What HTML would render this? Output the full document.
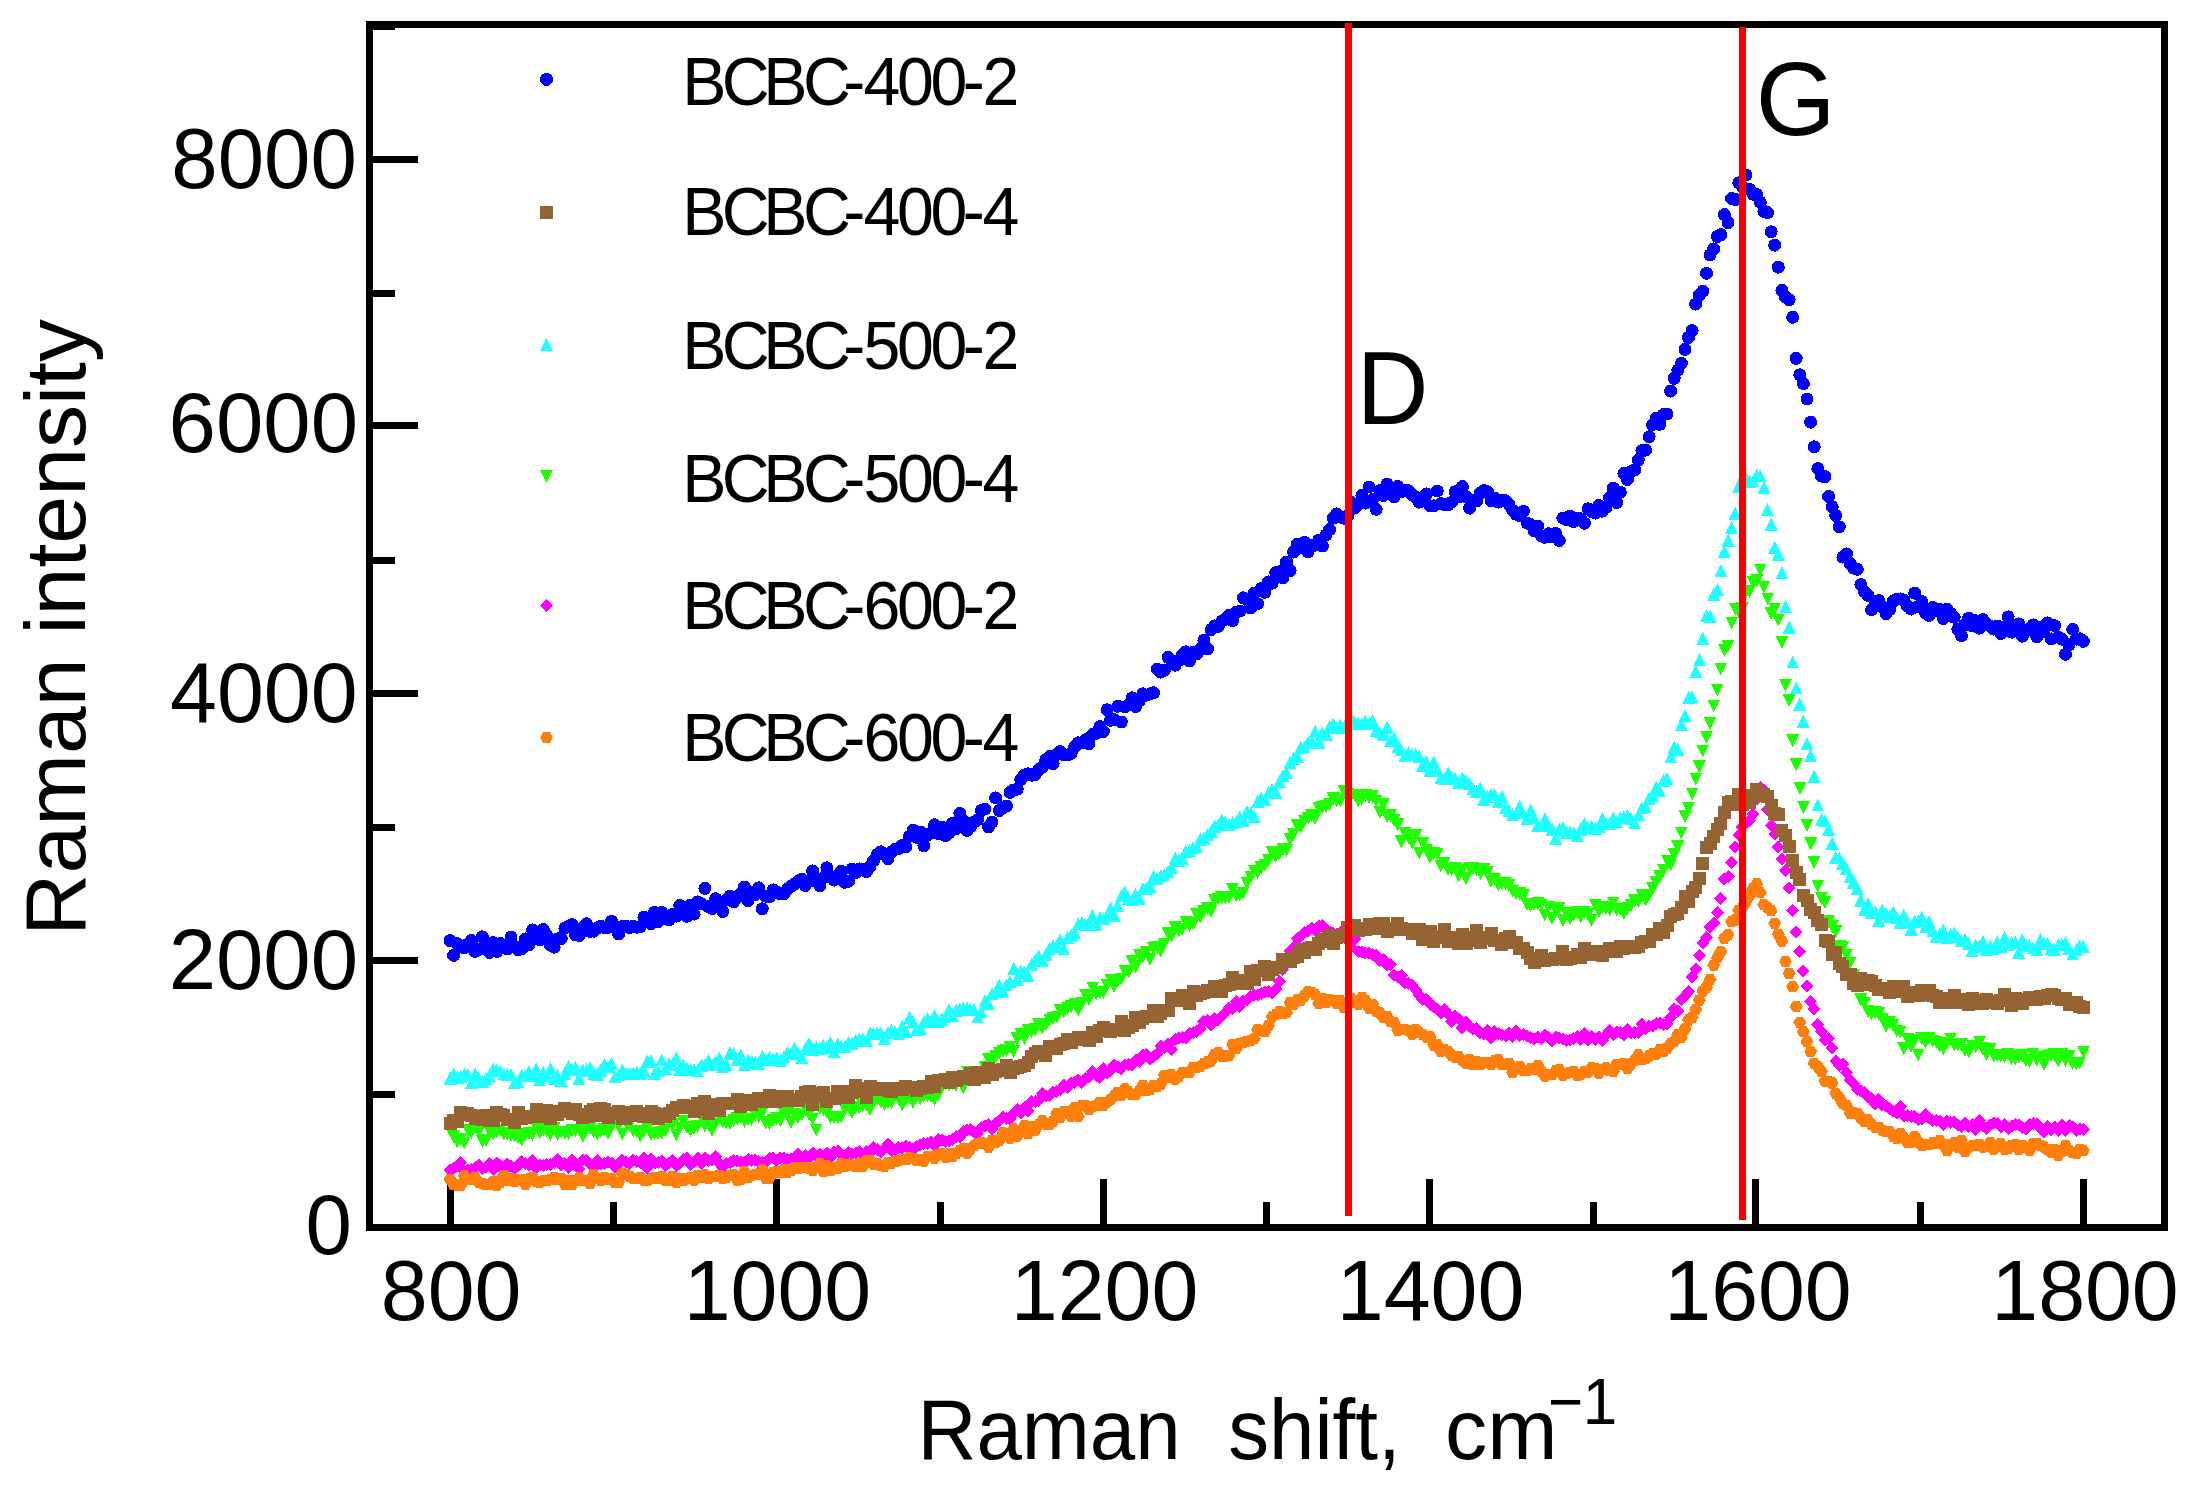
<!DOCTYPE html>
<html><head><meta charset="utf-8"><title>Raman spectra</title>
<style>html,body{margin:0;padding:0;background:#fff;overflow:hidden}svg{display:block}</style>
</head><body>
<svg xmlns="http://www.w3.org/2000/svg" width="2190" height="1490" viewBox="0 0 2190 1490">
<rect width="2190" height="1490" fill="#fff"/>
<g fill="none" stroke="#000" stroke-width="7" shape-rendering="crispEdges">
<rect x="369.5" y="24.5" width="1795" height="1203"/>
<path d="M373 960.5H418M373 693.4H418M373 425.5H418M373 159.5H418M373 1094H395M373 827H395M373 560H395M373 293H395M373 26H395M450 1224V1179M776.9 1224V1179M1103.5 1224V1179M1429.6 1224V1179M1755.5 1224V1179M2083.4 1224V1179M613.3 1224V1202M940 1224V1202M1266.7 1224V1202M1593.4 1224V1202M1920.1 1224V1202"/>
</g>
<g shape-rendering="crispEdges">
<path fill="#0000ff" d="M443.5 940.7a6.5 6.5 0 1 0 13 0a6.5 6.5 0 1 0-13 0M447.1 955.4a6.5 6.5 0 1 0 13 0a6.5 6.5 0 1 0-13 0M450.7 943.7a6.5 6.5 0 1 0 13 0a6.5 6.5 0 1 0-13 0M454.3 946.9a6.5 6.5 0 1 0 13 0a6.5 6.5 0 1 0-13 0M457.9 947.9a6.5 6.5 0 1 0 13 0a6.5 6.5 0 1 0-13 0M461.4 944.1a6.5 6.5 0 1 0 13 0a6.5 6.5 0 1 0-13 0M465 940.5a6.5 6.5 0 1 0 13 0a6.5 6.5 0 1 0-13 0M468.6 951.4a6.5 6.5 0 1 0 13 0a6.5 6.5 0 1 0-13 0M472.2 949.7a6.5 6.5 0 1 0 13 0a6.5 6.5 0 1 0-13 0M475.8 936.8a6.5 6.5 0 1 0 13 0a6.5 6.5 0 1 0-13 0M479.4 946.8a6.5 6.5 0 1 0 13 0a6.5 6.5 0 1 0-13 0M483 952.4a6.5 6.5 0 1 0 13 0a6.5 6.5 0 1 0-13 0M486.6 942.7a6.5 6.5 0 1 0 13 0a6.5 6.5 0 1 0-13 0M490.2 951.4a6.5 6.5 0 1 0 13 0a6.5 6.5 0 1 0-13 0M493.8 943.4a6.5 6.5 0 1 0 13 0a6.5 6.5 0 1 0-13 0M497.3 945.1a6.5 6.5 0 1 0 13 0a6.5 6.5 0 1 0-13 0M500.9 949a6.5 6.5 0 1 0 13 0a6.5 6.5 0 1 0-13 0M504.5 937a6.5 6.5 0 1 0 13 0a6.5 6.5 0 1 0-13 0M508.1 946.3a6.5 6.5 0 1 0 13 0a6.5 6.5 0 1 0-13 0M511.7 950a6.5 6.5 0 1 0 13 0a6.5 6.5 0 1 0-13 0M515.3 948.7a6.5 6.5 0 1 0 13 0a6.5 6.5 0 1 0-13 0M518.9 938.9a6.5 6.5 0 1 0 13 0a6.5 6.5 0 1 0-13 0M522.5 944.6a6.5 6.5 0 1 0 13 0a6.5 6.5 0 1 0-13 0M526.1 929.9a6.5 6.5 0 1 0 13 0a6.5 6.5 0 1 0-13 0M529.7 937.2a6.5 6.5 0 1 0 13 0a6.5 6.5 0 1 0-13 0M533.2 939.9a6.5 6.5 0 1 0 13 0a6.5 6.5 0 1 0-13 0M536.8 929.4a6.5 6.5 0 1 0 13 0a6.5 6.5 0 1 0-13 0M540.4 935.7a6.5 6.5 0 1 0 13 0a6.5 6.5 0 1 0-13 0M544 945.1a6.5 6.5 0 1 0 13 0a6.5 6.5 0 1 0-13 0M547.6 947.2a6.5 6.5 0 1 0 13 0a6.5 6.5 0 1 0-13 0M551.2 938.8a6.5 6.5 0 1 0 13 0a6.5 6.5 0 1 0-13 0M554.8 938.6a6.5 6.5 0 1 0 13 0a6.5 6.5 0 1 0-13 0M558.4 928.2a6.5 6.5 0 1 0 13 0a6.5 6.5 0 1 0-13 0M562 926.3a6.5 6.5 0 1 0 13 0a6.5 6.5 0 1 0-13 0M565.6 924.7a6.5 6.5 0 1 0 13 0a6.5 6.5 0 1 0-13 0M569.1 934.9a6.5 6.5 0 1 0 13 0a6.5 6.5 0 1 0-13 0M572.7 935.6a6.5 6.5 0 1 0 13 0a6.5 6.5 0 1 0-13 0M576.3 927.4a6.5 6.5 0 1 0 13 0a6.5 6.5 0 1 0-13 0M579.9 923.7a6.5 6.5 0 1 0 13 0a6.5 6.5 0 1 0-13 0M583.5 931.4a6.5 6.5 0 1 0 13 0a6.5 6.5 0 1 0-13 0M587.1 931.2a6.5 6.5 0 1 0 13 0a6.5 6.5 0 1 0-13 0M590.7 928.3a6.5 6.5 0 1 0 13 0a6.5 6.5 0 1 0-13 0M594.3 926a6.5 6.5 0 1 0 13 0a6.5 6.5 0 1 0-13 0M597.9 927.7a6.5 6.5 0 1 0 13 0a6.5 6.5 0 1 0-13 0M601.5 927.4a6.5 6.5 0 1 0 13 0a6.5 6.5 0 1 0-13 0M605 921.3a6.5 6.5 0 1 0 13 0a6.5 6.5 0 1 0-13 0M608.6 927.7a6.5 6.5 0 1 0 13 0a6.5 6.5 0 1 0-13 0M612.2 934a6.5 6.5 0 1 0 13 0a6.5 6.5 0 1 0-13 0M615.8 926.5a6.5 6.5 0 1 0 13 0a6.5 6.5 0 1 0-13 0M619.4 926.1a6.5 6.5 0 1 0 13 0a6.5 6.5 0 1 0-13 0M623 927.7a6.5 6.5 0 1 0 13 0a6.5 6.5 0 1 0-13 0M626.6 926.3a6.5 6.5 0 1 0 13 0a6.5 6.5 0 1 0-13 0M630.2 927.2a6.5 6.5 0 1 0 13 0a6.5 6.5 0 1 0-13 0M633.8 926.7a6.5 6.5 0 1 0 13 0a6.5 6.5 0 1 0-13 0M637.4 917.2a6.5 6.5 0 1 0 13 0a6.5 6.5 0 1 0-13 0M640.9 918.2a6.5 6.5 0 1 0 13 0a6.5 6.5 0 1 0-13 0M644.5 923.5a6.5 6.5 0 1 0 13 0a6.5 6.5 0 1 0-13 0M648.1 912.3a6.5 6.5 0 1 0 13 0a6.5 6.5 0 1 0-13 0M651.7 921.7a6.5 6.5 0 1 0 13 0a6.5 6.5 0 1 0-13 0M655.3 912.5a6.5 6.5 0 1 0 13 0a6.5 6.5 0 1 0-13 0M658.9 918.1a6.5 6.5 0 1 0 13 0a6.5 6.5 0 1 0-13 0M662.5 920.1a6.5 6.5 0 1 0 13 0a6.5 6.5 0 1 0-13 0M666.1 914.2a6.5 6.5 0 1 0 13 0a6.5 6.5 0 1 0-13 0M669.7 916.1a6.5 6.5 0 1 0 13 0a6.5 6.5 0 1 0-13 0M673.3 905.5a6.5 6.5 0 1 0 13 0a6.5 6.5 0 1 0-13 0M676.8 908.8a6.5 6.5 0 1 0 13 0a6.5 6.5 0 1 0-13 0M680.4 916.3a6.5 6.5 0 1 0 13 0a6.5 6.5 0 1 0-13 0M684 905.1a6.5 6.5 0 1 0 13 0a6.5 6.5 0 1 0-13 0M687.6 914.1a6.5 6.5 0 1 0 13 0a6.5 6.5 0 1 0-13 0M691.2 901.9a6.5 6.5 0 1 0 13 0a6.5 6.5 0 1 0-13 0M694.8 903.6a6.5 6.5 0 1 0 13 0a6.5 6.5 0 1 0-13 0M698.4 888.4a6.5 6.5 0 1 0 13 0a6.5 6.5 0 1 0-13 0M702 906.6a6.5 6.5 0 1 0 13 0a6.5 6.5 0 1 0-13 0M705.6 908.5a6.5 6.5 0 1 0 13 0a6.5 6.5 0 1 0-13 0M709.2 898.7a6.5 6.5 0 1 0 13 0a6.5 6.5 0 1 0-13 0M712.7 902.6a6.5 6.5 0 1 0 13 0a6.5 6.5 0 1 0-13 0M716.3 911.5a6.5 6.5 0 1 0 13 0a6.5 6.5 0 1 0-13 0M719.9 899.8a6.5 6.5 0 1 0 13 0a6.5 6.5 0 1 0-13 0M723.5 896.1a6.5 6.5 0 1 0 13 0a6.5 6.5 0 1 0-13 0M727.1 901.8a6.5 6.5 0 1 0 13 0a6.5 6.5 0 1 0-13 0M730.7 897.5a6.5 6.5 0 1 0 13 0a6.5 6.5 0 1 0-13 0M734.3 893.9a6.5 6.5 0 1 0 13 0a6.5 6.5 0 1 0-13 0M737.9 887.1a6.5 6.5 0 1 0 13 0a6.5 6.5 0 1 0-13 0M741.5 900.6a6.5 6.5 0 1 0 13 0a6.5 6.5 0 1 0-13 0M745.1 892.1a6.5 6.5 0 1 0 13 0a6.5 6.5 0 1 0-13 0M748.6 894.5a6.5 6.5 0 1 0 13 0a6.5 6.5 0 1 0-13 0M752.2 887.8a6.5 6.5 0 1 0 13 0a6.5 6.5 0 1 0-13 0M755.8 908.8a6.5 6.5 0 1 0 13 0a6.5 6.5 0 1 0-13 0M759.4 896.2a6.5 6.5 0 1 0 13 0a6.5 6.5 0 1 0-13 0M763 896.7a6.5 6.5 0 1 0 13 0a6.5 6.5 0 1 0-13 0M766.6 889.9a6.5 6.5 0 1 0 13 0a6.5 6.5 0 1 0-13 0M770.2 892.3a6.5 6.5 0 1 0 13 0a6.5 6.5 0 1 0-13 0M773.8 893.8a6.5 6.5 0 1 0 13 0a6.5 6.5 0 1 0-13 0M777.4 893.8a6.5 6.5 0 1 0 13 0a6.5 6.5 0 1 0-13 0M781 889.1a6.5 6.5 0 1 0 13 0a6.5 6.5 0 1 0-13 0M784.5 886.3a6.5 6.5 0 1 0 13 0a6.5 6.5 0 1 0-13 0M788.1 883.9a6.5 6.5 0 1 0 13 0a6.5 6.5 0 1 0-13 0M791.7 881a6.5 6.5 0 1 0 13 0a6.5 6.5 0 1 0-13 0M795.3 879a6.5 6.5 0 1 0 13 0a6.5 6.5 0 1 0-13 0M798.9 885.5a6.5 6.5 0 1 0 13 0a6.5 6.5 0 1 0-13 0M802.5 881.4a6.5 6.5 0 1 0 13 0a6.5 6.5 0 1 0-13 0M806.1 870.9a6.5 6.5 0 1 0 13 0a6.5 6.5 0 1 0-13 0M809.7 880.1a6.5 6.5 0 1 0 13 0a6.5 6.5 0 1 0-13 0M813.3 885.9a6.5 6.5 0 1 0 13 0a6.5 6.5 0 1 0-13 0M816.9 877.6a6.5 6.5 0 1 0 13 0a6.5 6.5 0 1 0-13 0M820.4 867.8a6.5 6.5 0 1 0 13 0a6.5 6.5 0 1 0-13 0M824 876.3a6.5 6.5 0 1 0 13 0a6.5 6.5 0 1 0-13 0M827.6 880.1a6.5 6.5 0 1 0 13 0a6.5 6.5 0 1 0-13 0M831.2 875.7a6.5 6.5 0 1 0 13 0a6.5 6.5 0 1 0-13 0M834.8 871.1a6.5 6.5 0 1 0 13 0a6.5 6.5 0 1 0-13 0M838.4 882.3a6.5 6.5 0 1 0 13 0a6.5 6.5 0 1 0-13 0M842 881.3a6.5 6.5 0 1 0 13 0a6.5 6.5 0 1 0-13 0M845.6 869a6.5 6.5 0 1 0 13 0a6.5 6.5 0 1 0-13 0M849.2 872.6a6.5 6.5 0 1 0 13 0a6.5 6.5 0 1 0-13 0M852.8 868.9a6.5 6.5 0 1 0 13 0a6.5 6.5 0 1 0-13 0M856.3 869.5a6.5 6.5 0 1 0 13 0a6.5 6.5 0 1 0-13 0M859.9 871.6a6.5 6.5 0 1 0 13 0a6.5 6.5 0 1 0-13 0M863.5 866.4a6.5 6.5 0 1 0 13 0a6.5 6.5 0 1 0-13 0M867.1 860.5a6.5 6.5 0 1 0 13 0a6.5 6.5 0 1 0-13 0M870.7 854.6a6.5 6.5 0 1 0 13 0a6.5 6.5 0 1 0-13 0M874.3 851.8a6.5 6.5 0 1 0 13 0a6.5 6.5 0 1 0-13 0M877.9 854.1a6.5 6.5 0 1 0 13 0a6.5 6.5 0 1 0-13 0M881.5 858.7a6.5 6.5 0 1 0 13 0a6.5 6.5 0 1 0-13 0M885.1 852.1a6.5 6.5 0 1 0 13 0a6.5 6.5 0 1 0-13 0M888.7 849a6.5 6.5 0 1 0 13 0a6.5 6.5 0 1 0-13 0M892.2 848.4a6.5 6.5 0 1 0 13 0a6.5 6.5 0 1 0-13 0M895.8 845.6a6.5 6.5 0 1 0 13 0a6.5 6.5 0 1 0-13 0M899.4 846.9a6.5 6.5 0 1 0 13 0a6.5 6.5 0 1 0-13 0M903 836.3a6.5 6.5 0 1 0 13 0a6.5 6.5 0 1 0-13 0M906.6 830.2a6.5 6.5 0 1 0 13 0a6.5 6.5 0 1 0-13 0M910.2 837.3a6.5 6.5 0 1 0 13 0a6.5 6.5 0 1 0-13 0M913.8 832a6.5 6.5 0 1 0 13 0a6.5 6.5 0 1 0-13 0M917.4 845.9a6.5 6.5 0 1 0 13 0a6.5 6.5 0 1 0-13 0M921 834.9a6.5 6.5 0 1 0 13 0a6.5 6.5 0 1 0-13 0M924.6 833.1a6.5 6.5 0 1 0 13 0a6.5 6.5 0 1 0-13 0M928.1 824.7a6.5 6.5 0 1 0 13 0a6.5 6.5 0 1 0-13 0M931.7 833.5a6.5 6.5 0 1 0 13 0a6.5 6.5 0 1 0-13 0M935.3 827.3a6.5 6.5 0 1 0 13 0a6.5 6.5 0 1 0-13 0M938.9 835.7a6.5 6.5 0 1 0 13 0a6.5 6.5 0 1 0-13 0M942.5 833.1a6.5 6.5 0 1 0 13 0a6.5 6.5 0 1 0-13 0M946.1 823.2a6.5 6.5 0 1 0 13 0a6.5 6.5 0 1 0-13 0M949.7 828.7a6.5 6.5 0 1 0 13 0a6.5 6.5 0 1 0-13 0M953.3 813.4a6.5 6.5 0 1 0 13 0a6.5 6.5 0 1 0-13 0M956.9 820.8a6.5 6.5 0 1 0 13 0a6.5 6.5 0 1 0-13 0M960.5 830.3a6.5 6.5 0 1 0 13 0a6.5 6.5 0 1 0-13 0M964 826.7a6.5 6.5 0 1 0 13 0a6.5 6.5 0 1 0-13 0M967.6 822.1a6.5 6.5 0 1 0 13 0a6.5 6.5 0 1 0-13 0M971.2 819.6a6.5 6.5 0 1 0 13 0a6.5 6.5 0 1 0-13 0M974.8 810.5a6.5 6.5 0 1 0 13 0a6.5 6.5 0 1 0-13 0M978.4 809.1a6.5 6.5 0 1 0 13 0a6.5 6.5 0 1 0-13 0M982 826.9a6.5 6.5 0 1 0 13 0a6.5 6.5 0 1 0-13 0M985.6 822a6.5 6.5 0 1 0 13 0a6.5 6.5 0 1 0-13 0M989.2 797.9a6.5 6.5 0 1 0 13 0a6.5 6.5 0 1 0-13 0M992.8 810.6a6.5 6.5 0 1 0 13 0a6.5 6.5 0 1 0-13 0M996.4 807.6a6.5 6.5 0 1 0 13 0a6.5 6.5 0 1 0-13 0M999.9 806.1a6.5 6.5 0 1 0 13 0a6.5 6.5 0 1 0-13 0M1003.5 792.3a6.5 6.5 0 1 0 13 0a6.5 6.5 0 1 0-13 0M1007.1 790.1a6.5 6.5 0 1 0 13 0a6.5 6.5 0 1 0-13 0M1010.7 789.2a6.5 6.5 0 1 0 13 0a6.5 6.5 0 1 0-13 0M1014.3 779.5a6.5 6.5 0 1 0 13 0a6.5 6.5 0 1 0-13 0M1017.9 775a6.5 6.5 0 1 0 13 0a6.5 6.5 0 1 0-13 0M1021.5 773.8a6.5 6.5 0 1 0 13 0a6.5 6.5 0 1 0-13 0M1025.1 775.2a6.5 6.5 0 1 0 13 0a6.5 6.5 0 1 0-13 0M1028.7 774.6a6.5 6.5 0 1 0 13 0a6.5 6.5 0 1 0-13 0M1032.3 769.5a6.5 6.5 0 1 0 13 0a6.5 6.5 0 1 0-13 0M1035.8 767.1a6.5 6.5 0 1 0 13 0a6.5 6.5 0 1 0-13 0M1039.4 759.9a6.5 6.5 0 1 0 13 0a6.5 6.5 0 1 0-13 0M1043 756.6a6.5 6.5 0 1 0 13 0a6.5 6.5 0 1 0-13 0M1046.6 763.7a6.5 6.5 0 1 0 13 0a6.5 6.5 0 1 0-13 0M1050.2 754.4a6.5 6.5 0 1 0 13 0a6.5 6.5 0 1 0-13 0M1053.8 751.6a6.5 6.5 0 1 0 13 0a6.5 6.5 0 1 0-13 0M1057.4 755a6.5 6.5 0 1 0 13 0a6.5 6.5 0 1 0-13 0M1061 754.9a6.5 6.5 0 1 0 13 0a6.5 6.5 0 1 0-13 0M1064.6 753.4a6.5 6.5 0 1 0 13 0a6.5 6.5 0 1 0-13 0M1068.2 747a6.5 6.5 0 1 0 13 0a6.5 6.5 0 1 0-13 0M1071.7 742.8a6.5 6.5 0 1 0 13 0a6.5 6.5 0 1 0-13 0M1075.3 742.7a6.5 6.5 0 1 0 13 0a6.5 6.5 0 1 0-13 0M1078.9 739.7a6.5 6.5 0 1 0 13 0a6.5 6.5 0 1 0-13 0M1082.5 743.6a6.5 6.5 0 1 0 13 0a6.5 6.5 0 1 0-13 0M1086.1 734.5a6.5 6.5 0 1 0 13 0a6.5 6.5 0 1 0-13 0M1089.7 733.3a6.5 6.5 0 1 0 13 0a6.5 6.5 0 1 0-13 0M1093.3 726.6a6.5 6.5 0 1 0 13 0a6.5 6.5 0 1 0-13 0M1096.9 731.5a6.5 6.5 0 1 0 13 0a6.5 6.5 0 1 0-13 0M1100.5 709.8a6.5 6.5 0 1 0 13 0a6.5 6.5 0 1 0-13 0M1104.1 720.3a6.5 6.5 0 1 0 13 0a6.5 6.5 0 1 0-13 0M1107.6 719.6a6.5 6.5 0 1 0 13 0a6.5 6.5 0 1 0-13 0M1111.2 706.3a6.5 6.5 0 1 0 13 0a6.5 6.5 0 1 0-13 0M1114.8 722a6.5 6.5 0 1 0 13 0a6.5 6.5 0 1 0-13 0M1118.4 706.9a6.5 6.5 0 1 0 13 0a6.5 6.5 0 1 0-13 0M1122 704.8a6.5 6.5 0 1 0 13 0a6.5 6.5 0 1 0-13 0M1125.6 697.8a6.5 6.5 0 1 0 13 0a6.5 6.5 0 1 0-13 0M1129.2 706.6a6.5 6.5 0 1 0 13 0a6.5 6.5 0 1 0-13 0M1132.8 700.9a6.5 6.5 0 1 0 13 0a6.5 6.5 0 1 0-13 0M1136.4 693.8a6.5 6.5 0 1 0 13 0a6.5 6.5 0 1 0-13 0M1140 695.2a6.5 6.5 0 1 0 13 0a6.5 6.5 0 1 0-13 0M1143.5 693.9a6.5 6.5 0 1 0 13 0a6.5 6.5 0 1 0-13 0M1147.1 692.7a6.5 6.5 0 1 0 13 0a6.5 6.5 0 1 0-13 0M1150.7 669a6.5 6.5 0 1 0 13 0a6.5 6.5 0 1 0-13 0M1154.3 672.1a6.5 6.5 0 1 0 13 0a6.5 6.5 0 1 0-13 0M1157.9 670.4a6.5 6.5 0 1 0 13 0a6.5 6.5 0 1 0-13 0M1161.5 657.2a6.5 6.5 0 1 0 13 0a6.5 6.5 0 1 0-13 0M1165.1 661a6.5 6.5 0 1 0 13 0a6.5 6.5 0 1 0-13 0M1168.7 665.2a6.5 6.5 0 1 0 13 0a6.5 6.5 0 1 0-13 0M1172.3 660.5a6.5 6.5 0 1 0 13 0a6.5 6.5 0 1 0-13 0M1175.9 654.9a6.5 6.5 0 1 0 13 0a6.5 6.5 0 1 0-13 0M1179.4 651.8a6.5 6.5 0 1 0 13 0a6.5 6.5 0 1 0-13 0M1183 660.9a6.5 6.5 0 1 0 13 0a6.5 6.5 0 1 0-13 0M1186.6 652.2a6.5 6.5 0 1 0 13 0a6.5 6.5 0 1 0-13 0M1190.2 653.9a6.5 6.5 0 1 0 13 0a6.5 6.5 0 1 0-13 0M1193.8 649a6.5 6.5 0 1 0 13 0a6.5 6.5 0 1 0-13 0M1197.4 640.2a6.5 6.5 0 1 0 13 0a6.5 6.5 0 1 0-13 0M1201 648.9a6.5 6.5 0 1 0 13 0a6.5 6.5 0 1 0-13 0M1204.6 629.7a6.5 6.5 0 1 0 13 0a6.5 6.5 0 1 0-13 0M1208.2 625.9a6.5 6.5 0 1 0 13 0a6.5 6.5 0 1 0-13 0M1211.8 626.3a6.5 6.5 0 1 0 13 0a6.5 6.5 0 1 0-13 0M1215.3 621.2a6.5 6.5 0 1 0 13 0a6.5 6.5 0 1 0-13 0M1218.9 618.8a6.5 6.5 0 1 0 13 0a6.5 6.5 0 1 0-13 0M1222.5 615.2a6.5 6.5 0 1 0 13 0a6.5 6.5 0 1 0-13 0M1226.1 620.6a6.5 6.5 0 1 0 13 0a6.5 6.5 0 1 0-13 0M1229.7 612.4a6.5 6.5 0 1 0 13 0a6.5 6.5 0 1 0-13 0M1233.3 611.1a6.5 6.5 0 1 0 13 0a6.5 6.5 0 1 0-13 0M1236.9 597.8a6.5 6.5 0 1 0 13 0a6.5 6.5 0 1 0-13 0M1240.5 599.6a6.5 6.5 0 1 0 13 0a6.5 6.5 0 1 0-13 0M1244.1 608a6.5 6.5 0 1 0 13 0a6.5 6.5 0 1 0-13 0M1247.7 593.1a6.5 6.5 0 1 0 13 0a6.5 6.5 0 1 0-13 0M1251.2 603.7a6.5 6.5 0 1 0 13 0a6.5 6.5 0 1 0-13 0M1254.8 588.6a6.5 6.5 0 1 0 13 0a6.5 6.5 0 1 0-13 0M1258.4 592.3a6.5 6.5 0 1 0 13 0a6.5 6.5 0 1 0-13 0M1262 581.9a6.5 6.5 0 1 0 13 0a6.5 6.5 0 1 0-13 0M1265.6 583.2a6.5 6.5 0 1 0 13 0a6.5 6.5 0 1 0-13 0M1269.2 572.6a6.5 6.5 0 1 0 13 0a6.5 6.5 0 1 0-13 0M1272.8 571.7a6.5 6.5 0 1 0 13 0a6.5 6.5 0 1 0-13 0M1276.4 577.9a6.5 6.5 0 1 0 13 0a6.5 6.5 0 1 0-13 0M1280 562a6.5 6.5 0 1 0 13 0a6.5 6.5 0 1 0-13 0M1283.6 570.5a6.5 6.5 0 1 0 13 0a6.5 6.5 0 1 0-13 0M1287.1 552.1a6.5 6.5 0 1 0 13 0a6.5 6.5 0 1 0-13 0M1290.7 544.1a6.5 6.5 0 1 0 13 0a6.5 6.5 0 1 0-13 0M1294.3 547.5a6.5 6.5 0 1 0 13 0a6.5 6.5 0 1 0-13 0M1297.9 542.3a6.5 6.5 0 1 0 13 0a6.5 6.5 0 1 0-13 0M1301.5 552.1a6.5 6.5 0 1 0 13 0a6.5 6.5 0 1 0-13 0M1305.1 545.3a6.5 6.5 0 1 0 13 0a6.5 6.5 0 1 0-13 0M1308.7 545.2a6.5 6.5 0 1 0 13 0a6.5 6.5 0 1 0-13 0M1312.3 540a6.5 6.5 0 1 0 13 0a6.5 6.5 0 1 0-13 0M1315.9 546a6.5 6.5 0 1 0 13 0a6.5 6.5 0 1 0-13 0M1319.5 534.9a6.5 6.5 0 1 0 13 0a6.5 6.5 0 1 0-13 0M1323 529.6a6.5 6.5 0 1 0 13 0a6.5 6.5 0 1 0-13 0M1326.6 518.2a6.5 6.5 0 1 0 13 0a6.5 6.5 0 1 0-13 0M1330.2 513.9a6.5 6.5 0 1 0 13 0a6.5 6.5 0 1 0-13 0M1333.8 516.6a6.5 6.5 0 1 0 13 0a6.5 6.5 0 1 0-13 0M1337.4 518.2a6.5 6.5 0 1 0 13 0a6.5 6.5 0 1 0-13 0M1341 516.2a6.5 6.5 0 1 0 13 0a6.5 6.5 0 1 0-13 0M1344.6 502.3a6.5 6.5 0 1 0 13 0a6.5 6.5 0 1 0-13 0M1348.2 508.1a6.5 6.5 0 1 0 13 0a6.5 6.5 0 1 0-13 0M1351.8 504.3a6.5 6.5 0 1 0 13 0a6.5 6.5 0 1 0-13 0M1355.4 495.5a6.5 6.5 0 1 0 13 0a6.5 6.5 0 1 0-13 0M1358.9 503.1a6.5 6.5 0 1 0 13 0a6.5 6.5 0 1 0-13 0M1362.5 487a6.5 6.5 0 1 0 13 0a6.5 6.5 0 1 0-13 0M1366.1 499.6a6.5 6.5 0 1 0 13 0a6.5 6.5 0 1 0-13 0M1369.7 509.3a6.5 6.5 0 1 0 13 0a6.5 6.5 0 1 0-13 0M1373.3 490.7a6.5 6.5 0 1 0 13 0a6.5 6.5 0 1 0-13 0M1376.9 495.5a6.5 6.5 0 1 0 13 0a6.5 6.5 0 1 0-13 0M1380.5 484a6.5 6.5 0 1 0 13 0a6.5 6.5 0 1 0-13 0M1384.1 489.4a6.5 6.5 0 1 0 13 0a6.5 6.5 0 1 0-13 0M1387.7 496.9a6.5 6.5 0 1 0 13 0a6.5 6.5 0 1 0-13 0M1391.3 486.5a6.5 6.5 0 1 0 13 0a6.5 6.5 0 1 0-13 0M1394.8 491.8a6.5 6.5 0 1 0 13 0a6.5 6.5 0 1 0-13 0M1398.4 490.3a6.5 6.5 0 1 0 13 0a6.5 6.5 0 1 0-13 0M1402 490.7a6.5 6.5 0 1 0 13 0a6.5 6.5 0 1 0-13 0M1405.6 494.6a6.5 6.5 0 1 0 13 0a6.5 6.5 0 1 0-13 0M1409.2 497.2a6.5 6.5 0 1 0 13 0a6.5 6.5 0 1 0-13 0M1412.8 502.2a6.5 6.5 0 1 0 13 0a6.5 6.5 0 1 0-13 0M1416.4 500.8a6.5 6.5 0 1 0 13 0a6.5 6.5 0 1 0-13 0M1420 493.9a6.5 6.5 0 1 0 13 0a6.5 6.5 0 1 0-13 0M1423.6 505.8a6.5 6.5 0 1 0 13 0a6.5 6.5 0 1 0-13 0M1427.2 505.8a6.5 6.5 0 1 0 13 0a6.5 6.5 0 1 0-13 0M1430.7 491a6.5 6.5 0 1 0 13 0a6.5 6.5 0 1 0-13 0M1434.3 503.6a6.5 6.5 0 1 0 13 0a6.5 6.5 0 1 0-13 0M1437.9 504.5a6.5 6.5 0 1 0 13 0a6.5 6.5 0 1 0-13 0M1441.5 505a6.5 6.5 0 1 0 13 0a6.5 6.5 0 1 0-13 0M1445.1 502.3a6.5 6.5 0 1 0 13 0a6.5 6.5 0 1 0-13 0M1448.7 491.7a6.5 6.5 0 1 0 13 0a6.5 6.5 0 1 0-13 0M1452.3 496.9a6.5 6.5 0 1 0 13 0a6.5 6.5 0 1 0-13 0M1455.9 486.6a6.5 6.5 0 1 0 13 0a6.5 6.5 0 1 0-13 0M1459.5 496.7a6.5 6.5 0 1 0 13 0a6.5 6.5 0 1 0-13 0M1463.1 508.2a6.5 6.5 0 1 0 13 0a6.5 6.5 0 1 0-13 0M1466.6 500.4a6.5 6.5 0 1 0 13 0a6.5 6.5 0 1 0-13 0M1470.2 500.8a6.5 6.5 0 1 0 13 0a6.5 6.5 0 1 0-13 0M1473.8 493.2a6.5 6.5 0 1 0 13 0a6.5 6.5 0 1 0-13 0M1477.4 490.6a6.5 6.5 0 1 0 13 0a6.5 6.5 0 1 0-13 0M1481 491.7a6.5 6.5 0 1 0 13 0a6.5 6.5 0 1 0-13 0M1484.6 500.6a6.5 6.5 0 1 0 13 0a6.5 6.5 0 1 0-13 0M1488.2 498.3a6.5 6.5 0 1 0 13 0a6.5 6.5 0 1 0-13 0M1491.8 502.1a6.5 6.5 0 1 0 13 0a6.5 6.5 0 1 0-13 0M1495.4 500.1a6.5 6.5 0 1 0 13 0a6.5 6.5 0 1 0-13 0M1499 500.8a6.5 6.5 0 1 0 13 0a6.5 6.5 0 1 0-13 0M1502.5 504.2a6.5 6.5 0 1 0 13 0a6.5 6.5 0 1 0-13 0M1506.1 510.3a6.5 6.5 0 1 0 13 0a6.5 6.5 0 1 0-13 0M1509.7 514.3a6.5 6.5 0 1 0 13 0a6.5 6.5 0 1 0-13 0M1513.3 516a6.5 6.5 0 1 0 13 0a6.5 6.5 0 1 0-13 0M1516.9 511.3a6.5 6.5 0 1 0 13 0a6.5 6.5 0 1 0-13 0M1520.5 523a6.5 6.5 0 1 0 13 0a6.5 6.5 0 1 0-13 0M1524.1 524.6a6.5 6.5 0 1 0 13 0a6.5 6.5 0 1 0-13 0M1527.7 530.8a6.5 6.5 0 1 0 13 0a6.5 6.5 0 1 0-13 0M1531.3 526.1a6.5 6.5 0 1 0 13 0a6.5 6.5 0 1 0-13 0M1534.9 535.8a6.5 6.5 0 1 0 13 0a6.5 6.5 0 1 0-13 0M1538.4 537.3a6.5 6.5 0 1 0 13 0a6.5 6.5 0 1 0-13 0M1542 533.8a6.5 6.5 0 1 0 13 0a6.5 6.5 0 1 0-13 0M1545.6 536.8a6.5 6.5 0 1 0 13 0a6.5 6.5 0 1 0-13 0M1549.2 533.4a6.5 6.5 0 1 0 13 0a6.5 6.5 0 1 0-13 0M1552.8 540.6a6.5 6.5 0 1 0 13 0a6.5 6.5 0 1 0-13 0M1556.4 518a6.5 6.5 0 1 0 13 0a6.5 6.5 0 1 0-13 0M1560 519.7a6.5 6.5 0 1 0 13 0a6.5 6.5 0 1 0-13 0M1563.6 516.1a6.5 6.5 0 1 0 13 0a6.5 6.5 0 1 0-13 0M1567.2 521.7a6.5 6.5 0 1 0 13 0a6.5 6.5 0 1 0-13 0M1570.8 518.6a6.5 6.5 0 1 0 13 0a6.5 6.5 0 1 0-13 0M1574.3 518.7a6.5 6.5 0 1 0 13 0a6.5 6.5 0 1 0-13 0M1577.9 523.3a6.5 6.5 0 1 0 13 0a6.5 6.5 0 1 0-13 0M1581.5 508.8a6.5 6.5 0 1 0 13 0a6.5 6.5 0 1 0-13 0M1585.1 511.5a6.5 6.5 0 1 0 13 0a6.5 6.5 0 1 0-13 0M1588.7 513.1a6.5 6.5 0 1 0 13 0a6.5 6.5 0 1 0-13 0M1592.3 505.5a6.5 6.5 0 1 0 13 0a6.5 6.5 0 1 0-13 0M1595.9 511.2a6.5 6.5 0 1 0 13 0a6.5 6.5 0 1 0-13 0M1599.5 507.2a6.5 6.5 0 1 0 13 0a6.5 6.5 0 1 0-13 0M1603.1 497.5a6.5 6.5 0 1 0 13 0a6.5 6.5 0 1 0-13 0M1606.7 488a6.5 6.5 0 1 0 13 0a6.5 6.5 0 1 0-13 0M1610.2 502.6a6.5 6.5 0 1 0 13 0a6.5 6.5 0 1 0-13 0M1613.8 492.2a6.5 6.5 0 1 0 13 0a6.5 6.5 0 1 0-13 0M1617.4 473.4a6.5 6.5 0 1 0 13 0a6.5 6.5 0 1 0-13 0M1621 479.5a6.5 6.5 0 1 0 13 0a6.5 6.5 0 1 0-13 0M1624.6 471.7a6.5 6.5 0 1 0 13 0a6.5 6.5 0 1 0-13 0M1628.2 470a6.5 6.5 0 1 0 13 0a6.5 6.5 0 1 0-13 0M1631.8 460a6.5 6.5 0 1 0 13 0a6.5 6.5 0 1 0-13 0M1635.4 450.7a6.5 6.5 0 1 0 13 0a6.5 6.5 0 1 0-13 0M1639 450.1a6.5 6.5 0 1 0 13 0a6.5 6.5 0 1 0-13 0M1642.6 436.8a6.5 6.5 0 1 0 13 0a6.5 6.5 0 1 0-13 0M1646.1 424.7a6.5 6.5 0 1 0 13 0a6.5 6.5 0 1 0-13 0M1649.7 418.3a6.5 6.5 0 1 0 13 0a6.5 6.5 0 1 0-13 0M1653.3 424.3a6.5 6.5 0 1 0 13 0a6.5 6.5 0 1 0-13 0M1656.9 414.6a6.5 6.5 0 1 0 13 0a6.5 6.5 0 1 0-13 0M1660.5 414.1a6.5 6.5 0 1 0 13 0a6.5 6.5 0 1 0-13 0M1664.1 391.1a6.5 6.5 0 1 0 13 0a6.5 6.5 0 1 0-13 0M1667.7 378.4a6.5 6.5 0 1 0 13 0a6.5 6.5 0 1 0-13 0M1671.3 370.3a6.5 6.5 0 1 0 13 0a6.5 6.5 0 1 0-13 0M1674.9 363.4a6.5 6.5 0 1 0 13 0a6.5 6.5 0 1 0-13 0M1678.5 349.3a6.5 6.5 0 1 0 13 0a6.5 6.5 0 1 0-13 0M1682 337.5a6.5 6.5 0 1 0 13 0a6.5 6.5 0 1 0-13 0M1685.6 330.6a6.5 6.5 0 1 0 13 0a6.5 6.5 0 1 0-13 0M1689.2 304.1a6.5 6.5 0 1 0 13 0a6.5 6.5 0 1 0-13 0M1692.8 295.1a6.5 6.5 0 1 0 13 0a6.5 6.5 0 1 0-13 0M1696.4 291.1a6.5 6.5 0 1 0 13 0a6.5 6.5 0 1 0-13 0M1700 273.3a6.5 6.5 0 1 0 13 0a6.5 6.5 0 1 0-13 0M1703.6 255a6.5 6.5 0 1 0 13 0a6.5 6.5 0 1 0-13 0M1707.2 248.9a6.5 6.5 0 1 0 13 0a6.5 6.5 0 1 0-13 0M1710.8 236.6a6.5 6.5 0 1 0 13 0a6.5 6.5 0 1 0-13 0M1714.4 234.7a6.5 6.5 0 1 0 13 0a6.5 6.5 0 1 0-13 0M1717.9 214.6a6.5 6.5 0 1 0 13 0a6.5 6.5 0 1 0-13 0M1721.5 222.5a6.5 6.5 0 1 0 13 0a6.5 6.5 0 1 0-13 0M1725.1 198.5a6.5 6.5 0 1 0 13 0a6.5 6.5 0 1 0-13 0M1728.7 199.5a6.5 6.5 0 1 0 13 0a6.5 6.5 0 1 0-13 0M1732.3 182.8a6.5 6.5 0 1 0 13 0a6.5 6.5 0 1 0-13 0M1735.9 186.7a6.5 6.5 0 1 0 13 0a6.5 6.5 0 1 0-13 0M1739.5 175a6.5 6.5 0 1 0 13 0a6.5 6.5 0 1 0-13 0M1743.1 189.3a6.5 6.5 0 1 0 13 0a6.5 6.5 0 1 0-13 0M1746.7 194.3a6.5 6.5 0 1 0 13 0a6.5 6.5 0 1 0-13 0M1750.3 194.5a6.5 6.5 0 1 0 13 0a6.5 6.5 0 1 0-13 0M1753.8 202.3a6.5 6.5 0 1 0 13 0a6.5 6.5 0 1 0-13 0M1757.4 211.3a6.5 6.5 0 1 0 13 0a6.5 6.5 0 1 0-13 0M1761 212.6a6.5 6.5 0 1 0 13 0a6.5 6.5 0 1 0-13 0M1764.6 231.8a6.5 6.5 0 1 0 13 0a6.5 6.5 0 1 0-13 0M1768.2 245.2a6.5 6.5 0 1 0 13 0a6.5 6.5 0 1 0-13 0M1771.8 267.2a6.5 6.5 0 1 0 13 0a6.5 6.5 0 1 0-13 0M1775.4 290.4a6.5 6.5 0 1 0 13 0a6.5 6.5 0 1 0-13 0M1779 297.1a6.5 6.5 0 1 0 13 0a6.5 6.5 0 1 0-13 0M1782.6 299.8a6.5 6.5 0 1 0 13 0a6.5 6.5 0 1 0-13 0M1786.2 317.3a6.5 6.5 0 1 0 13 0a6.5 6.5 0 1 0-13 0M1789.7 358.4a6.5 6.5 0 1 0 13 0a6.5 6.5 0 1 0-13 0M1793.3 374.8a6.5 6.5 0 1 0 13 0a6.5 6.5 0 1 0-13 0M1796.9 383.6a6.5 6.5 0 1 0 13 0a6.5 6.5 0 1 0-13 0M1800.5 399.1a6.5 6.5 0 1 0 13 0a6.5 6.5 0 1 0-13 0M1804.1 422.2a6.5 6.5 0 1 0 13 0a6.5 6.5 0 1 0-13 0M1807.7 446.8a6.5 6.5 0 1 0 13 0a6.5 6.5 0 1 0-13 0M1811.3 468.6a6.5 6.5 0 1 0 13 0a6.5 6.5 0 1 0-13 0M1814.9 476.1a6.5 6.5 0 1 0 13 0a6.5 6.5 0 1 0-13 0M1818.5 476.7a6.5 6.5 0 1 0 13 0a6.5 6.5 0 1 0-13 0M1822.1 496.5a6.5 6.5 0 1 0 13 0a6.5 6.5 0 1 0-13 0M1825.6 506.9a6.5 6.5 0 1 0 13 0a6.5 6.5 0 1 0-13 0M1829.2 515.6a6.5 6.5 0 1 0 13 0a6.5 6.5 0 1 0-13 0M1832.8 526.8a6.5 6.5 0 1 0 13 0a6.5 6.5 0 1 0-13 0M1836.4 557.1a6.5 6.5 0 1 0 13 0a6.5 6.5 0 1 0-13 0M1840 553.9a6.5 6.5 0 1 0 13 0a6.5 6.5 0 1 0-13 0M1843.6 563.4a6.5 6.5 0 1 0 13 0a6.5 6.5 0 1 0-13 0M1847.2 568.1a6.5 6.5 0 1 0 13 0a6.5 6.5 0 1 0-13 0M1850.8 569.3a6.5 6.5 0 1 0 13 0a6.5 6.5 0 1 0-13 0M1854.4 584.7a6.5 6.5 0 1 0 13 0a6.5 6.5 0 1 0-13 0M1858 591.6a6.5 6.5 0 1 0 13 0a6.5 6.5 0 1 0-13 0M1861.5 595.3a6.5 6.5 0 1 0 13 0a6.5 6.5 0 1 0-13 0M1865.1 609.7a6.5 6.5 0 1 0 13 0a6.5 6.5 0 1 0-13 0M1868.7 601.6a6.5 6.5 0 1 0 13 0a6.5 6.5 0 1 0-13 0M1872.3 600.6a6.5 6.5 0 1 0 13 0a6.5 6.5 0 1 0-13 0M1875.9 606.8a6.5 6.5 0 1 0 13 0a6.5 6.5 0 1 0-13 0M1879.5 613.7a6.5 6.5 0 1 0 13 0a6.5 6.5 0 1 0-13 0M1883.1 609.5a6.5 6.5 0 1 0 13 0a6.5 6.5 0 1 0-13 0M1886.7 601.4a6.5 6.5 0 1 0 13 0a6.5 6.5 0 1 0-13 0M1890.3 599.3a6.5 6.5 0 1 0 13 0a6.5 6.5 0 1 0-13 0M1893.9 598.9a6.5 6.5 0 1 0 13 0a6.5 6.5 0 1 0-13 0M1897.4 600.4a6.5 6.5 0 1 0 13 0a6.5 6.5 0 1 0-13 0M1901 606.1a6.5 6.5 0 1 0 13 0a6.5 6.5 0 1 0-13 0M1904.6 609.1a6.5 6.5 0 1 0 13 0a6.5 6.5 0 1 0-13 0M1908.2 593.2a6.5 6.5 0 1 0 13 0a6.5 6.5 0 1 0-13 0M1911.8 606.4a6.5 6.5 0 1 0 13 0a6.5 6.5 0 1 0-13 0M1915.4 601.7a6.5 6.5 0 1 0 13 0a6.5 6.5 0 1 0-13 0M1919 612.9a6.5 6.5 0 1 0 13 0a6.5 6.5 0 1 0-13 0M1922.6 615.4a6.5 6.5 0 1 0 13 0a6.5 6.5 0 1 0-13 0M1926.2 607.4a6.5 6.5 0 1 0 13 0a6.5 6.5 0 1 0-13 0M1929.8 610.7a6.5 6.5 0 1 0 13 0a6.5 6.5 0 1 0-13 0M1933.3 609.5a6.5 6.5 0 1 0 13 0a6.5 6.5 0 1 0-13 0M1936.9 618.5a6.5 6.5 0 1 0 13 0a6.5 6.5 0 1 0-13 0M1940.5 609.2a6.5 6.5 0 1 0 13 0a6.5 6.5 0 1 0-13 0M1944.1 613.4a6.5 6.5 0 1 0 13 0a6.5 6.5 0 1 0-13 0M1947.7 617.3a6.5 6.5 0 1 0 13 0a6.5 6.5 0 1 0-13 0M1951.3 629.2a6.5 6.5 0 1 0 13 0a6.5 6.5 0 1 0-13 0M1954.9 635.7a6.5 6.5 0 1 0 13 0a6.5 6.5 0 1 0-13 0M1958.5 624.5a6.5 6.5 0 1 0 13 0a6.5 6.5 0 1 0-13 0M1962.1 618.2a6.5 6.5 0 1 0 13 0a6.5 6.5 0 1 0-13 0M1965.7 625.7a6.5 6.5 0 1 0 13 0a6.5 6.5 0 1 0-13 0M1969.2 620.7a6.5 6.5 0 1 0 13 0a6.5 6.5 0 1 0-13 0M1972.8 628.2a6.5 6.5 0 1 0 13 0a6.5 6.5 0 1 0-13 0M1976.4 619.7a6.5 6.5 0 1 0 13 0a6.5 6.5 0 1 0-13 0M1980 624a6.5 6.5 0 1 0 13 0a6.5 6.5 0 1 0-13 0M1983.6 626.1a6.5 6.5 0 1 0 13 0a6.5 6.5 0 1 0-13 0M1987.2 629.1a6.5 6.5 0 1 0 13 0a6.5 6.5 0 1 0-13 0M1990.8 626a6.5 6.5 0 1 0 13 0a6.5 6.5 0 1 0-13 0M1994.4 633.5a6.5 6.5 0 1 0 13 0a6.5 6.5 0 1 0-13 0M1998 627.4a6.5 6.5 0 1 0 13 0a6.5 6.5 0 1 0-13 0M2001.6 616.9a6.5 6.5 0 1 0 13 0a6.5 6.5 0 1 0-13 0M2005.1 632.2a6.5 6.5 0 1 0 13 0a6.5 6.5 0 1 0-13 0M2008.7 625.8a6.5 6.5 0 1 0 13 0a6.5 6.5 0 1 0-13 0M2012.3 623.9a6.5 6.5 0 1 0 13 0a6.5 6.5 0 1 0-13 0M2015.9 636.2a6.5 6.5 0 1 0 13 0a6.5 6.5 0 1 0-13 0M2019.5 631.1a6.5 6.5 0 1 0 13 0a6.5 6.5 0 1 0-13 0M2023.1 628.9a6.5 6.5 0 1 0 13 0a6.5 6.5 0 1 0-13 0M2026.7 624.9a6.5 6.5 0 1 0 13 0a6.5 6.5 0 1 0-13 0M2030.3 636.7a6.5 6.5 0 1 0 13 0a6.5 6.5 0 1 0-13 0M2033.9 627.6a6.5 6.5 0 1 0 13 0a6.5 6.5 0 1 0-13 0M2037.5 631.4a6.5 6.5 0 1 0 13 0a6.5 6.5 0 1 0-13 0M2041 622.9a6.5 6.5 0 1 0 13 0a6.5 6.5 0 1 0-13 0M2044.6 638.9a6.5 6.5 0 1 0 13 0a6.5 6.5 0 1 0-13 0M2048.2 625.7a6.5 6.5 0 1 0 13 0a6.5 6.5 0 1 0-13 0M2051.8 637.3a6.5 6.5 0 1 0 13 0a6.5 6.5 0 1 0-13 0M2055.4 639.2a6.5 6.5 0 1 0 13 0a6.5 6.5 0 1 0-13 0M2059 654.3a6.5 6.5 0 1 0 13 0a6.5 6.5 0 1 0-13 0M2062.6 644.8a6.5 6.5 0 1 0 13 0a6.5 6.5 0 1 0-13 0M2066.2 629.4a6.5 6.5 0 1 0 13 0a6.5 6.5 0 1 0-13 0M2069.8 639.1a6.5 6.5 0 1 0 13 0a6.5 6.5 0 1 0-13 0M2073.4 638.8a6.5 6.5 0 1 0 13 0a6.5 6.5 0 1 0-13 0M2076.9 641.4a6.5 6.5 0 1 0 13 0a6.5 6.5 0 1 0-13 0"/>
<path fill="#20ffff" d="M450 1071.5l6.5 13h-13zM453.6 1067.4l6.5 13h-13zM457.2 1070.5l6.5 13h-13zM460.8 1069.9l6.5 13h-13zM464.4 1068.2l6.5 13h-13zM467.9 1067.9l6.5 13h-13zM471.5 1075.5l6.5 13h-13zM475.1 1067.4l6.5 13h-13zM478.7 1071.1l6.5 13h-13zM482.3 1074.6l6.5 13h-13zM485.9 1072.1l6.5 13h-13zM489.5 1069.3l6.5 13h-13zM493.1 1062.6l6.5 13h-13zM496.7 1063.6l6.5 13h-13zM500.3 1064.3l6.5 13h-13zM503.8 1067.4l6.5 13h-13zM507.4 1068l6.5 13h-13zM511 1068.4l6.5 13h-13zM514.6 1075.8l6.5 13h-13zM518.2 1075l6.5 13h-13zM521.8 1068.3l6.5 13h-13zM525.4 1069.3l6.5 13h-13zM529 1064.7l6.5 13h-13zM532.6 1069.2l6.5 13h-13zM536.2 1062.6l6.5 13h-13zM539.7 1072.9l6.5 13h-13zM543.3 1065.4l6.5 13h-13zM546.9 1069.3l6.5 13h-13zM550.5 1062l6.5 13h-13zM554.1 1072.1l6.5 13h-13zM557.7 1068.9l6.5 13h-13zM561.3 1073.9l6.5 13h-13zM564.9 1066.6l6.5 13h-13zM568.5 1060.1l6.5 13h-13zM572.1 1063.2l6.5 13h-13zM575.6 1061.3l6.5 13h-13zM579.2 1072l6.5 13h-13zM582.8 1063.6l6.5 13h-13zM586.4 1063l6.5 13h-13zM590 1061.4l6.5 13h-13zM593.6 1066.7l6.5 13h-13zM597.2 1067.5l6.5 13h-13zM600.8 1063.6l6.5 13h-13zM604.4 1057.8l6.5 13h-13zM608 1060.1l6.5 13h-13zM611.5 1056.8l6.5 13h-13zM615.1 1069.8l6.5 13h-13zM618.7 1068.2l6.5 13h-13zM622.3 1063.2l6.5 13h-13zM625.9 1066.8l6.5 13h-13zM629.5 1066.8l6.5 13h-13zM633.1 1066.4l6.5 13h-13zM636.7 1065.8l6.5 13h-13zM640.3 1066.9l6.5 13h-13zM643.9 1063.6l6.5 13h-13zM647.4 1054.6l6.5 13h-13zM651 1054.3l6.5 13h-13zM654.6 1067.1l6.5 13h-13zM658.2 1064.2l6.5 13h-13zM661.8 1053.2l6.5 13h-13zM665.4 1061.9l6.5 13h-13zM669 1057.4l6.5 13h-13zM672.6 1058.3l6.5 13h-13zM676.2 1051.6l6.5 13h-13zM679.8 1062.6l6.5 13h-13zM683.3 1058.9l6.5 13h-13zM686.9 1062l6.5 13h-13zM690.5 1062.7l6.5 13h-13zM694.1 1063.1l6.5 13h-13zM697.7 1064.1l6.5 13h-13zM701.3 1058.6l6.5 13h-13zM704.9 1058l6.5 13h-13zM708.5 1054.3l6.5 13h-13zM712.1 1058.4l6.5 13h-13zM715.7 1055.1l6.5 13h-13zM719.2 1051.2l6.5 13h-13zM722.8 1059.9l6.5 13h-13zM726.4 1057.7l6.5 13h-13zM730 1046.2l6.5 13h-13zM733.6 1047.2l6.5 13h-13zM737.2 1053.1l6.5 13h-13zM740.8 1048.4l6.5 13h-13zM744.4 1057.8l6.5 13h-13zM748 1053.5l6.5 13h-13zM751.6 1054.5l6.5 13h-13zM755.1 1055.5l6.5 13h-13zM758.7 1056.6l6.5 13h-13zM762.3 1050l6.5 13h-13zM765.9 1052.9l6.5 13h-13zM769.5 1051l6.5 13h-13zM773.1 1052.6l6.5 13h-13zM776.7 1051.2l6.5 13h-13zM780.3 1054l6.5 13h-13zM783.9 1050l6.5 13h-13zM787.5 1045.6l6.5 13h-13zM791 1047.3l6.5 13h-13zM794.6 1041.8l6.5 13h-13zM798.2 1046.8l6.5 13h-13zM801.8 1050.7l6.5 13h-13zM805.4 1041.9l6.5 13h-13zM809 1037.3l6.5 13h-13zM812.6 1042.6l6.5 13h-13zM816.2 1040.3l6.5 13h-13zM819.8 1041.6l6.5 13h-13zM823.4 1038.7l6.5 13h-13zM826.9 1040.6l6.5 13h-13zM830.5 1035.7l6.5 13h-13zM834.1 1044.9l6.5 13h-13zM837.7 1037.5l6.5 13h-13zM841.3 1039.6l6.5 13h-13zM844.9 1039.9l6.5 13h-13zM848.5 1035.7l6.5 13h-13zM852.1 1037.2l6.5 13h-13zM855.7 1033.8l6.5 13h-13zM859.3 1032.3l6.5 13h-13zM862.8 1032.3l6.5 13h-13zM866.4 1034.2l6.5 13h-13zM870 1026.5l6.5 13h-13zM873.6 1027l6.5 13h-13zM877.2 1026.4l6.5 13h-13zM880.8 1026.4l6.5 13h-13zM884.4 1031.9l6.5 13h-13zM888 1026.4l6.5 13h-13zM891.6 1024.3l6.5 13h-13zM895.2 1024.9l6.5 13h-13zM898.7 1027.3l6.5 13h-13zM902.3 1019.3l6.5 13h-13zM905.9 1024.9l6.5 13h-13zM909.5 1011.3l6.5 13h-13zM913.1 1015.1l6.5 13h-13zM916.7 1022.9l6.5 13h-13zM920.3 1021.9l6.5 13h-13zM923.9 1015.3l6.5 13h-13zM927.5 1011.7l6.5 13h-13zM931.1 1015.2l6.5 13h-13zM934.6 1009.2l6.5 13h-13zM938.2 1015.4l6.5 13h-13zM941.8 1012.9l6.5 13h-13zM945.4 1010.3l6.5 13h-13zM949 1003.1l6.5 13h-13zM952.6 1009.2l6.5 13h-13zM956.2 1003.7l6.5 13h-13zM959.8 1002.9l6.5 13h-13zM963.4 1001.3l6.5 13h-13zM967 1001.5l6.5 13h-13zM970.5 1002.8l6.5 13h-13zM974.1 1003l6.5 13h-13zM977.7 1010.3l6.5 13h-13zM981.3 1005.2l6.5 13h-13zM984.9 993.8l6.5 13h-13zM988.5 996.9l6.5 13h-13zM992.1 986.9l6.5 13h-13zM995.7 985.4l6.5 13h-13zM999.3 978.5l6.5 13h-13zM1002.9 984.7l6.5 13h-13zM1006.4 978.3l6.5 13h-13zM1010 975.1l6.5 13h-13zM1013.6 961.5l6.5 13h-13zM1017.2 972.8l6.5 13h-13zM1020.8 964.8l6.5 13h-13zM1024.4 965.5l6.5 13h-13zM1028 969.3l6.5 13h-13zM1031.6 958l6.5 13h-13zM1035.2 953.4l6.5 13h-13zM1038.8 949.2l6.5 13h-13zM1042.3 953.5l6.5 13h-13zM1045.9 947.9l6.5 13h-13zM1049.5 942.1l6.5 13h-13zM1053.1 939.1l6.5 13h-13zM1056.7 939.8l6.5 13h-13zM1060.3 933.2l6.5 13h-13zM1063.9 942.4l6.5 13h-13zM1067.5 931.1l6.5 13h-13zM1071.1 928.6l6.5 13h-13zM1074.7 926.3l6.5 13h-13zM1078.2 917.2l6.5 13h-13zM1081.8 916l6.5 13h-13zM1085.4 917.7l6.5 13h-13zM1089 916.4l6.5 13h-13zM1092.6 909.3l6.5 13h-13zM1096.2 918.1l6.5 13h-13zM1099.8 911l6.5 13h-13zM1103.4 911.9l6.5 13h-13zM1107 909.2l6.5 13h-13zM1110.6 901.7l6.5 13h-13zM1114.1 908.5l6.5 13h-13zM1117.7 898.9l6.5 13h-13zM1121.3 889.2l6.5 13h-13zM1124.9 885.6l6.5 13h-13zM1128.5 892.2l6.5 13h-13zM1132.1 893.4l6.5 13h-13zM1135.7 888.1l6.5 13h-13zM1139.3 892.1l6.5 13h-13zM1142.9 881.8l6.5 13h-13zM1146.5 882.4l6.5 13h-13zM1150 880.1l6.5 13h-13zM1153.6 870.2l6.5 13h-13zM1157.2 872.1l6.5 13h-13zM1160.8 869l6.5 13h-13zM1164.4 868.4l6.5 13h-13zM1168 865.4l6.5 13h-13zM1171.6 861.2l6.5 13h-13zM1175.2 851.2l6.5 13h-13zM1178.8 853.7l6.5 13h-13zM1182.4 851.8l6.5 13h-13zM1185.9 844.7l6.5 13h-13zM1189.5 844.3l6.5 13h-13zM1193.1 841.3l6.5 13h-13zM1196.7 839.9l6.5 13h-13zM1200.3 832.9l6.5 13h-13zM1203.9 831.6l6.5 13h-13zM1207.5 827.8l6.5 13h-13zM1211.1 824.6l6.5 13h-13zM1214.7 819.6l6.5 13h-13zM1218.3 818.4l6.5 13h-13zM1221.8 813.6l6.5 13h-13zM1225.4 815.7l6.5 13h-13zM1229 817.8l6.5 13h-13zM1232.6 816.3l6.5 13h-13zM1236.2 815.4l6.5 13h-13zM1239.8 810.5l6.5 13h-13zM1243.4 814.1l6.5 13h-13zM1247 804.6l6.5 13h-13zM1250.6 806.5l6.5 13h-13zM1254.2 809.5l6.5 13h-13zM1257.7 794.5l6.5 13h-13zM1261.3 791.3l6.5 13h-13zM1264.9 793.1l6.5 13h-13zM1268.5 786.4l6.5 13h-13zM1272.1 783l6.5 13h-13zM1275.7 785.5l6.5 13h-13zM1279.3 775.1l6.5 13h-13zM1282.9 768.8l6.5 13h-13zM1286.5 766.1l6.5 13h-13zM1290.1 755.8l6.5 13h-13zM1293.6 752.2l6.5 13h-13zM1297.2 749.7l6.5 13h-13zM1300.8 740.9l6.5 13h-13zM1304.4 740.3l6.5 13h-13zM1308 736.4l6.5 13h-13zM1311.6 734.5l6.5 13h-13zM1315.2 724.7l6.5 13h-13zM1318.8 735.8l6.5 13h-13zM1322.4 726.7l6.5 13h-13zM1326 727.5l6.5 13h-13zM1329.5 719.9l6.5 13h-13zM1333.1 717.6l6.5 13h-13zM1336.7 721.4l6.5 13h-13zM1340.3 718.8l6.5 13h-13zM1343.9 721.2l6.5 13h-13zM1347.5 713.8l6.5 13h-13zM1351.1 712.2l6.5 13h-13zM1354.7 716l6.5 13h-13zM1358.3 716.6l6.5 13h-13zM1361.9 717.3l6.5 13h-13zM1365.4 714.3l6.5 13h-13zM1369 716.5l6.5 13h-13zM1372.6 714.1l6.5 13h-13zM1376.2 724.1l6.5 13h-13zM1379.8 725.4l6.5 13h-13zM1383.4 727.6l6.5 13h-13zM1387 720.5l6.5 13h-13zM1390.6 733.8l6.5 13h-13zM1394.2 731.7l6.5 13h-13zM1397.8 740.2l6.5 13h-13zM1401.3 743.3l6.5 13h-13zM1404.9 749.1l6.5 13h-13zM1408.5 746.3l6.5 13h-13zM1412.1 748.1l6.5 13h-13zM1415.7 747.9l6.5 13h-13zM1419.3 749.5l6.5 13h-13zM1422.9 758.6l6.5 13h-13zM1426.5 755.4l6.5 13h-13zM1430.1 763.9l6.5 13h-13zM1433.7 755.5l6.5 13h-13zM1437.2 763.8l6.5 13h-13zM1440.8 771.4l6.5 13h-13zM1444.4 772.4l6.5 13h-13zM1448 766.5l6.5 13h-13zM1451.6 770.6l6.5 13h-13zM1455.2 772.1l6.5 13h-13zM1458.8 775.7l6.5 13h-13zM1462.4 771.6l6.5 13h-13zM1466 774.3l6.5 13h-13zM1469.6 777.2l6.5 13h-13zM1473.1 782.2l6.5 13h-13zM1476.7 785l6.5 13h-13zM1480.3 781.7l6.5 13h-13zM1483.9 792.6l6.5 13h-13zM1487.5 790.1l6.5 13h-13zM1491.1 788.2l6.5 13h-13zM1494.7 788.1l6.5 13h-13zM1498.3 794.6l6.5 13h-13zM1501.9 790.1l6.5 13h-13zM1505.5 801l6.5 13h-13zM1509 803.8l6.5 13h-13zM1512.6 807.8l6.5 13h-13zM1516.2 806.2l6.5 13h-13zM1519.8 799.2l6.5 13h-13zM1523.4 806.3l6.5 13h-13zM1527 812.1l6.5 13h-13zM1530.6 803.6l6.5 13h-13zM1534.2 811.1l6.5 13h-13zM1537.8 818.7l6.5 13h-13zM1541.4 818.4l6.5 13h-13zM1544.9 812l6.5 13h-13zM1548.5 819.2l6.5 13h-13zM1552.1 822.6l6.5 13h-13zM1555.7 831.5l6.5 13h-13zM1559.3 822.7l6.5 13h-13zM1562.9 821.2l6.5 13h-13zM1566.5 825.5l6.5 13h-13zM1570.1 825.6l6.5 13h-13zM1573.7 826.2l6.5 13h-13zM1577.3 829l6.5 13h-13zM1580.8 822.8l6.5 13h-13zM1584.4 817.2l6.5 13h-13zM1588 821.4l6.5 13h-13zM1591.6 819.8l6.5 13h-13zM1595.2 821.6l6.5 13h-13zM1598.8 819.5l6.5 13h-13zM1602.4 812.1l6.5 13h-13zM1606 816.8l6.5 13h-13zM1609.6 816.8l6.5 13h-13zM1613.2 811.5l6.5 13h-13zM1616.7 815l6.5 13h-13zM1620.3 811.3l6.5 13h-13zM1623.9 810.6l6.5 13h-13zM1627.5 808.8l6.5 13h-13zM1631.1 811.9l6.5 13h-13zM1634.7 816.3l6.5 13h-13zM1638.3 808l6.5 13h-13zM1641.9 801.4l6.5 13h-13zM1645.5 799.7l6.5 13h-13zM1649.1 791.9l6.5 13h-13zM1652.6 788.8l6.5 13h-13zM1656.2 780.8l6.5 13h-13zM1659.8 784.3l6.5 13h-13zM1663.4 774l6.5 13h-13zM1667 771.7l6.5 13h-13zM1670.6 750.4l6.5 13h-13zM1674.2 740.5l6.5 13h-13zM1677.8 742.5l6.5 13h-13zM1681.4 718l6.5 13h-13zM1685 708.7l6.5 13h-13zM1688.5 690.5l6.5 13h-13zM1692.1 689.8l6.5 13h-13zM1695.7 664.8l6.5 13h-13zM1699.3 653l6.5 13h-13zM1702.9 631.5l6.5 13h-13zM1706.5 609.2l6.5 13h-13zM1710.1 609.6l6.5 13h-13zM1713.7 587.8l6.5 13h-13zM1717.3 583.1l6.5 13h-13zM1720.9 564.1l6.5 13h-13zM1724.4 544.7l6.5 13h-13zM1728 533.5l6.5 13h-13zM1731.6 521.1l6.5 13h-13zM1735.2 506.8l6.5 13h-13zM1738.8 479.6l6.5 13h-13zM1742.4 471.5l6.5 13h-13zM1746 472.3l6.5 13h-13zM1749.6 474.6l6.5 13h-13zM1753.2 474.4l6.5 13h-13zM1756.8 468.3l6.5 13h-13zM1760.3 469.4l6.5 13h-13zM1763.9 480.9l6.5 13h-13zM1767.5 503.3l6.5 13h-13zM1771.1 517.7l6.5 13h-13zM1774.7 540.5l6.5 13h-13zM1778.3 547.5l6.5 13h-13zM1781.9 565.9l6.5 13h-13zM1785.5 600.3l6.5 13h-13zM1789.1 620.7l6.5 13h-13zM1792.7 655.2l6.5 13h-13zM1796.2 681.2l6.5 13h-13zM1799.8 697.6l6.5 13h-13zM1803.4 714.5l6.5 13h-13zM1807 736.9l6.5 13h-13zM1810.6 749l6.5 13h-13zM1814.2 769.7l6.5 13h-13zM1817.8 798.3l6.5 13h-13zM1821.4 812.8l6.5 13h-13zM1825 814.4l6.5 13h-13zM1828.6 822.9l6.5 13h-13zM1832.1 836.7l6.5 13h-13zM1835.7 851l6.5 13h-13zM1839.3 851.3l6.5 13h-13zM1842.9 856.7l6.5 13h-13zM1846.5 862.2l6.5 13h-13zM1850.1 869.8l6.5 13h-13zM1853.7 875.5l6.5 13h-13zM1857.3 881.8l6.5 13h-13zM1860.9 893.6l6.5 13h-13zM1864.5 902.7l6.5 13h-13zM1868 896.7l6.5 13h-13zM1871.6 905.7l6.5 13h-13zM1875.2 904.9l6.5 13h-13zM1878.8 913.7l6.5 13h-13zM1882.4 903.6l6.5 13h-13zM1886 907l6.5 13h-13zM1889.6 910l6.5 13h-13zM1893.2 905.3l6.5 13h-13zM1896.8 911l6.5 13h-13zM1900.4 915.5l6.5 13h-13zM1903.9 908.3l6.5 13h-13zM1907.5 915.3l6.5 13h-13zM1911.1 922.6l6.5 13h-13zM1914.7 914.6l6.5 13h-13zM1918.3 914.4l6.5 13h-13zM1921.9 910.3l6.5 13h-13zM1925.5 919.5l6.5 13h-13zM1929.1 914.8l6.5 13h-13zM1932.7 924.4l6.5 13h-13zM1936.3 929.9l6.5 13h-13zM1939.8 927.2l6.5 13h-13zM1943.4 923.6l6.5 13h-13zM1947 930.6l6.5 13h-13zM1950.6 927.8l6.5 13h-13zM1954.2 926.7l6.5 13h-13zM1957.8 930.4l6.5 13h-13zM1961.4 934.4l6.5 13h-13zM1965 933.1l6.5 13h-13zM1968.6 937.2l6.5 13h-13zM1972.2 943.9l6.5 13h-13zM1975.7 938.6l6.5 13h-13zM1979.3 939.7l6.5 13h-13zM1982.9 934.8l6.5 13h-13zM1986.5 942.8l6.5 13h-13zM1990.1 939.5l6.5 13h-13zM1993.7 942.4l6.5 13h-13zM1997.3 935.9l6.5 13h-13zM2000.9 939.9l6.5 13h-13zM2004.5 930.7l6.5 13h-13zM2008.1 938l6.5 13h-13zM2011.6 936.1l6.5 13h-13zM2015.2 935.5l6.5 13h-13zM2018.8 945.9l6.5 13h-13zM2022.4 933.5l6.5 13h-13zM2026 938.7l6.5 13h-13zM2029.6 938.8l6.5 13h-13zM2033.2 941.3l6.5 13h-13zM2036.8 943.1l6.5 13h-13zM2040.4 933.2l6.5 13h-13zM2044 937.2l6.5 13h-13zM2047.5 936.6l6.5 13h-13zM2051.1 941.9l6.5 13h-13zM2054.7 942.9l6.5 13h-13zM2058.3 938l6.5 13h-13zM2061.9 937.7l6.5 13h-13zM2065.5 936.3l6.5 13h-13zM2069.1 942l6.5 13h-13zM2072.7 947.4l6.5 13h-13zM2076.3 943l6.5 13h-13zM2079.9 939.4l6.5 13h-13zM2083.4 939.5l6.5 13h-13z"/>
<path fill="#20ff00" d="M450 1136.7l6.5-13h-13zM453.6 1143.3l6.5-13h-13zM457.2 1148.2l6.5-13h-13zM460.8 1145.8l6.5-13h-13zM464.4 1149.5l6.5-13h-13zM467.9 1136.8l6.5-13h-13zM471.5 1139.3l6.5-13h-13zM475.1 1133.8l6.5-13h-13zM478.7 1138.5l6.5-13h-13zM482.3 1148.1l6.5-13h-13zM485.9 1147.1l6.5-13h-13zM489.5 1138l6.5-13h-13zM493.1 1140.4l6.5-13h-13zM496.7 1138.6l6.5-13h-13zM500.3 1136.8l6.5-13h-13zM503.8 1140.6l6.5-13h-13zM507.4 1140.4l6.5-13h-13zM511 1141.8l6.5-13h-13zM514.6 1142.4l6.5-13h-13zM518.2 1143.9l6.5-13h-13zM521.8 1146.2l6.5-13h-13zM525.4 1141.1l6.5-13h-13zM529 1140.4l6.5-13h-13zM532.6 1140.8l6.5-13h-13zM536.2 1134l6.5-13h-13zM539.7 1139.5l6.5-13h-13zM543.3 1136.1l6.5-13h-13zM546.9 1137.3l6.5-13h-13zM550.5 1141.3l6.5-13h-13zM554.1 1134.8l6.5-13h-13zM557.7 1140.9l6.5-13h-13zM561.3 1138.7l6.5-13h-13zM564.9 1139.9l6.5-13h-13zM568.5 1139.7l6.5-13h-13zM572.1 1136.8l6.5-13h-13zM575.6 1137.3l6.5-13h-13zM579.2 1136.5l6.5-13h-13zM582.8 1143.1l6.5-13h-13zM586.4 1135.6l6.5-13h-13zM590 1134.6l6.5-13h-13zM593.6 1138.3l6.5-13h-13zM597.2 1140.8l6.5-13h-13zM600.8 1138.1l6.5-13h-13zM604.4 1136.3l6.5-13h-13zM608 1140.4l6.5-13h-13zM611.5 1134.2l6.5-13h-13zM615.1 1126.1l6.5-13h-13zM618.7 1132.4l6.5-13h-13zM622.3 1140.9l6.5-13h-13zM625.9 1129l6.5-13h-13zM629.5 1132.2l6.5-13h-13zM633.1 1137.5l6.5-13h-13zM636.7 1138l6.5-13h-13zM640.3 1142.5l6.5-13h-13zM643.9 1137.9l6.5-13h-13zM647.4 1134.6l6.5-13h-13zM651 1141l6.5-13h-13zM654.6 1139.8l6.5-13h-13zM658.2 1139.9l6.5-13h-13zM661.8 1139.4l6.5-13h-13zM665.4 1137.3l6.5-13h-13zM669 1130.3l6.5-13h-13zM672.6 1131.4l6.5-13h-13zM676.2 1141.6l6.5-13h-13zM679.8 1134.7l6.5-13h-13zM683.3 1128l6.5-13h-13zM686.9 1134.2l6.5-13h-13zM690.5 1137.1l6.5-13h-13zM694.1 1134.8l6.5-13h-13zM697.7 1133.1l6.5-13h-13zM701.3 1125l6.5-13h-13zM704.9 1132.5l6.5-13h-13zM708.5 1131.4l6.5-13h-13zM712.1 1137.3l6.5-13h-13zM715.7 1131.1l6.5-13h-13zM719.2 1124.8l6.5-13h-13zM722.8 1128.8l6.5-13h-13zM726.4 1129.4l6.5-13h-13zM730 1130.3l6.5-13h-13zM733.6 1127.1l6.5-13h-13zM737.2 1125.3l6.5-13h-13zM740.8 1123.6l6.5-13h-13zM744.4 1127.9l6.5-13h-13zM748 1125.9l6.5-13h-13zM751.6 1125.8l6.5-13h-13zM755.1 1121.4l6.5-13h-13zM758.7 1123.7l6.5-13h-13zM762.3 1119.8l6.5-13h-13zM765.9 1129.4l6.5-13h-13zM769.5 1130.1l6.5-13h-13zM773.1 1127.2l6.5-13h-13zM776.7 1125.3l6.5-13h-13zM780.3 1127.1l6.5-13h-13zM783.9 1120.1l6.5-13h-13zM787.5 1120.4l6.5-13h-13zM791 1128.8l6.5-13h-13zM794.6 1120.9l6.5-13h-13zM798.2 1124l6.5-13h-13zM801.8 1121.6l6.5-13h-13zM805.4 1115.9l6.5-13h-13zM809 1120.9l6.5-13h-13zM812.6 1125.7l6.5-13h-13zM816.2 1136.7l6.5-13h-13zM819.8 1114.4l6.5-13h-13zM823.4 1116.2l6.5-13h-13zM826.9 1119l6.5-13h-13zM830.5 1123.8l6.5-13h-13zM834.1 1123.9l6.5-13h-13zM837.7 1124.4l6.5-13h-13zM841.3 1123.9l6.5-13h-13zM844.9 1115.8l6.5-13h-13zM848.5 1113l6.5-13h-13zM852.1 1118.9l6.5-13h-13zM855.7 1114.1l6.5-13h-13zM859.3 1114.4l6.5-13h-13zM862.8 1112.4l6.5-13h-13zM866.4 1111.7l6.5-13h-13zM870 1115.7l6.5-13h-13zM873.6 1108.6l6.5-13h-13zM877.2 1105.5l6.5-13h-13zM880.8 1108.7l6.5-13h-13zM884.4 1111l6.5-13h-13zM888 1109.1l6.5-13h-13zM891.6 1109.1l6.5-13h-13zM895.2 1102.1l6.5-13h-13zM898.7 1105.3l6.5-13h-13zM902.3 1111.4l6.5-13h-13zM905.9 1106.3l6.5-13h-13zM909.5 1103.6l6.5-13h-13zM913.1 1108.9l6.5-13h-13zM916.7 1102.1l6.5-13h-13zM920.3 1105.5l6.5-13h-13zM923.9 1102.5l6.5-13h-13zM927.5 1102l6.5-13h-13zM931.1 1103l6.5-13h-13zM934.6 1105.9l6.5-13h-13zM938.2 1101.2l6.5-13h-13zM941.8 1092.5l6.5-13h-13zM945.4 1090.2l6.5-13h-13zM949 1091.5l6.5-13h-13zM952.6 1090.6l6.5-13h-13zM956.2 1092l6.5-13h-13zM959.8 1088.1l6.5-13h-13zM963.4 1094.6l6.5-13h-13zM967 1078.5l6.5-13h-13zM970.5 1082.4l6.5-13h-13zM974.1 1082.4l6.5-13h-13zM977.7 1084.3l6.5-13h-13zM981.3 1078.8l6.5-13h-13zM984.9 1073.8l6.5-13h-13zM988.5 1066.1l6.5-13h-13zM992.1 1066.7l6.5-13h-13zM995.7 1063.3l6.5-13h-13zM999.3 1059.6l6.5-13h-13zM1002.9 1058l6.5-13h-13zM1006.4 1056.8l6.5-13h-13zM1010 1054.3l6.5-13h-13zM1013.6 1058.3l6.5-13h-13zM1017.2 1045l6.5-13h-13zM1020.8 1040.6l6.5-13h-13zM1024.4 1045.1l6.5-13h-13zM1028 1037.1l6.5-13h-13zM1031.6 1038.3l6.5-13h-13zM1035.2 1036.3l6.5-13h-13zM1038.8 1031.4l6.5-13h-13zM1042.3 1034.4l6.5-13h-13zM1045.9 1031.1l6.5-13h-13zM1049.5 1026.5l6.5-13h-13zM1053.1 1025.3l6.5-13h-13zM1056.7 1023.6l6.5-13h-13zM1060.3 1017.2l6.5-13h-13zM1063.9 1018.4l6.5-13h-13zM1067.5 1015.3l6.5-13h-13zM1071.1 1013.4l6.5-13h-13zM1074.7 1010.5l6.5-13h-13zM1078.2 1016.7l6.5-13h-13zM1081.8 1010l6.5-13h-13zM1085.4 1001.8l6.5-13h-13zM1089 1006.2l6.5-13h-13zM1092.6 994.5l6.5-13h-13zM1096.2 1000.4l6.5-13h-13zM1099.8 999.5l6.5-13h-13zM1103.4 999.2l6.5-13h-13zM1107 992.4l6.5-13h-13zM1110.6 986.5l6.5-13h-13zM1114.1 993l6.5-13h-13zM1117.7 987.2l6.5-13h-13zM1121.3 985.6l6.5-13h-13zM1124.9 977.7l6.5-13h-13zM1128.5 978.5l6.5-13h-13zM1132.1 967.8l6.5-13h-13zM1135.7 973.3l6.5-13h-13zM1139.3 962l6.5-13h-13zM1142.9 963.3l6.5-13h-13zM1146.5 959.2l6.5-13h-13zM1150 965.7l6.5-13h-13zM1153.6 954.9l6.5-13h-13zM1157.2 954.2l6.5-13h-13zM1160.8 957.7l6.5-13h-13zM1164.4 950.6l6.5-13h-13zM1168 940.2l6.5-13h-13zM1171.6 942.4l6.5-13h-13zM1175.2 934.4l6.5-13h-13zM1178.8 937.5l6.5-13h-13zM1182.4 935.7l6.5-13h-13zM1185.9 929.2l6.5-13h-13zM1189.5 932.1l6.5-13h-13zM1193.1 930.4l6.5-13h-13zM1196.7 921.1l6.5-13h-13zM1200.3 923.5l6.5-13h-13zM1203.9 918.3l6.5-13h-13zM1207.5 914.6l6.5-13h-13zM1211.1 918.3l6.5-13h-13zM1214.7 907l6.5-13h-13zM1218.3 905.6l6.5-13h-13zM1221.8 904.3l6.5-13h-13zM1225.4 904.7l6.5-13h-13zM1229 903.7l6.5-13h-13zM1232.6 896.1l6.5-13h-13zM1236.2 902.4l6.5-13h-13zM1239.8 901.8l6.5-13h-13zM1243.4 899.7l6.5-13h-13zM1247 889.8l6.5-13h-13zM1250.6 883.7l6.5-13h-13zM1254.2 877.8l6.5-13h-13zM1257.7 879.1l6.5-13h-13zM1261.3 874.3l6.5-13h-13zM1264.9 871.6l6.5-13h-13zM1268.5 867l6.5-13h-13zM1272.1 859.2l6.5-13h-13zM1275.7 863l6.5-13h-13zM1279.3 860.3l6.5-13h-13zM1282.9 855.9l6.5-13h-13zM1286.5 856.6l6.5-13h-13zM1290.1 846l6.5-13h-13zM1293.6 840.9l6.5-13h-13zM1297.2 832.1l6.5-13h-13zM1300.8 833.7l6.5-13h-13zM1304.4 827.5l6.5-13h-13zM1308 824.5l6.5-13h-13zM1311.6 822l6.5-13h-13zM1315.2 824.9l6.5-13h-13zM1318.8 814.5l6.5-13h-13zM1322.4 814.3l6.5-13h-13zM1326 812.8l6.5-13h-13zM1329.5 811.1l6.5-13h-13zM1333.1 805.4l6.5-13h-13zM1336.7 807.2l6.5-13h-13zM1340.3 807.4l6.5-13h-13zM1343.9 798l6.5-13h-13zM1347.5 800.9l6.5-13h-13zM1351.1 801.8l6.5-13h-13zM1354.7 801.6l6.5-13h-13zM1358.3 807.7l6.5-13h-13zM1361.9 805.5l6.5-13h-13zM1365.4 802l6.5-13h-13zM1369 804.3l6.5-13h-13zM1372.6 802.9l6.5-13h-13zM1376.2 807.6l6.5-13h-13zM1379.8 819.1l6.5-13h-13zM1383.4 811.4l6.5-13h-13zM1387 822.9l6.5-13h-13zM1390.6 821.8l6.5-13h-13zM1394.2 826.9l6.5-13h-13zM1397.8 831.3l6.5-13h-13zM1401.3 848.3l6.5-13h-13zM1404.9 840l6.5-13h-13zM1408.5 844.3l6.5-13h-13zM1412.1 849.7l6.5-13h-13zM1415.7 842.2l6.5-13h-13zM1419.3 859.6l6.5-13h-13zM1422.9 850.3l6.5-13h-13zM1426.5 856.5l6.5-13h-13zM1430.1 864.2l6.5-13h-13zM1433.7 860l6.5-13h-13zM1437.2 860.6l6.5-13h-13zM1440.8 872.9l6.5-13h-13zM1444.4 869.6l6.5-13h-13zM1448 875.7l6.5-13h-13zM1451.6 875.8l6.5-13h-13zM1455.2 874.9l6.5-13h-13zM1458.8 882.7l6.5-13h-13zM1462.4 876.6l6.5-13h-13zM1466 885l6.5-13h-13zM1469.6 875.1l6.5-13h-13zM1473.1 875l6.5-13h-13zM1476.7 876.4l6.5-13h-13zM1480.3 880l6.5-13h-13zM1483.9 875.9l6.5-13h-13zM1487.5 878.7l6.5-13h-13zM1491.1 888l6.5-13h-13zM1494.7 885.7l6.5-13h-13zM1498.3 891.3l6.5-13h-13zM1501.9 890.7l6.5-13h-13zM1505.5 889.7l6.5-13h-13zM1509 891.6l6.5-13h-13zM1512.6 897.7l6.5-13h-13zM1516.2 899.9l6.5-13h-13zM1519.8 900.3l6.5-13h-13zM1523.4 902.4l6.5-13h-13zM1527 911.4l6.5-13h-13zM1530.6 911.8l6.5-13h-13zM1534.2 911l6.5-13h-13zM1537.8 910.4l6.5-13h-13zM1541.4 911.6l6.5-13h-13zM1544.9 921.5l6.5-13h-13zM1548.5 913.9l6.5-13h-13zM1552.1 925.2l6.5-13h-13zM1555.7 916.5l6.5-13h-13zM1559.3 914.5l6.5-13h-13zM1562.9 927.1l6.5-13h-13zM1566.5 919.6l6.5-13h-13zM1570.1 925.3l6.5-13h-13zM1573.7 921.6l6.5-13h-13zM1577.3 919.2l6.5-13h-13zM1580.8 923.3l6.5-13h-13zM1584.4 918.9l6.5-13h-13zM1588 921l6.5-13h-13zM1591.6 926.8l6.5-13h-13zM1595.2 911.6l6.5-13h-13zM1598.8 918.1l6.5-13h-13zM1602.4 914.1l6.5-13h-13zM1606 915l6.5-13h-13zM1609.6 916.6l6.5-13h-13zM1613.2 909.8l6.5-13h-13zM1616.7 916.3l6.5-13h-13zM1620.3 915.9l6.5-13h-13zM1623.9 919.8l6.5-13h-13zM1627.5 914.9l6.5-13h-13zM1631.1 912.1l6.5-13h-13zM1634.7 907.3l6.5-13h-13zM1638.3 908.1l6.5-13h-13zM1641.9 901.8l6.5-13h-13zM1645.5 906.5l6.5-13h-13zM1649.1 901.8l6.5-13h-13zM1652.6 895.4l6.5-13h-13zM1656.2 889l6.5-13h-13zM1659.8 883.2l6.5-13h-13zM1663.4 877.1l6.5-13h-13zM1667 867.5l6.5-13h-13zM1670.6 871.6l6.5-13h-13zM1674.2 861.2l6.5-13h-13zM1677.8 853.3l6.5-13h-13zM1681.4 839.7l6.5-13h-13zM1685 823.3l6.5-13h-13zM1688.5 815.3l6.5-13h-13zM1692.1 800.6l6.5-13h-13zM1695.7 785.6l6.5-13h-13zM1699.3 773.4l6.5-13h-13zM1702.9 757.7l6.5-13h-13zM1706.5 743.9l6.5-13h-13zM1710.1 730l6.5-13h-13zM1713.7 712.6l6.5-13h-13zM1717.3 696.9l6.5-13h-13zM1720.9 675.7l6.5-13h-13zM1724.4 657.1l6.5-13h-13zM1728 653.2l6.5-13h-13zM1731.6 629.5l6.5-13h-13zM1735.2 615.8l6.5-13h-13zM1738.8 618.9l6.5-13h-13zM1742.4 615l6.5-13h-13zM1746 599l6.5-13h-13zM1749.6 597.9l6.5-13h-13zM1753.2 589.4l6.5-13h-13zM1756.8 587.3l6.5-13h-13zM1760.3 576.8l6.5-13h-13zM1763.9 593.5l6.5-13h-13zM1767.5 605.5l6.5-13h-13zM1771.1 619.9l6.5-13h-13zM1774.7 615.5l6.5-13h-13zM1778.3 626.8l6.5-13h-13zM1781.9 649.1l6.5-13h-13zM1785.5 691.6l6.5-13h-13zM1789.1 707.1l6.5-13h-13zM1792.7 747.3l6.5-13h-13zM1796.2 771.3l6.5-13h-13zM1799.8 795l6.5-13h-13zM1803.4 813.9l6.5-13h-13zM1807 831.8l6.5-13h-13zM1810.6 850.4l6.5-13h-13zM1814.2 868.9l6.5-13h-13zM1817.8 892.7l6.5-13h-13zM1821.4 905l6.5-13h-13zM1825 908.7l6.5-13h-13zM1828.6 928.3l6.5-13h-13zM1832.1 933.4l6.5-13h-13zM1835.7 938.2l6.5-13h-13zM1839.3 953.3l6.5-13h-13zM1842.9 953.9l6.5-13h-13zM1846.5 961.7l6.5-13h-13zM1850.1 969.8l6.5-13h-13zM1853.7 981.8l6.5-13h-13zM1857.3 987.3l6.5-13h-13zM1860.9 1006.3l6.5-13h-13zM1864.5 1010.3l6.5-13h-13zM1868 1017.6l6.5-13h-13zM1871.6 1020.2l6.5-13h-13zM1875.2 1019.3l6.5-13h-13zM1878.8 1020.2l6.5-13h-13zM1882.4 1025.8l6.5-13h-13zM1886 1032.8l6.5-13h-13zM1889.6 1028.8l6.5-13h-13zM1893.2 1032.1l6.5-13h-13zM1896.8 1037.8l6.5-13h-13zM1900.4 1038.5l6.5-13h-13zM1903.9 1055.4l6.5-13h-13zM1907.5 1046.1l6.5-13h-13zM1911.1 1053.3l6.5-13h-13zM1914.7 1047l6.5-13h-13zM1918.3 1061.9l6.5-13h-13zM1921.9 1045.4l6.5-13h-13zM1925.5 1048.8l6.5-13h-13zM1929.1 1044.9l6.5-13h-13zM1932.7 1047.8l6.5-13h-13zM1936.3 1048.5l6.5-13h-13zM1939.8 1052.2l6.5-13h-13zM1943.4 1055.2l6.5-13h-13zM1947 1050l6.5-13h-13zM1950.6 1046.3l6.5-13h-13zM1954.2 1051.8l6.5-13h-13zM1957.8 1051.8l6.5-13h-13zM1961.4 1051.3l6.5-13h-13zM1965 1056.6l6.5-13h-13zM1968.6 1058.4l6.5-13h-13zM1972.2 1052.8l6.5-13h-13zM1975.7 1053.6l6.5-13h-13zM1979.3 1049.1l6.5-13h-13zM1982.9 1055.3l6.5-13h-13zM1986.5 1061.1l6.5-13h-13zM1990.1 1055.5l6.5-13h-13zM1993.7 1062.4l6.5-13h-13zM1997.3 1062l6.5-13h-13zM2000.9 1062.3l6.5-13h-13zM2004.5 1062.8l6.5-13h-13zM2008.1 1060.7l6.5-13h-13zM2011.6 1064.9l6.5-13h-13zM2015.2 1065.5l6.5-13h-13zM2018.8 1063.3l6.5-13h-13zM2022.4 1062.3l6.5-13h-13zM2026 1067.3l6.5-13h-13zM2029.6 1068.2l6.5-13h-13zM2033.2 1061l6.5-13h-13zM2036.8 1066.4l6.5-13h-13zM2040.4 1063.9l6.5-13h-13zM2044 1071.4l6.5-13h-13zM2047.5 1062.9l6.5-13h-13zM2051.1 1062.1l6.5-13h-13zM2054.7 1061.2l6.5-13h-13zM2058.3 1067.8l6.5-13h-13zM2061.9 1061.1l6.5-13h-13zM2065.5 1067.1l6.5-13h-13zM2069.1 1063.3l6.5-13h-13zM2072.7 1069.9l6.5-13h-13zM2076.3 1070.9l6.5-13h-13zM2079.9 1069.5l6.5-13h-13zM2083.4 1058.9l6.5-13h-13z"/>
<path fill="#ff00ff" d="M450 1163.3l6.5 6.5-6.5 6.5-6.5-6.5zM453.6 1161.6l6.5 6.5-6.5 6.5-6.5-6.5zM457.2 1159.6l6.5 6.5-6.5 6.5-6.5-6.5zM460.8 1156l6.5 6.5-6.5 6.5-6.5-6.5zM464.4 1164.7l6.5 6.5-6.5 6.5-6.5-6.5zM467.9 1163.4l6.5 6.5-6.5 6.5-6.5-6.5zM471.5 1162.9l6.5 6.5-6.5 6.5-6.5-6.5zM475.1 1161.1l6.5 6.5-6.5 6.5-6.5-6.5zM478.7 1158.7l6.5 6.5-6.5 6.5-6.5-6.5zM482.3 1162.1l6.5 6.5-6.5 6.5-6.5-6.5zM485.9 1160.5l6.5 6.5-6.5 6.5-6.5-6.5zM489.5 1157l6.5 6.5-6.5 6.5-6.5-6.5zM493.1 1163l6.5 6.5-6.5 6.5-6.5-6.5zM496.7 1156.5l6.5 6.5-6.5 6.5-6.5-6.5zM500.3 1158.9l6.5 6.5-6.5 6.5-6.5-6.5zM503.8 1164.3l6.5 6.5-6.5 6.5-6.5-6.5zM507.4 1157.5l6.5 6.5-6.5 6.5-6.5-6.5zM511 1159.8l6.5 6.5-6.5 6.5-6.5-6.5zM514.6 1161.9l6.5 6.5-6.5 6.5-6.5-6.5zM518.2 1159l6.5 6.5-6.5 6.5-6.5-6.5zM521.8 1155.2l6.5 6.5-6.5 6.5-6.5-6.5zM525.4 1157.3l6.5 6.5-6.5 6.5-6.5-6.5zM529 1158.3l6.5 6.5-6.5 6.5-6.5-6.5zM532.6 1154.3l6.5 6.5-6.5 6.5-6.5-6.5zM536.2 1161.6l6.5 6.5-6.5 6.5-6.5-6.5zM539.7 1158.5l6.5 6.5-6.5 6.5-6.5-6.5zM543.3 1159.3l6.5 6.5-6.5 6.5-6.5-6.5zM546.9 1158l6.5 6.5-6.5 6.5-6.5-6.5zM550.5 1158.1l6.5 6.5-6.5 6.5-6.5-6.5zM554.1 1156l6.5 6.5-6.5 6.5-6.5-6.5zM557.7 1153.1l6.5 6.5-6.5 6.5-6.5-6.5zM561.3 1158.6l6.5 6.5-6.5 6.5-6.5-6.5zM564.9 1157l6.5 6.5-6.5 6.5-6.5-6.5zM568.5 1161l6.5 6.5-6.5 6.5-6.5-6.5zM572.1 1153.9l6.5 6.5-6.5 6.5-6.5-6.5zM575.6 1157.4l6.5 6.5-6.5 6.5-6.5-6.5zM579.2 1162.7l6.5 6.5-6.5 6.5-6.5-6.5zM582.8 1153.6l6.5 6.5-6.5 6.5-6.5-6.5zM586.4 1154.1l6.5 6.5-6.5 6.5-6.5-6.5zM590 1157.8l6.5 6.5-6.5 6.5-6.5-6.5zM593.6 1161.6l6.5 6.5-6.5 6.5-6.5-6.5zM597.2 1154.1l6.5 6.5-6.5 6.5-6.5-6.5zM600.8 1157.4l6.5 6.5-6.5 6.5-6.5-6.5zM604.4 1156.8l6.5 6.5-6.5 6.5-6.5-6.5zM608 1155.8l6.5 6.5-6.5 6.5-6.5-6.5zM611.5 1156.5l6.5 6.5-6.5 6.5-6.5-6.5zM615.1 1160.3l6.5 6.5-6.5 6.5-6.5-6.5zM618.7 1157.5l6.5 6.5-6.5 6.5-6.5-6.5zM622.3 1153.7l6.5 6.5-6.5 6.5-6.5-6.5zM625.9 1155.4l6.5 6.5-6.5 6.5-6.5-6.5zM629.5 1157.2l6.5 6.5-6.5 6.5-6.5-6.5zM633.1 1153.3l6.5 6.5-6.5 6.5-6.5-6.5zM636.7 1155.1l6.5 6.5-6.5 6.5-6.5-6.5zM640.3 1155.8l6.5 6.5-6.5 6.5-6.5-6.5zM643.9 1151.3l6.5 6.5-6.5 6.5-6.5-6.5zM647.4 1161.5l6.5 6.5-6.5 6.5-6.5-6.5zM651 1152.4l6.5 6.5-6.5 6.5-6.5-6.5zM654.6 1156.6l6.5 6.5-6.5 6.5-6.5-6.5zM658.2 1155.9l6.5 6.5-6.5 6.5-6.5-6.5zM661.8 1154.7l6.5 6.5-6.5 6.5-6.5-6.5zM665.4 1159.3l6.5 6.5-6.5 6.5-6.5-6.5zM669 1156.2l6.5 6.5-6.5 6.5-6.5-6.5zM672.6 1153.8l6.5 6.5-6.5 6.5-6.5-6.5zM676.2 1158.9l6.5 6.5-6.5 6.5-6.5-6.5zM679.8 1157.2l6.5 6.5-6.5 6.5-6.5-6.5zM683.3 1153l6.5 6.5-6.5 6.5-6.5-6.5zM686.9 1151.7l6.5 6.5-6.5 6.5-6.5-6.5zM690.5 1157.9l6.5 6.5-6.5 6.5-6.5-6.5zM694.1 1155.2l6.5 6.5-6.5 6.5-6.5-6.5zM697.7 1151.7l6.5 6.5-6.5 6.5-6.5-6.5zM701.3 1156.9l6.5 6.5-6.5 6.5-6.5-6.5zM704.9 1151.7l6.5 6.5-6.5 6.5-6.5-6.5zM708.5 1153.6l6.5 6.5-6.5 6.5-6.5-6.5zM712.1 1153.2l6.5 6.5-6.5 6.5-6.5-6.5zM715.7 1150.1l6.5 6.5-6.5 6.5-6.5-6.5zM719.2 1157l6.5 6.5-6.5 6.5-6.5-6.5zM722.8 1161.2l6.5 6.5-6.5 6.5-6.5-6.5zM726.4 1156.7l6.5 6.5-6.5 6.5-6.5-6.5zM730 1156l6.5 6.5-6.5 6.5-6.5-6.5zM733.6 1154.2l6.5 6.5-6.5 6.5-6.5-6.5zM737.2 1154.5l6.5 6.5-6.5 6.5-6.5-6.5zM740.8 1155.3l6.5 6.5-6.5 6.5-6.5-6.5zM744.4 1156.1l6.5 6.5-6.5 6.5-6.5-6.5zM748 1153l6.5 6.5-6.5 6.5-6.5-6.5zM751.6 1154.2l6.5 6.5-6.5 6.5-6.5-6.5zM755.1 1153.4l6.5 6.5-6.5 6.5-6.5-6.5zM758.7 1155.2l6.5 6.5-6.5 6.5-6.5-6.5zM762.3 1155.9l6.5 6.5-6.5 6.5-6.5-6.5zM765.9 1156.1l6.5 6.5-6.5 6.5-6.5-6.5zM769.5 1151.8l6.5 6.5-6.5 6.5-6.5-6.5zM773.1 1151.4l6.5 6.5-6.5 6.5-6.5-6.5zM776.7 1154.2l6.5 6.5-6.5 6.5-6.5-6.5zM780.3 1151.5l6.5 6.5-6.5 6.5-6.5-6.5zM783.9 1151.4l6.5 6.5-6.5 6.5-6.5-6.5zM787.5 1152.9l6.5 6.5-6.5 6.5-6.5-6.5zM791 1152.4l6.5 6.5-6.5 6.5-6.5-6.5zM794.6 1154.6l6.5 6.5-6.5 6.5-6.5-6.5zM798.2 1147.8l6.5 6.5-6.5 6.5-6.5-6.5zM801.8 1153.6l6.5 6.5-6.5 6.5-6.5-6.5zM805.4 1149.2l6.5 6.5-6.5 6.5-6.5-6.5zM809 1151.9l6.5 6.5-6.5 6.5-6.5-6.5zM812.6 1146.5l6.5 6.5-6.5 6.5-6.5-6.5zM816.2 1149.3l6.5 6.5-6.5 6.5-6.5-6.5zM819.8 1147.7l6.5 6.5-6.5 6.5-6.5-6.5zM823.4 1153.6l6.5 6.5-6.5 6.5-6.5-6.5zM826.9 1146.2l6.5 6.5-6.5 6.5-6.5-6.5zM830.5 1151.3l6.5 6.5-6.5 6.5-6.5-6.5zM834.1 1145.9l6.5 6.5-6.5 6.5-6.5-6.5zM837.7 1144.7l6.5 6.5-6.5 6.5-6.5-6.5zM841.3 1148.1l6.5 6.5-6.5 6.5-6.5-6.5zM844.9 1149.6l6.5 6.5-6.5 6.5-6.5-6.5zM848.5 1146.4l6.5 6.5-6.5 6.5-6.5-6.5zM852.1 1147.7l6.5 6.5-6.5 6.5-6.5-6.5zM855.7 1146.4l6.5 6.5-6.5 6.5-6.5-6.5zM859.3 1145.3l6.5 6.5-6.5 6.5-6.5-6.5zM862.8 1148.7l6.5 6.5-6.5 6.5-6.5-6.5zM866.4 1144.7l6.5 6.5-6.5 6.5-6.5-6.5zM870 1146.6l6.5 6.5-6.5 6.5-6.5-6.5zM873.6 1141l6.5 6.5-6.5 6.5-6.5-6.5zM877.2 1143.2l6.5 6.5-6.5 6.5-6.5-6.5zM880.8 1145.8l6.5 6.5-6.5 6.5-6.5-6.5zM884.4 1141.8l6.5 6.5-6.5 6.5-6.5-6.5zM888 1137.1l6.5 6.5-6.5 6.5-6.5-6.5zM891.6 1144.3l6.5 6.5-6.5 6.5-6.5-6.5zM895.2 1143.4l6.5 6.5-6.5 6.5-6.5-6.5zM898.7 1140.8l6.5 6.5-6.5 6.5-6.5-6.5zM902.3 1141.4l6.5 6.5-6.5 6.5-6.5-6.5zM905.9 1139.8l6.5 6.5-6.5 6.5-6.5-6.5zM909.5 1141.3l6.5 6.5-6.5 6.5-6.5-6.5zM913.1 1142.7l6.5 6.5-6.5 6.5-6.5-6.5zM916.7 1140.1l6.5 6.5-6.5 6.5-6.5-6.5zM920.3 1138.6l6.5 6.5-6.5 6.5-6.5-6.5zM923.9 1137l6.5 6.5-6.5 6.5-6.5-6.5zM927.5 1137.3l6.5 6.5-6.5 6.5-6.5-6.5zM931.1 1135.9l6.5 6.5-6.5 6.5-6.5-6.5zM934.6 1139.1l6.5 6.5-6.5 6.5-6.5-6.5zM938.2 1133.1l6.5 6.5-6.5 6.5-6.5-6.5zM941.8 1133.6l6.5 6.5-6.5 6.5-6.5-6.5zM945.4 1135.2l6.5 6.5-6.5 6.5-6.5-6.5zM949 1134.3l6.5 6.5-6.5 6.5-6.5-6.5zM952.6 1133l6.5 6.5-6.5 6.5-6.5-6.5zM956.2 1130.2l6.5 6.5-6.5 6.5-6.5-6.5zM959.8 1130.6l6.5 6.5-6.5 6.5-6.5-6.5zM963.4 1125.2l6.5 6.5-6.5 6.5-6.5-6.5zM967 1123.6l6.5 6.5-6.5 6.5-6.5-6.5zM970.5 1122.9l6.5 6.5-6.5 6.5-6.5-6.5zM974.1 1125.9l6.5 6.5-6.5 6.5-6.5-6.5zM977.7 1127.1l6.5 6.5-6.5 6.5-6.5-6.5zM981.3 1121l6.5 6.5-6.5 6.5-6.5-6.5zM984.9 1119.2l6.5 6.5-6.5 6.5-6.5-6.5zM988.5 1118.4l6.5 6.5-6.5 6.5-6.5-6.5zM992.1 1122.2l6.5 6.5-6.5 6.5-6.5-6.5zM995.7 1116.4l6.5 6.5-6.5 6.5-6.5-6.5zM999.3 1114.4l6.5 6.5-6.5 6.5-6.5-6.5zM1002.9 1110.9l6.5 6.5-6.5 6.5-6.5-6.5zM1006.4 1111.9l6.5 6.5-6.5 6.5-6.5-6.5zM1010 1112.1l6.5 6.5-6.5 6.5-6.5-6.5zM1013.6 1107.4l6.5 6.5-6.5 6.5-6.5-6.5zM1017.2 1103l6.5 6.5-6.5 6.5-6.5-6.5zM1020.8 1106.7l6.5 6.5-6.5 6.5-6.5-6.5zM1024.4 1101.4l6.5 6.5-6.5 6.5-6.5-6.5zM1028 1104.2l6.5 6.5-6.5 6.5-6.5-6.5zM1031.6 1094.8l6.5 6.5-6.5 6.5-6.5-6.5zM1035.2 1095.2l6.5 6.5-6.5 6.5-6.5-6.5zM1038.8 1094.2l6.5 6.5-6.5 6.5-6.5-6.5zM1042.3 1087l6.5 6.5-6.5 6.5-6.5-6.5zM1045.9 1089.8l6.5 6.5-6.5 6.5-6.5-6.5zM1049.5 1089.2l6.5 6.5-6.5 6.5-6.5-6.5zM1053.1 1085.4l6.5 6.5-6.5 6.5-6.5-6.5zM1056.7 1085.2l6.5 6.5-6.5 6.5-6.5-6.5zM1060.3 1082.9l6.5 6.5-6.5 6.5-6.5-6.5zM1063.9 1078.7l6.5 6.5-6.5 6.5-6.5-6.5zM1067.5 1081.4l6.5 6.5-6.5 6.5-6.5-6.5zM1071.1 1076.2l6.5 6.5-6.5 6.5-6.5-6.5zM1074.7 1076.1l6.5 6.5-6.5 6.5-6.5-6.5zM1078.2 1073.8l6.5 6.5-6.5 6.5-6.5-6.5zM1081.8 1076.2l6.5 6.5-6.5 6.5-6.5-6.5zM1085.4 1072.1l6.5 6.5-6.5 6.5-6.5-6.5zM1089 1070.9l6.5 6.5-6.5 6.5-6.5-6.5zM1092.6 1065.4l6.5 6.5-6.5 6.5-6.5-6.5zM1096.2 1069l6.5 6.5-6.5 6.5-6.5-6.5zM1099.8 1071l6.5 6.5-6.5 6.5-6.5-6.5zM1103.4 1061.7l6.5 6.5-6.5 6.5-6.5-6.5zM1107 1066.7l6.5 6.5-6.5 6.5-6.5-6.5zM1110.6 1064.3l6.5 6.5-6.5 6.5-6.5-6.5zM1114.1 1058.5l6.5 6.5-6.5 6.5-6.5-6.5zM1117.7 1060.6l6.5 6.5-6.5 6.5-6.5-6.5zM1121.3 1062.7l6.5 6.5-6.5 6.5-6.5-6.5zM1124.9 1058.8l6.5 6.5-6.5 6.5-6.5-6.5zM1128.5 1058.3l6.5 6.5-6.5 6.5-6.5-6.5zM1132.1 1058.8l6.5 6.5-6.5 6.5-6.5-6.5zM1135.7 1053.7l6.5 6.5-6.5 6.5-6.5-6.5zM1139.3 1055.2l6.5 6.5-6.5 6.5-6.5-6.5zM1142.9 1048.2l6.5 6.5-6.5 6.5-6.5-6.5zM1146.5 1047.7l6.5 6.5-6.5 6.5-6.5-6.5zM1150 1052.1l6.5 6.5-6.5 6.5-6.5-6.5zM1153.6 1050.3l6.5 6.5-6.5 6.5-6.5-6.5zM1157.2 1047.6l6.5 6.5-6.5 6.5-6.5-6.5zM1160.8 1039.6l6.5 6.5-6.5 6.5-6.5-6.5zM1164.4 1041.2l6.5 6.5-6.5 6.5-6.5-6.5zM1168 1037.8l6.5 6.5-6.5 6.5-6.5-6.5zM1171.6 1043.3l6.5 6.5-6.5 6.5-6.5-6.5zM1175.2 1033l6.5 6.5-6.5 6.5-6.5-6.5zM1178.8 1031.4l6.5 6.5-6.5 6.5-6.5-6.5zM1182.4 1031.2l6.5 6.5-6.5 6.5-6.5-6.5zM1185.9 1031.7l6.5 6.5-6.5 6.5-6.5-6.5zM1189.5 1027.3l6.5 6.5-6.5 6.5-6.5-6.5zM1193.1 1026l6.5 6.5-6.5 6.5-6.5-6.5zM1196.7 1025.3l6.5 6.5-6.5 6.5-6.5-6.5zM1200.3 1022.4l6.5 6.5-6.5 6.5-6.5-6.5zM1203.9 1015l6.5 6.5-6.5 6.5-6.5-6.5zM1207.5 1013.9l6.5 6.5-6.5 6.5-6.5-6.5zM1211.1 1018.6l6.5 6.5-6.5 6.5-6.5-6.5zM1214.7 1011.7l6.5 6.5-6.5 6.5-6.5-6.5zM1218.3 1013.6l6.5 6.5-6.5 6.5-6.5-6.5zM1221.8 1010.1l6.5 6.5-6.5 6.5-6.5-6.5zM1225.4 1006.5l6.5 6.5-6.5 6.5-6.5-6.5zM1229 1001.1l6.5 6.5-6.5 6.5-6.5-6.5zM1232.6 1002.3l6.5 6.5-6.5 6.5-6.5-6.5zM1236.2 995l6.5 6.5-6.5 6.5-6.5-6.5zM1239.8 1000l6.5 6.5-6.5 6.5-6.5-6.5zM1243.4 994.6l6.5 6.5-6.5 6.5-6.5-6.5zM1247 993.5l6.5 6.5-6.5 6.5-6.5-6.5zM1250.6 990l6.5 6.5-6.5 6.5-6.5-6.5zM1254.2 988.7l6.5 6.5-6.5 6.5-6.5-6.5zM1257.7 988.7l6.5 6.5-6.5 6.5-6.5-6.5zM1261.3 987.2l6.5 6.5-6.5 6.5-6.5-6.5zM1264.9 985.8l6.5 6.5-6.5 6.5-6.5-6.5zM1268.5 984.7l6.5 6.5-6.5 6.5-6.5-6.5zM1272.1 986.5l6.5 6.5-6.5 6.5-6.5-6.5zM1275.7 982.5l6.5 6.5-6.5 6.5-6.5-6.5zM1279.3 975.1l6.5 6.5-6.5 6.5-6.5-6.5zM1282.9 963l6.5 6.5-6.5 6.5-6.5-6.5zM1286.5 950.6l6.5 6.5-6.5 6.5-6.5-6.5zM1290.1 944.3l6.5 6.5-6.5 6.5-6.5-6.5zM1293.6 941.2l6.5 6.5-6.5 6.5-6.5-6.5zM1297.2 932l6.5 6.5-6.5 6.5-6.5-6.5zM1300.8 930.1l6.5 6.5-6.5 6.5-6.5-6.5zM1304.4 926l6.5 6.5-6.5 6.5-6.5-6.5zM1308 924.3l6.5 6.5-6.5 6.5-6.5-6.5zM1311.6 921.5l6.5 6.5-6.5 6.5-6.5-6.5zM1315.2 924.1l6.5 6.5-6.5 6.5-6.5-6.5zM1318.8 919.8l6.5 6.5-6.5 6.5-6.5-6.5zM1322.4 919.3l6.5 6.5-6.5 6.5-6.5-6.5zM1326 923.1l6.5 6.5-6.5 6.5-6.5-6.5zM1329.5 925.5l6.5 6.5-6.5 6.5-6.5-6.5zM1333.1 926.4l6.5 6.5-6.5 6.5-6.5-6.5zM1336.7 927.4l6.5 6.5-6.5 6.5-6.5-6.5zM1340.3 925.8l6.5 6.5-6.5 6.5-6.5-6.5zM1343.9 928.1l6.5 6.5-6.5 6.5-6.5-6.5zM1347.5 934.3l6.5 6.5-6.5 6.5-6.5-6.5zM1351.1 940.3l6.5 6.5-6.5 6.5-6.5-6.5zM1354.7 932.6l6.5 6.5-6.5 6.5-6.5-6.5zM1358.3 945.2l6.5 6.5-6.5 6.5-6.5-6.5zM1361.9 945.2l6.5 6.5-6.5 6.5-6.5-6.5zM1365.4 946.5l6.5 6.5-6.5 6.5-6.5-6.5zM1369 946.4l6.5 6.5-6.5 6.5-6.5-6.5zM1372.6 948.3l6.5 6.5-6.5 6.5-6.5-6.5zM1376.2 948.4l6.5 6.5-6.5 6.5-6.5-6.5zM1379.8 954.2l6.5 6.5-6.5 6.5-6.5-6.5zM1383.4 953.4l6.5 6.5-6.5 6.5-6.5-6.5zM1387 958.4l6.5 6.5-6.5 6.5-6.5-6.5zM1390.6 958.3l6.5 6.5-6.5 6.5-6.5-6.5zM1394.2 968.6l6.5 6.5-6.5 6.5-6.5-6.5zM1397.8 970.7l6.5 6.5-6.5 6.5-6.5-6.5zM1401.3 969.2l6.5 6.5-6.5 6.5-6.5-6.5zM1404.9 976.3l6.5 6.5-6.5 6.5-6.5-6.5zM1408.5 976.9l6.5 6.5-6.5 6.5-6.5-6.5zM1412.1 978.5l6.5 6.5-6.5 6.5-6.5-6.5zM1415.7 983.6l6.5 6.5-6.5 6.5-6.5-6.5zM1419.3 988.4l6.5 6.5-6.5 6.5-6.5-6.5zM1422.9 993l6.5 6.5-6.5 6.5-6.5-6.5zM1426.5 992.7l6.5 6.5-6.5 6.5-6.5-6.5zM1430.1 998.1l6.5 6.5-6.5 6.5-6.5-6.5zM1433.7 999.9l6.5 6.5-6.5 6.5-6.5-6.5zM1437.2 1002.8l6.5 6.5-6.5 6.5-6.5-6.5zM1440.8 1006.3l6.5 6.5-6.5 6.5-6.5-6.5zM1444.4 1002.7l6.5 6.5-6.5 6.5-6.5-6.5zM1448 1007.6l6.5 6.5-6.5 6.5-6.5-6.5zM1451.6 1014.7l6.5 6.5-6.5 6.5-6.5-6.5zM1455.2 1009.5l6.5 6.5-6.5 6.5-6.5-6.5zM1458.8 1012.7l6.5 6.5-6.5 6.5-6.5-6.5zM1462.4 1021.6l6.5 6.5-6.5 6.5-6.5-6.5zM1466 1015.8l6.5 6.5-6.5 6.5-6.5-6.5zM1469.6 1020.4l6.5 6.5-6.5 6.5-6.5-6.5zM1473.1 1022.3l6.5 6.5-6.5 6.5-6.5-6.5zM1476.7 1022.2l6.5 6.5-6.5 6.5-6.5-6.5zM1480.3 1026.5l6.5 6.5-6.5 6.5-6.5-6.5zM1483.9 1027.3l6.5 6.5-6.5 6.5-6.5-6.5zM1487.5 1024.2l6.5 6.5-6.5 6.5-6.5-6.5zM1491.1 1031.3l6.5 6.5-6.5 6.5-6.5-6.5zM1494.7 1025.3l6.5 6.5-6.5 6.5-6.5-6.5zM1498.3 1026.9l6.5 6.5-6.5 6.5-6.5-6.5zM1501.9 1028.2l6.5 6.5-6.5 6.5-6.5-6.5zM1505.5 1029.5l6.5 6.5-6.5 6.5-6.5-6.5zM1509 1026.5l6.5 6.5-6.5 6.5-6.5-6.5zM1512.6 1030.3l6.5 6.5-6.5 6.5-6.5-6.5zM1516.2 1024.3l6.5 6.5-6.5 6.5-6.5-6.5zM1519.8 1029l6.5 6.5-6.5 6.5-6.5-6.5zM1523.4 1028.3l6.5 6.5-6.5 6.5-6.5-6.5zM1527 1029.2l6.5 6.5-6.5 6.5-6.5-6.5zM1530.6 1031.3l6.5 6.5-6.5 6.5-6.5-6.5zM1534.2 1032.5l6.5 6.5-6.5 6.5-6.5-6.5zM1537.8 1030.3l6.5 6.5-6.5 6.5-6.5-6.5zM1541.4 1032.4l6.5 6.5-6.5 6.5-6.5-6.5zM1544.9 1028.5l6.5 6.5-6.5 6.5-6.5-6.5zM1548.5 1031.4l6.5 6.5-6.5 6.5-6.5-6.5zM1552.1 1034.8l6.5 6.5-6.5 6.5-6.5-6.5zM1555.7 1030.6l6.5 6.5-6.5 6.5-6.5-6.5zM1559.3 1031.5l6.5 6.5-6.5 6.5-6.5-6.5zM1562.9 1032.3l6.5 6.5-6.5 6.5-6.5-6.5zM1566.5 1034.4l6.5 6.5-6.5 6.5-6.5-6.5zM1570.1 1033.3l6.5 6.5-6.5 6.5-6.5-6.5zM1573.7 1031.9l6.5 6.5-6.5 6.5-6.5-6.5zM1577.3 1029.8l6.5 6.5-6.5 6.5-6.5-6.5zM1580.8 1032.9l6.5 6.5-6.5 6.5-6.5-6.5zM1584.4 1026.7l6.5 6.5-6.5 6.5-6.5-6.5zM1588 1033.2l6.5 6.5-6.5 6.5-6.5-6.5zM1591.6 1029.9l6.5 6.5-6.5 6.5-6.5-6.5zM1595.2 1033l6.5 6.5-6.5 6.5-6.5-6.5zM1598.8 1030.7l6.5 6.5-6.5 6.5-6.5-6.5zM1602.4 1033.8l6.5 6.5-6.5 6.5-6.5-6.5zM1606 1028.1l6.5 6.5-6.5 6.5-6.5-6.5zM1609.6 1023.8l6.5 6.5-6.5 6.5-6.5-6.5zM1613.2 1028l6.5 6.5-6.5 6.5-6.5-6.5zM1616.7 1025.7l6.5 6.5-6.5 6.5-6.5-6.5zM1620.3 1026l6.5 6.5-6.5 6.5-6.5-6.5zM1623.9 1028.6l6.5 6.5-6.5 6.5-6.5-6.5zM1627.5 1022.7l6.5 6.5-6.5 6.5-6.5-6.5zM1631.1 1026.3l6.5 6.5-6.5 6.5-6.5-6.5zM1634.7 1026.3l6.5 6.5-6.5 6.5-6.5-6.5zM1638.3 1026.1l6.5 6.5-6.5 6.5-6.5-6.5zM1641.9 1017.6l6.5 6.5-6.5 6.5-6.5-6.5zM1645.5 1022.3l6.5 6.5-6.5 6.5-6.5-6.5zM1649.1 1019.3l6.5 6.5-6.5 6.5-6.5-6.5zM1652.6 1019.6l6.5 6.5-6.5 6.5-6.5-6.5zM1656.2 1016.9l6.5 6.5-6.5 6.5-6.5-6.5zM1659.8 1016.8l6.5 6.5-6.5 6.5-6.5-6.5zM1663.4 1018.2l6.5 6.5-6.5 6.5-6.5-6.5zM1667 1017.4l6.5 6.5-6.5 6.5-6.5-6.5zM1670.6 1011.4l6.5 6.5-6.5 6.5-6.5-6.5zM1674.2 1002.5l6.5 6.5-6.5 6.5-6.5-6.5zM1677.8 1004.6l6.5 6.5-6.5 6.5-6.5-6.5zM1681.4 993.2l6.5 6.5-6.5 6.5-6.5-6.5zM1685 989.2l6.5 6.5-6.5 6.5-6.5-6.5zM1688.5 985.3l6.5 6.5-6.5 6.5-6.5-6.5zM1692.1 970.3l6.5 6.5-6.5 6.5-6.5-6.5zM1695.7 962.5l6.5 6.5-6.5 6.5-6.5-6.5zM1699.3 949.3l6.5 6.5-6.5 6.5-6.5-6.5zM1702.9 936.9l6.5 6.5-6.5 6.5-6.5-6.5zM1706.5 931.3l6.5 6.5-6.5 6.5-6.5-6.5zM1710.1 920.2l6.5 6.5-6.5 6.5-6.5-6.5zM1713.7 916.6l6.5 6.5-6.5 6.5-6.5-6.5zM1717.3 906l6.5 6.5-6.5 6.5-6.5-6.5zM1720.9 892.1l6.5 6.5-6.5 6.5-6.5-6.5zM1724.4 872.5l6.5 6.5-6.5 6.5-6.5-6.5zM1728 870l6.5 6.5-6.5 6.5-6.5-6.5zM1731.6 856.1l6.5 6.5-6.5 6.5-6.5-6.5zM1735.2 840.3l6.5 6.5-6.5 6.5-6.5-6.5zM1738.8 828.6l6.5 6.5-6.5 6.5-6.5-6.5zM1742.4 820.5l6.5 6.5-6.5 6.5-6.5-6.5zM1746 816.8l6.5 6.5-6.5 6.5-6.5-6.5zM1749.6 814l6.5 6.5-6.5 6.5-6.5-6.5zM1753.2 807.8l6.5 6.5-6.5 6.5-6.5-6.5zM1756.8 792.4l6.5 6.5-6.5 6.5-6.5-6.5zM1760.3 780.9l6.5 6.5-6.5 6.5-6.5-6.5zM1763.9 783.8l6.5 6.5-6.5 6.5-6.5-6.5zM1767.5 802.6l6.5 6.5-6.5 6.5-6.5-6.5zM1771.1 819l6.5 6.5-6.5 6.5-6.5-6.5zM1774.7 827.5l6.5 6.5-6.5 6.5-6.5-6.5zM1778.3 840.6l6.5 6.5-6.5 6.5-6.5-6.5zM1781.9 852.8l6.5 6.5-6.5 6.5-6.5-6.5zM1785.5 864.3l6.5 6.5-6.5 6.5-6.5-6.5zM1789.1 881.4l6.5 6.5-6.5 6.5-6.5-6.5zM1792.7 903.9l6.5 6.5-6.5 6.5-6.5-6.5zM1796.2 925.7l6.5 6.5-6.5 6.5-6.5-6.5zM1799.8 944.9l6.5 6.5-6.5 6.5-6.5-6.5zM1803.4 964.5l6.5 6.5-6.5 6.5-6.5-6.5zM1807 979.9l6.5 6.5-6.5 6.5-6.5-6.5zM1810.6 995.1l6.5 6.5-6.5 6.5-6.5-6.5zM1814.2 1002.6l6.5 6.5-6.5 6.5-6.5-6.5zM1817.8 1018.1l6.5 6.5-6.5 6.5-6.5-6.5zM1821.4 1025.4l6.5 6.5-6.5 6.5-6.5-6.5zM1825 1033.6l6.5 6.5-6.5 6.5-6.5-6.5zM1828.6 1031.9l6.5 6.5-6.5 6.5-6.5-6.5zM1832.1 1041.9l6.5 6.5-6.5 6.5-6.5-6.5zM1835.7 1054.7l6.5 6.5-6.5 6.5-6.5-6.5zM1839.3 1059.3l6.5 6.5-6.5 6.5-6.5-6.5zM1842.9 1057.9l6.5 6.5-6.5 6.5-6.5-6.5zM1846.5 1066l6.5 6.5-6.5 6.5-6.5-6.5zM1850.1 1073.4l6.5 6.5-6.5 6.5-6.5-6.5zM1853.7 1077.1l6.5 6.5-6.5 6.5-6.5-6.5zM1857.3 1082.8l6.5 6.5-6.5 6.5-6.5-6.5zM1860.9 1084.8l6.5 6.5-6.5 6.5-6.5-6.5zM1864.5 1085.8l6.5 6.5-6.5 6.5-6.5-6.5zM1868 1090.6l6.5 6.5-6.5 6.5-6.5-6.5zM1871.6 1091.8l6.5 6.5-6.5 6.5-6.5-6.5zM1875.2 1097.5l6.5 6.5-6.5 6.5-6.5-6.5zM1878.8 1093.2l6.5 6.5-6.5 6.5-6.5-6.5zM1882.4 1098.5l6.5 6.5-6.5 6.5-6.5-6.5zM1886 1099.2l6.5 6.5-6.5 6.5-6.5-6.5zM1889.6 1101.7l6.5 6.5-6.5 6.5-6.5-6.5zM1893.2 1104.6l6.5 6.5-6.5 6.5-6.5-6.5zM1896.8 1106.3l6.5 6.5-6.5 6.5-6.5-6.5zM1900.4 1100l6.5 6.5-6.5 6.5-6.5-6.5zM1903.9 1109.5l6.5 6.5-6.5 6.5-6.5-6.5zM1907.5 1108.9l6.5 6.5-6.5 6.5-6.5-6.5zM1911.1 1110l6.5 6.5-6.5 6.5-6.5-6.5zM1914.7 1109.9l6.5 6.5-6.5 6.5-6.5-6.5zM1918.3 1113.2l6.5 6.5-6.5 6.5-6.5-6.5zM1921.9 1112.9l6.5 6.5-6.5 6.5-6.5-6.5zM1925.5 1108.1l6.5 6.5-6.5 6.5-6.5-6.5zM1929.1 1111.9l6.5 6.5-6.5 6.5-6.5-6.5zM1932.7 1113.8l6.5 6.5-6.5 6.5-6.5-6.5zM1936.3 1114.3l6.5 6.5-6.5 6.5-6.5-6.5zM1939.8 1114.8l6.5 6.5-6.5 6.5-6.5-6.5zM1943.4 1118.2l6.5 6.5-6.5 6.5-6.5-6.5zM1947 1114.3l6.5 6.5-6.5 6.5-6.5-6.5zM1950.6 1115.8l6.5 6.5-6.5 6.5-6.5-6.5zM1954.2 1115.6l6.5 6.5-6.5 6.5-6.5-6.5zM1957.8 1118.5l6.5 6.5-6.5 6.5-6.5-6.5zM1961.4 1120.1l6.5 6.5-6.5 6.5-6.5-6.5zM1965 1116.9l6.5 6.5-6.5 6.5-6.5-6.5zM1968.6 1120.4l6.5 6.5-6.5 6.5-6.5-6.5zM1972.2 1117.9l6.5 6.5-6.5 6.5-6.5-6.5zM1975.7 1123l6.5 6.5-6.5 6.5-6.5-6.5zM1979.3 1113.8l6.5 6.5-6.5 6.5-6.5-6.5zM1982.9 1119.3l6.5 6.5-6.5 6.5-6.5-6.5zM1986.5 1122.3l6.5 6.5-6.5 6.5-6.5-6.5zM1990.1 1118.4l6.5 6.5-6.5 6.5-6.5-6.5zM1993.7 1116.5l6.5 6.5-6.5 6.5-6.5-6.5zM1997.3 1117.1l6.5 6.5-6.5 6.5-6.5-6.5zM2000.9 1120.8l6.5 6.5-6.5 6.5-6.5-6.5zM2004.5 1117.9l6.5 6.5-6.5 6.5-6.5-6.5zM2008.1 1122.1l6.5 6.5-6.5 6.5-6.5-6.5zM2011.6 1119.5l6.5 6.5-6.5 6.5-6.5-6.5zM2015.2 1118l6.5 6.5-6.5 6.5-6.5-6.5zM2018.8 1118.4l6.5 6.5-6.5 6.5-6.5-6.5zM2022.4 1120.9l6.5 6.5-6.5 6.5-6.5-6.5zM2026 1122.5l6.5 6.5-6.5 6.5-6.5-6.5zM2029.6 1118l6.5 6.5-6.5 6.5-6.5-6.5zM2033.2 1117.2l6.5 6.5-6.5 6.5-6.5-6.5zM2036.8 1117.5l6.5 6.5-6.5 6.5-6.5-6.5zM2040.4 1122l6.5 6.5-6.5 6.5-6.5-6.5zM2044 1125.7l6.5 6.5-6.5 6.5-6.5-6.5zM2047.5 1119.9l6.5 6.5-6.5 6.5-6.5-6.5zM2051.1 1123.2l6.5 6.5-6.5 6.5-6.5-6.5zM2054.7 1120.6l6.5 6.5-6.5 6.5-6.5-6.5zM2058.3 1124.2l6.5 6.5-6.5 6.5-6.5-6.5zM2061.9 1118.2l6.5 6.5-6.5 6.5-6.5-6.5zM2065.5 1123.8l6.5 6.5-6.5 6.5-6.5-6.5zM2069.1 1119.1l6.5 6.5-6.5 6.5-6.5-6.5zM2072.7 1120.5l6.5 6.5-6.5 6.5-6.5-6.5zM2076.3 1123.8l6.5 6.5-6.5 6.5-6.5-6.5zM2079.9 1122.6l6.5 6.5-6.5 6.5-6.5-6.5zM2083.4 1123.3l6.5 6.5-6.5 6.5-6.5-6.5z"/>
<path fill="#ff7f0a" d="M443.5 1179.2l3.25-5.6h6.5l3.25 5.6-3.25 5.6h-6.5zM447.1 1184.7l3.25-5.6h6.5l3.25 5.6-3.25 5.6h-6.5zM450.7 1184.9l3.25-5.6h6.5l3.25 5.6-3.25 5.6h-6.5zM454.3 1185.4l3.25-5.6h6.5l3.25 5.6-3.25 5.6h-6.5zM457.9 1176l3.25-5.6h6.5l3.25 5.6-3.25 5.6h-6.5zM461.4 1179.4l3.25-5.6h6.5l3.25 5.6-3.25 5.6h-6.5zM465 1179.7l3.25-5.6h6.5l3.25 5.6-3.25 5.6h-6.5zM468.6 1177.5l3.25-5.6h6.5l3.25 5.6-3.25 5.6h-6.5zM472.2 1182.2l3.25-5.6h6.5l3.25 5.6-3.25 5.6h-6.5zM475.8 1183.6l3.25-5.6h6.5l3.25 5.6-3.25 5.6h-6.5zM479.4 1184.6l3.25-5.6h6.5l3.25 5.6-3.25 5.6h-6.5zM483 1184.1l3.25-5.6h6.5l3.25 5.6-3.25 5.6h-6.5zM486.6 1181.6l3.25-5.6h6.5l3.25 5.6-3.25 5.6h-6.5zM490.2 1185.5l3.25-5.6h6.5l3.25 5.6-3.25 5.6h-6.5zM493.8 1181.9l3.25-5.6h6.5l3.25 5.6-3.25 5.6h-6.5zM497.3 1175.3l3.25-5.6h6.5l3.25 5.6-3.25 5.6h-6.5zM500.9 1180.1l3.25-5.6h6.5l3.25 5.6-3.25 5.6h-6.5zM504.5 1178.8l3.25-5.6h6.5l3.25 5.6-3.25 5.6h-6.5zM508.1 1181.6l3.25-5.6h6.5l3.25 5.6-3.25 5.6h-6.5zM511.7 1179.5l3.25-5.6h6.5l3.25 5.6-3.25 5.6h-6.5zM515.3 1179.8l3.25-5.6h6.5l3.25 5.6-3.25 5.6h-6.5zM518.9 1184.3l3.25-5.6h6.5l3.25 5.6-3.25 5.6h-6.5zM522.5 1178.7l3.25-5.6h6.5l3.25 5.6-3.25 5.6h-6.5zM526.1 1177.1l3.25-5.6h6.5l3.25 5.6-3.25 5.6h-6.5zM529.7 1181.4l3.25-5.6h6.5l3.25 5.6-3.25 5.6h-6.5zM533.2 1182.5l3.25-5.6h6.5l3.25 5.6-3.25 5.6h-6.5zM536.8 1180.5l3.25-5.6h6.5l3.25 5.6-3.25 5.6h-6.5zM540.4 1180.8l3.25-5.6h6.5l3.25 5.6-3.25 5.6h-6.5zM544 1179.3l3.25-5.6h6.5l3.25 5.6-3.25 5.6h-6.5zM547.6 1177.4l3.25-5.6h6.5l3.25 5.6-3.25 5.6h-6.5zM551.2 1178.9l3.25-5.6h6.5l3.25 5.6-3.25 5.6h-6.5zM554.8 1178.1l3.25-5.6h6.5l3.25 5.6-3.25 5.6h-6.5zM558.4 1184.2l3.25-5.6h6.5l3.25 5.6-3.25 5.6h-6.5zM562 1180.2l3.25-5.6h6.5l3.25 5.6-3.25 5.6h-6.5zM565.6 1184.5l3.25-5.6h6.5l3.25 5.6-3.25 5.6h-6.5zM569.1 1180.2l3.25-5.6h6.5l3.25 5.6-3.25 5.6h-6.5zM572.7 1178l3.25-5.6h6.5l3.25 5.6-3.25 5.6h-6.5zM576.3 1180.8l3.25-5.6h6.5l3.25 5.6-3.25 5.6h-6.5zM579.9 1180.6l3.25-5.6h6.5l3.25 5.6-3.25 5.6h-6.5zM583.5 1183.5l3.25-5.6h6.5l3.25 5.6-3.25 5.6h-6.5zM587.1 1174.4l3.25-5.6h6.5l3.25 5.6-3.25 5.6h-6.5zM590.7 1178.5l3.25-5.6h6.5l3.25 5.6-3.25 5.6h-6.5zM594.3 1180.6l3.25-5.6h6.5l3.25 5.6-3.25 5.6h-6.5zM597.9 1177.4l3.25-5.6h6.5l3.25 5.6-3.25 5.6h-6.5zM601.5 1179.6l3.25-5.6h6.5l3.25 5.6-3.25 5.6h-6.5zM605 1178.4l3.25-5.6h6.5l3.25 5.6-3.25 5.6h-6.5zM608.6 1182.8l3.25-5.6h6.5l3.25 5.6-3.25 5.6h-6.5zM612.2 1182.3l3.25-5.6h6.5l3.25 5.6-3.25 5.6h-6.5zM615.8 1173.4l3.25-5.6h6.5l3.25 5.6-3.25 5.6h-6.5zM619.4 1174.7l3.25-5.6h6.5l3.25 5.6-3.25 5.6h-6.5zM623 1176.6l3.25-5.6h6.5l3.25 5.6-3.25 5.6h-6.5zM626.6 1178.4l3.25-5.6h6.5l3.25 5.6-3.25 5.6h-6.5zM630.2 1178.1l3.25-5.6h6.5l3.25 5.6-3.25 5.6h-6.5zM633.8 1177.2l3.25-5.6h6.5l3.25 5.6-3.25 5.6h-6.5zM637.4 1180.1l3.25-5.6h6.5l3.25 5.6-3.25 5.6h-6.5zM640.9 1180.8l3.25-5.6h6.5l3.25 5.6-3.25 5.6h-6.5zM644.5 1178.8l3.25-5.6h6.5l3.25 5.6-3.25 5.6h-6.5zM648.1 1177.8l3.25-5.6h6.5l3.25 5.6-3.25 5.6h-6.5zM651.7 1178.6l3.25-5.6h6.5l3.25 5.6-3.25 5.6h-6.5zM655.3 1176.4l3.25-5.6h6.5l3.25 5.6-3.25 5.6h-6.5zM658.9 1180.7l3.25-5.6h6.5l3.25 5.6-3.25 5.6h-6.5zM662.5 1180.8l3.25-5.6h6.5l3.25 5.6-3.25 5.6h-6.5zM666.1 1176.1l3.25-5.6h6.5l3.25 5.6-3.25 5.6h-6.5zM669.7 1182.4l3.25-5.6h6.5l3.25 5.6-3.25 5.6h-6.5zM673.3 1178.4l3.25-5.6h6.5l3.25 5.6-3.25 5.6h-6.5zM676.8 1180.7l3.25-5.6h6.5l3.25 5.6-3.25 5.6h-6.5zM680.4 1178.5l3.25-5.6h6.5l3.25 5.6-3.25 5.6h-6.5zM684 1177.9l3.25-5.6h6.5l3.25 5.6-3.25 5.6h-6.5zM687.6 1180.1l3.25-5.6h6.5l3.25 5.6-3.25 5.6h-6.5zM691.2 1175.5l3.25-5.6h6.5l3.25 5.6-3.25 5.6h-6.5zM694.8 1177.2l3.25-5.6h6.5l3.25 5.6-3.25 5.6h-6.5zM698.4 1174.5l3.25-5.6h6.5l3.25 5.6-3.25 5.6h-6.5zM702 1178.7l3.25-5.6h6.5l3.25 5.6-3.25 5.6h-6.5zM705.6 1176.5l3.25-5.6h6.5l3.25 5.6-3.25 5.6h-6.5zM709.2 1176.1l3.25-5.6h6.5l3.25 5.6-3.25 5.6h-6.5zM712.7 1175.3l3.25-5.6h6.5l3.25 5.6-3.25 5.6h-6.5zM716.3 1178.1l3.25-5.6h6.5l3.25 5.6-3.25 5.6h-6.5zM719.9 1176.9l3.25-5.6h6.5l3.25 5.6-3.25 5.6h-6.5zM723.5 1175.4l3.25-5.6h6.5l3.25 5.6-3.25 5.6h-6.5zM727.1 1174.4l3.25-5.6h6.5l3.25 5.6-3.25 5.6h-6.5zM730.7 1180.1l3.25-5.6h6.5l3.25 5.6-3.25 5.6h-6.5zM734.3 1179l3.25-5.6h6.5l3.25 5.6-3.25 5.6h-6.5zM737.9 1171.8l3.25-5.6h6.5l3.25 5.6-3.25 5.6h-6.5zM741.5 1177.6l3.25-5.6h6.5l3.25 5.6-3.25 5.6h-6.5zM745.1 1175.5l3.25-5.6h6.5l3.25 5.6-3.25 5.6h-6.5zM748.6 1174.6l3.25-5.6h6.5l3.25 5.6-3.25 5.6h-6.5zM752.2 1174.6l3.25-5.6h6.5l3.25 5.6-3.25 5.6h-6.5zM755.8 1169.5l3.25-5.6h6.5l3.25 5.6-3.25 5.6h-6.5zM759.4 1178.5l3.25-5.6h6.5l3.25 5.6-3.25 5.6h-6.5zM763 1177.9l3.25-5.6h6.5l3.25 5.6-3.25 5.6h-6.5zM766.6 1172.2l3.25-5.6h6.5l3.25 5.6-3.25 5.6h-6.5zM770.2 1171.8l3.25-5.6h6.5l3.25 5.6-3.25 5.6h-6.5zM773.8 1171.9l3.25-5.6h6.5l3.25 5.6-3.25 5.6h-6.5zM777.4 1169.4l3.25-5.6h6.5l3.25 5.6-3.25 5.6h-6.5zM781 1172.2l3.25-5.6h6.5l3.25 5.6-3.25 5.6h-6.5zM784.5 1170.4l3.25-5.6h6.5l3.25 5.6-3.25 5.6h-6.5zM788.1 1167.3l3.25-5.6h6.5l3.25 5.6-3.25 5.6h-6.5zM791.7 1168.6l3.25-5.6h6.5l3.25 5.6-3.25 5.6h-6.5zM795.3 1167.8l3.25-5.6h6.5l3.25 5.6-3.25 5.6h-6.5zM798.9 1167.6l3.25-5.6h6.5l3.25 5.6-3.25 5.6h-6.5zM802.5 1168l3.25-5.6h6.5l3.25 5.6-3.25 5.6h-6.5zM806.1 1170.2l3.25-5.6h6.5l3.25 5.6-3.25 5.6h-6.5zM809.7 1167.2l3.25-5.6h6.5l3.25 5.6-3.25 5.6h-6.5zM813.3 1163.7l3.25-5.6h6.5l3.25 5.6-3.25 5.6h-6.5zM816.9 1171.4l3.25-5.6h6.5l3.25 5.6-3.25 5.6h-6.5zM820.4 1165.8l3.25-5.6h6.5l3.25 5.6-3.25 5.6h-6.5zM824 1170.8l3.25-5.6h6.5l3.25 5.6-3.25 5.6h-6.5zM827.6 1167.4l3.25-5.6h6.5l3.25 5.6-3.25 5.6h-6.5zM831.2 1167.9l3.25-5.6h6.5l3.25 5.6-3.25 5.6h-6.5zM834.8 1163.9l3.25-5.6h6.5l3.25 5.6-3.25 5.6h-6.5zM838.4 1166.1l3.25-5.6h6.5l3.25 5.6-3.25 5.6h-6.5zM842 1164.5l3.25-5.6h6.5l3.25 5.6-3.25 5.6h-6.5zM845.6 1165.1l3.25-5.6h6.5l3.25 5.6-3.25 5.6h-6.5zM849.2 1166.2l3.25-5.6h6.5l3.25 5.6-3.25 5.6h-6.5zM852.8 1163.6l3.25-5.6h6.5l3.25 5.6-3.25 5.6h-6.5zM856.3 1166.4l3.25-5.6h6.5l3.25 5.6-3.25 5.6h-6.5zM859.9 1160.1l3.25-5.6h6.5l3.25 5.6-3.25 5.6h-6.5zM863.5 1160.6l3.25-5.6h6.5l3.25 5.6-3.25 5.6h-6.5zM867.1 1164.2l3.25-5.6h6.5l3.25 5.6-3.25 5.6h-6.5zM870.7 1164l3.25-5.6h6.5l3.25 5.6-3.25 5.6h-6.5zM874.3 1165.1l3.25-5.6h6.5l3.25 5.6-3.25 5.6h-6.5zM877.9 1166.1l3.25-5.6h6.5l3.25 5.6-3.25 5.6h-6.5zM881.5 1162.6l3.25-5.6h6.5l3.25 5.6-3.25 5.6h-6.5zM885.1 1163l3.25-5.6h6.5l3.25 5.6-3.25 5.6h-6.5zM888.7 1161.3l3.25-5.6h6.5l3.25 5.6-3.25 5.6h-6.5zM892.2 1160.6l3.25-5.6h6.5l3.25 5.6-3.25 5.6h-6.5zM895.8 1159.6l3.25-5.6h6.5l3.25 5.6-3.25 5.6h-6.5zM899.4 1159.8l3.25-5.6h6.5l3.25 5.6-3.25 5.6h-6.5zM903 1157.7l3.25-5.6h6.5l3.25 5.6-3.25 5.6h-6.5zM906.6 1158.4l3.25-5.6h6.5l3.25 5.6-3.25 5.6h-6.5zM910.2 1160.6l3.25-5.6h6.5l3.25 5.6-3.25 5.6h-6.5zM913.8 1159.5l3.25-5.6h6.5l3.25 5.6-3.25 5.6h-6.5zM917.4 1160.9l3.25-5.6h6.5l3.25 5.6-3.25 5.6h-6.5zM921 1156.3l3.25-5.6h6.5l3.25 5.6-3.25 5.6h-6.5zM924.6 1156.3l3.25-5.6h6.5l3.25 5.6-3.25 5.6h-6.5zM928.1 1157.9l3.25-5.6h6.5l3.25 5.6-3.25 5.6h-6.5zM931.7 1154.1l3.25-5.6h6.5l3.25 5.6-3.25 5.6h-6.5zM935.3 1153.5l3.25-5.6h6.5l3.25 5.6-3.25 5.6h-6.5zM938.9 1156.9l3.25-5.6h6.5l3.25 5.6-3.25 5.6h-6.5zM942.5 1153.8l3.25-5.6h6.5l3.25 5.6-3.25 5.6h-6.5zM946.1 1156.1l3.25-5.6h6.5l3.25 5.6-3.25 5.6h-6.5zM949.7 1153.2l3.25-5.6h6.5l3.25 5.6-3.25 5.6h-6.5zM953.3 1150.9l3.25-5.6h6.5l3.25 5.6-3.25 5.6h-6.5zM956.9 1148.4l3.25-5.6h6.5l3.25 5.6-3.25 5.6h-6.5zM960.5 1153.3l3.25-5.6h6.5l3.25 5.6-3.25 5.6h-6.5zM964 1148.9l3.25-5.6h6.5l3.25 5.6-3.25 5.6h-6.5zM967.6 1145.8l3.25-5.6h6.5l3.25 5.6-3.25 5.6h-6.5zM971.2 1143.1l3.25-5.6h6.5l3.25 5.6-3.25 5.6h-6.5zM974.8 1142.7l3.25-5.6h6.5l3.25 5.6-3.25 5.6h-6.5zM978.4 1143.8l3.25-5.6h6.5l3.25 5.6-3.25 5.6h-6.5zM982 1147l3.25-5.6h6.5l3.25 5.6-3.25 5.6h-6.5zM985.6 1140.1l3.25-5.6h6.5l3.25 5.6-3.25 5.6h-6.5zM989.2 1142l3.25-5.6h6.5l3.25 5.6-3.25 5.6h-6.5zM992.8 1140.5l3.25-5.6h6.5l3.25 5.6-3.25 5.6h-6.5zM996.4 1133l3.25-5.6h6.5l3.25 5.6-3.25 5.6h-6.5zM999.9 1133.9l3.25-5.6h6.5l3.25 5.6-3.25 5.6h-6.5zM1003.5 1137.9l3.25-5.6h6.5l3.25 5.6-3.25 5.6h-6.5zM1007.1 1129l3.25-5.6h6.5l3.25 5.6-3.25 5.6h-6.5zM1010.7 1136l3.25-5.6h6.5l3.25 5.6-3.25 5.6h-6.5zM1014.3 1131.7l3.25-5.6h6.5l3.25 5.6-3.25 5.6h-6.5zM1017.9 1125.8l3.25-5.6h6.5l3.25 5.6-3.25 5.6h-6.5zM1021.5 1133.7l3.25-5.6h6.5l3.25 5.6-3.25 5.6h-6.5zM1025.1 1126.9l3.25-5.6h6.5l3.25 5.6-3.25 5.6h-6.5zM1028.7 1129.9l3.25-5.6h6.5l3.25 5.6-3.25 5.6h-6.5zM1032.3 1124.7l3.25-5.6h6.5l3.25 5.6-3.25 5.6h-6.5zM1035.8 1120.6l3.25-5.6h6.5l3.25 5.6-3.25 5.6h-6.5zM1039.4 1124l3.25-5.6h6.5l3.25 5.6-3.25 5.6h-6.5zM1043 1124.3l3.25-5.6h6.5l3.25 5.6-3.25 5.6h-6.5zM1046.6 1121.5l3.25-5.6h6.5l3.25 5.6-3.25 5.6h-6.5zM1050.2 1113.7l3.25-5.6h6.5l3.25 5.6-3.25 5.6h-6.5zM1053.8 1117.2l3.25-5.6h6.5l3.25 5.6-3.25 5.6h-6.5zM1057.4 1111.3l3.25-5.6h6.5l3.25 5.6-3.25 5.6h-6.5zM1061 1111.8l3.25-5.6h6.5l3.25 5.6-3.25 5.6h-6.5zM1064.6 1115.9l3.25-5.6h6.5l3.25 5.6-3.25 5.6h-6.5zM1068.2 1107.7l3.25-5.6h6.5l3.25 5.6-3.25 5.6h-6.5zM1071.7 1116.6l3.25-5.6h6.5l3.25 5.6-3.25 5.6h-6.5zM1075.3 1105.6l3.25-5.6h6.5l3.25 5.6-3.25 5.6h-6.5zM1078.9 1105.4l3.25-5.6h6.5l3.25 5.6-3.25 5.6h-6.5zM1082.5 1109.8l3.25-5.6h6.5l3.25 5.6-3.25 5.6h-6.5zM1086.1 1106.3l3.25-5.6h6.5l3.25 5.6-3.25 5.6h-6.5zM1089.7 1105.4l3.25-5.6h6.5l3.25 5.6-3.25 5.6h-6.5zM1093.3 1102.2l3.25-5.6h6.5l3.25 5.6-3.25 5.6h-6.5zM1096.9 1105.2l3.25-5.6h6.5l3.25 5.6-3.25 5.6h-6.5zM1100.5 1102.2l3.25-5.6h6.5l3.25 5.6-3.25 5.6h-6.5zM1104.1 1099.6l3.25-5.6h6.5l3.25 5.6-3.25 5.6h-6.5zM1107.6 1095.9l3.25-5.6h6.5l3.25 5.6-3.25 5.6h-6.5zM1111.2 1092.5l3.25-5.6h6.5l3.25 5.6-3.25 5.6h-6.5zM1114.8 1095.2l3.25-5.6h6.5l3.25 5.6-3.25 5.6h-6.5zM1118.4 1089l3.25-5.6h6.5l3.25 5.6-3.25 5.6h-6.5zM1122 1092l3.25-5.6h6.5l3.25 5.6-3.25 5.6h-6.5zM1125.6 1094.8l3.25-5.6h6.5l3.25 5.6-3.25 5.6h-6.5zM1129.2 1094.4l3.25-5.6h6.5l3.25 5.6-3.25 5.6h-6.5zM1132.8 1090.7l3.25-5.6h6.5l3.25 5.6-3.25 5.6h-6.5zM1136.4 1085.4l3.25-5.6h6.5l3.25 5.6-3.25 5.6h-6.5zM1140 1090.8l3.25-5.6h6.5l3.25 5.6-3.25 5.6h-6.5zM1143.5 1089.8l3.25-5.6h6.5l3.25 5.6-3.25 5.6h-6.5zM1147.1 1085.5l3.25-5.6h6.5l3.25 5.6-3.25 5.6h-6.5zM1150.7 1086.6l3.25-5.6h6.5l3.25 5.6-3.25 5.6h-6.5zM1154.3 1084l3.25-5.6h6.5l3.25 5.6-3.25 5.6h-6.5zM1157.9 1075.2l3.25-5.6h6.5l3.25 5.6-3.25 5.6h-6.5zM1161.5 1077.3l3.25-5.6h6.5l3.25 5.6-3.25 5.6h-6.5zM1165.1 1075l3.25-5.6h6.5l3.25 5.6-3.25 5.6h-6.5zM1168.7 1078.9l3.25-5.6h6.5l3.25 5.6-3.25 5.6h-6.5zM1172.3 1076.2l3.25-5.6h6.5l3.25 5.6-3.25 5.6h-6.5zM1175.9 1072.4l3.25-5.6h6.5l3.25 5.6-3.25 5.6h-6.5zM1179.4 1072.6l3.25-5.6h6.5l3.25 5.6-3.25 5.6h-6.5zM1183 1072.5l3.25-5.6h6.5l3.25 5.6-3.25 5.6h-6.5zM1186.6 1067.3l3.25-5.6h6.5l3.25 5.6-3.25 5.6h-6.5zM1190.2 1067.6l3.25-5.6h6.5l3.25 5.6-3.25 5.6h-6.5zM1193.8 1066.4l3.25-5.6h6.5l3.25 5.6-3.25 5.6h-6.5zM1197.4 1063.8l3.25-5.6h6.5l3.25 5.6-3.25 5.6h-6.5zM1201 1061.9l3.25-5.6h6.5l3.25 5.6-3.25 5.6h-6.5zM1204.6 1060.9l3.25-5.6h6.5l3.25 5.6-3.25 5.6h-6.5zM1208.2 1054.5l3.25-5.6h6.5l3.25 5.6-3.25 5.6h-6.5zM1211.8 1052.6l3.25-5.6h6.5l3.25 5.6-3.25 5.6h-6.5zM1215.3 1055.9l3.25-5.6h6.5l3.25 5.6-3.25 5.6h-6.5zM1218.9 1056.2l3.25-5.6h6.5l3.25 5.6-3.25 5.6h-6.5zM1222.5 1055.6l3.25-5.6h6.5l3.25 5.6-3.25 5.6h-6.5zM1226.1 1044.5l3.25-5.6h6.5l3.25 5.6-3.25 5.6h-6.5zM1229.7 1048.6l3.25-5.6h6.5l3.25 5.6-3.25 5.6h-6.5zM1233.3 1043.6l3.25-5.6h6.5l3.25 5.6-3.25 5.6h-6.5zM1236.9 1042.4l3.25-5.6h6.5l3.25 5.6-3.25 5.6h-6.5zM1240.5 1041.2l3.25-5.6h6.5l3.25 5.6-3.25 5.6h-6.5zM1244.1 1040.6l3.25-5.6h6.5l3.25 5.6-3.25 5.6h-6.5zM1247.7 1038.7l3.25-5.6h6.5l3.25 5.6-3.25 5.6h-6.5zM1251.2 1029.3l3.25-5.6h6.5l3.25 5.6-3.25 5.6h-6.5zM1254.8 1030.3l3.25-5.6h6.5l3.25 5.6-3.25 5.6h-6.5zM1258.4 1031.6l3.25-5.6h6.5l3.25 5.6-3.25 5.6h-6.5zM1262 1025.4l3.25-5.6h6.5l3.25 5.6-3.25 5.6h-6.5zM1265.6 1016.9l3.25-5.6h6.5l3.25 5.6-3.25 5.6h-6.5zM1269.2 1014.8l3.25-5.6h6.5l3.25 5.6-3.25 5.6h-6.5zM1272.8 1011.8l3.25-5.6h6.5l3.25 5.6-3.25 5.6h-6.5zM1276.4 1013.6l3.25-5.6h6.5l3.25 5.6-3.25 5.6h-6.5zM1280 1012.7l3.25-5.6h6.5l3.25 5.6-3.25 5.6h-6.5zM1283.6 1002.4l3.25-5.6h6.5l3.25 5.6-3.25 5.6h-6.5zM1287.1 1004.1l3.25-5.6h6.5l3.25 5.6-3.25 5.6h-6.5zM1290.7 999.7l3.25-5.6h6.5l3.25 5.6-3.25 5.6h-6.5zM1294.3 1000l3.25-5.6h6.5l3.25 5.6-3.25 5.6h-6.5zM1297.9 995.9l3.25-5.6h6.5l3.25 5.6-3.25 5.6h-6.5zM1301.5 991.9l3.25-5.6h6.5l3.25 5.6-3.25 5.6h-6.5zM1305.1 992.6l3.25-5.6h6.5l3.25 5.6-3.25 5.6h-6.5zM1308.7 994.8l3.25-5.6h6.5l3.25 5.6-3.25 5.6h-6.5zM1312.3 1003.5l3.25-5.6h6.5l3.25 5.6-3.25 5.6h-6.5zM1315.9 998.9l3.25-5.6h6.5l3.25 5.6-3.25 5.6h-6.5zM1319.5 1002.8l3.25-5.6h6.5l3.25 5.6-3.25 5.6h-6.5zM1323 999.5l3.25-5.6h6.5l3.25 5.6-3.25 5.6h-6.5zM1326.6 1000.3l3.25-5.6h6.5l3.25 5.6-3.25 5.6h-6.5zM1330.2 1002.9l3.25-5.6h6.5l3.25 5.6-3.25 5.6h-6.5zM1333.8 1000.8l3.25-5.6h6.5l3.25 5.6-3.25 5.6h-6.5zM1337.4 1007.4l3.25-5.6h6.5l3.25 5.6-3.25 5.6h-6.5zM1341 1005.3l3.25-5.6h6.5l3.25 5.6-3.25 5.6h-6.5zM1344.6 998.3l3.25-5.6h6.5l3.25 5.6-3.25 5.6h-6.5zM1348.2 1002.2l3.25-5.6h6.5l3.25 5.6-3.25 5.6h-6.5zM1351.8 1004.4l3.25-5.6h6.5l3.25 5.6-3.25 5.6h-6.5zM1355.4 997.2l3.25-5.6h6.5l3.25 5.6-3.25 5.6h-6.5zM1358.9 1000.6l3.25-5.6h6.5l3.25 5.6-3.25 5.6h-6.5zM1362.5 1007.9l3.25-5.6h6.5l3.25 5.6-3.25 5.6h-6.5zM1366.1 1004.2l3.25-5.6h6.5l3.25 5.6-3.25 5.6h-6.5zM1369.7 1011.2l3.25-5.6h6.5l3.25 5.6-3.25 5.6h-6.5zM1373.3 1012.9l3.25-5.6h6.5l3.25 5.6-3.25 5.6h-6.5zM1376.9 1017l3.25-5.6h6.5l3.25 5.6-3.25 5.6h-6.5zM1380.5 1016.6l3.25-5.6h6.5l3.25 5.6-3.25 5.6h-6.5zM1384.1 1021.5l3.25-5.6h6.5l3.25 5.6-3.25 5.6h-6.5zM1387.7 1022.6l3.25-5.6h6.5l3.25 5.6-3.25 5.6h-6.5zM1391.3 1030.4l3.25-5.6h6.5l3.25 5.6-3.25 5.6h-6.5zM1394.8 1029.3l3.25-5.6h6.5l3.25 5.6-3.25 5.6h-6.5zM1398.4 1029.5l3.25-5.6h6.5l3.25 5.6-3.25 5.6h-6.5zM1402 1030.7l3.25-5.6h6.5l3.25 5.6-3.25 5.6h-6.5zM1405.6 1034l3.25-5.6h6.5l3.25 5.6-3.25 5.6h-6.5zM1409.2 1029.4l3.25-5.6h6.5l3.25 5.6-3.25 5.6h-6.5zM1412.8 1032.6l3.25-5.6h6.5l3.25 5.6-3.25 5.6h-6.5zM1416.4 1034.5l3.25-5.6h6.5l3.25 5.6-3.25 5.6h-6.5zM1420 1036.9l3.25-5.6h6.5l3.25 5.6-3.25 5.6h-6.5zM1423.6 1036.9l3.25-5.6h6.5l3.25 5.6-3.25 5.6h-6.5zM1427.2 1044.9l3.25-5.6h6.5l3.25 5.6-3.25 5.6h-6.5zM1430.7 1044.6l3.25-5.6h6.5l3.25 5.6-3.25 5.6h-6.5zM1434.3 1051.3l3.25-5.6h6.5l3.25 5.6-3.25 5.6h-6.5zM1437.9 1049.7l3.25-5.6h6.5l3.25 5.6-3.25 5.6h-6.5zM1441.5 1051.1l3.25-5.6h6.5l3.25 5.6-3.25 5.6h-6.5zM1445.1 1055.3l3.25-5.6h6.5l3.25 5.6-3.25 5.6h-6.5zM1448.7 1057.1l3.25-5.6h6.5l3.25 5.6-3.25 5.6h-6.5zM1452.3 1056.8l3.25-5.6h6.5l3.25 5.6-3.25 5.6h-6.5zM1455.9 1060.3l3.25-5.6h6.5l3.25 5.6-3.25 5.6h-6.5zM1459.5 1063.1l3.25-5.6h6.5l3.25 5.6-3.25 5.6h-6.5zM1463.1 1059.4l3.25-5.6h6.5l3.25 5.6-3.25 5.6h-6.5zM1466.6 1064.7l3.25-5.6h6.5l3.25 5.6-3.25 5.6h-6.5zM1470.2 1061.4l3.25-5.6h6.5l3.25 5.6-3.25 5.6h-6.5zM1473.8 1064.8l3.25-5.6h6.5l3.25 5.6-3.25 5.6h-6.5zM1477.4 1062.8l3.25-5.6h6.5l3.25 5.6-3.25 5.6h-6.5zM1481 1062.3l3.25-5.6h6.5l3.25 5.6-3.25 5.6h-6.5zM1484.6 1064.4l3.25-5.6h6.5l3.25 5.6-3.25 5.6h-6.5zM1488.2 1061l3.25-5.6h6.5l3.25 5.6-3.25 5.6h-6.5zM1491.8 1060l3.25-5.6h6.5l3.25 5.6-3.25 5.6h-6.5zM1495.4 1064.6l3.25-5.6h6.5l3.25 5.6-3.25 5.6h-6.5zM1499 1064.6l3.25-5.6h6.5l3.25 5.6-3.25 5.6h-6.5zM1502.5 1063.1l3.25-5.6h6.5l3.25 5.6-3.25 5.6h-6.5zM1506.1 1072.4l3.25-5.6h6.5l3.25 5.6-3.25 5.6h-6.5zM1509.7 1068.7l3.25-5.6h6.5l3.25 5.6-3.25 5.6h-6.5zM1513.3 1066.5l3.25-5.6h6.5l3.25 5.6-3.25 5.6h-6.5zM1516.9 1070.2l3.25-5.6h6.5l3.25 5.6-3.25 5.6h-6.5zM1520.5 1070.7l3.25-5.6h6.5l3.25 5.6-3.25 5.6h-6.5zM1524.1 1068.7l3.25-5.6h6.5l3.25 5.6-3.25 5.6h-6.5zM1527.7 1069.4l3.25-5.6h6.5l3.25 5.6-3.25 5.6h-6.5zM1531.3 1065.4l3.25-5.6h6.5l3.25 5.6-3.25 5.6h-6.5zM1534.9 1071.3l3.25-5.6h6.5l3.25 5.6-3.25 5.6h-6.5zM1538.4 1076.1l3.25-5.6h6.5l3.25 5.6-3.25 5.6h-6.5zM1542 1074.6l3.25-5.6h6.5l3.25 5.6-3.25 5.6h-6.5zM1545.6 1074.7l3.25-5.6h6.5l3.25 5.6-3.25 5.6h-6.5zM1549.2 1070.8l3.25-5.6h6.5l3.25 5.6-3.25 5.6h-6.5zM1552.8 1069.8l3.25-5.6h6.5l3.25 5.6-3.25 5.6h-6.5zM1556.4 1075.1l3.25-5.6h6.5l3.25 5.6-3.25 5.6h-6.5zM1560 1073.6l3.25-5.6h6.5l3.25 5.6-3.25 5.6h-6.5zM1563.6 1072.3l3.25-5.6h6.5l3.25 5.6-3.25 5.6h-6.5zM1567.2 1072l3.25-5.6h6.5l3.25 5.6-3.25 5.6h-6.5zM1570.8 1075.3l3.25-5.6h6.5l3.25 5.6-3.25 5.6h-6.5zM1574.3 1074.5l3.25-5.6h6.5l3.25 5.6-3.25 5.6h-6.5zM1577.9 1071.6l3.25-5.6h6.5l3.25 5.6-3.25 5.6h-6.5zM1581.5 1072.3l3.25-5.6h6.5l3.25 5.6-3.25 5.6h-6.5zM1585.1 1067.9l3.25-5.6h6.5l3.25 5.6-3.25 5.6h-6.5zM1588.7 1068.8l3.25-5.6h6.5l3.25 5.6-3.25 5.6h-6.5zM1592.3 1072.9l3.25-5.6h6.5l3.25 5.6-3.25 5.6h-6.5zM1595.9 1069.7l3.25-5.6h6.5l3.25 5.6-3.25 5.6h-6.5zM1599.5 1067.9l3.25-5.6h6.5l3.25 5.6-3.25 5.6h-6.5zM1603.1 1069.9l3.25-5.6h6.5l3.25 5.6-3.25 5.6h-6.5zM1606.7 1071.4l3.25-5.6h6.5l3.25 5.6-3.25 5.6h-6.5zM1610.2 1064.5l3.25-5.6h6.5l3.25 5.6-3.25 5.6h-6.5zM1613.8 1064.6l3.25-5.6h6.5l3.25 5.6-3.25 5.6h-6.5zM1617.4 1063.5l3.25-5.6h6.5l3.25 5.6-3.25 5.6h-6.5zM1621 1068.8l3.25-5.6h6.5l3.25 5.6-3.25 5.6h-6.5zM1624.6 1063.9l3.25-5.6h6.5l3.25 5.6-3.25 5.6h-6.5zM1628.2 1060.5l3.25-5.6h6.5l3.25 5.6-3.25 5.6h-6.5zM1631.8 1054.8l3.25-5.6h6.5l3.25 5.6-3.25 5.6h-6.5zM1635.4 1059.7l3.25-5.6h6.5l3.25 5.6-3.25 5.6h-6.5zM1639 1058.5l3.25-5.6h6.5l3.25 5.6-3.25 5.6h-6.5zM1642.6 1055.9l3.25-5.6h6.5l3.25 5.6-3.25 5.6h-6.5zM1646.1 1053.9l3.25-5.6h6.5l3.25 5.6-3.25 5.6h-6.5zM1649.7 1054l3.25-5.6h6.5l3.25 5.6-3.25 5.6h-6.5zM1653.3 1049.9l3.25-5.6h6.5l3.25 5.6-3.25 5.6h-6.5zM1656.9 1051.5l3.25-5.6h6.5l3.25 5.6-3.25 5.6h-6.5zM1660.5 1048.5l3.25-5.6h6.5l3.25 5.6-3.25 5.6h-6.5zM1664.1 1043.8l3.25-5.6h6.5l3.25 5.6-3.25 5.6h-6.5zM1667.7 1041.6l3.25-5.6h6.5l3.25 5.6-3.25 5.6h-6.5zM1671.3 1034.5l3.25-5.6h6.5l3.25 5.6-3.25 5.6h-6.5zM1674.9 1037.3l3.25-5.6h6.5l3.25 5.6-3.25 5.6h-6.5zM1678.5 1028.9l3.25-5.6h6.5l3.25 5.6-3.25 5.6h-6.5zM1682 1019.9l3.25-5.6h6.5l3.25 5.6-3.25 5.6h-6.5zM1685.6 1017.5l3.25-5.6h6.5l3.25 5.6-3.25 5.6h-6.5zM1689.2 1009.6l3.25-5.6h6.5l3.25 5.6-3.25 5.6h-6.5zM1692.8 1000.1l3.25-5.6h6.5l3.25 5.6-3.25 5.6h-6.5zM1696.4 991.1l3.25-5.6h6.5l3.25 5.6-3.25 5.6h-6.5zM1700 987l3.25-5.6h6.5l3.25 5.6-3.25 5.6h-6.5zM1703.6 979.5l3.25-5.6h6.5l3.25 5.6-3.25 5.6h-6.5zM1707.2 965.2l3.25-5.6h6.5l3.25 5.6-3.25 5.6h-6.5zM1710.8 957.8l3.25-5.6h6.5l3.25 5.6-3.25 5.6h-6.5zM1714.4 951.5l3.25-5.6h6.5l3.25 5.6-3.25 5.6h-6.5zM1717.9 938.2l3.25-5.6h6.5l3.25 5.6-3.25 5.6h-6.5zM1721.5 934.8l3.25-5.6h6.5l3.25 5.6-3.25 5.6h-6.5zM1725.1 921.7l3.25-5.6h6.5l3.25 5.6-3.25 5.6h-6.5zM1728.7 919.9l3.25-5.6h6.5l3.25 5.6-3.25 5.6h-6.5zM1732.3 910.3l3.25-5.6h6.5l3.25 5.6-3.25 5.6h-6.5zM1735.9 907.4l3.25-5.6h6.5l3.25 5.6-3.25 5.6h-6.5zM1739.5 901.4l3.25-5.6h6.5l3.25 5.6-3.25 5.6h-6.5zM1743.1 895.7l3.25-5.6h6.5l3.25 5.6-3.25 5.6h-6.5zM1746.7 888.3l3.25-5.6h6.5l3.25 5.6-3.25 5.6h-6.5zM1750.3 883.9l3.25-5.6h6.5l3.25 5.6-3.25 5.6h-6.5zM1753.8 892.5l3.25-5.6h6.5l3.25 5.6-3.25 5.6h-6.5zM1757.4 904.6l3.25-5.6h6.5l3.25 5.6-3.25 5.6h-6.5zM1761 907.4l3.25-5.6h6.5l3.25 5.6-3.25 5.6h-6.5zM1764.6 910.7l3.25-5.6h6.5l3.25 5.6-3.25 5.6h-6.5zM1768.2 923.2l3.25-5.6h6.5l3.25 5.6-3.25 5.6h-6.5zM1771.8 934.1l3.25-5.6h6.5l3.25 5.6-3.25 5.6h-6.5zM1775.4 941.1l3.25-5.6h6.5l3.25 5.6-3.25 5.6h-6.5zM1779 961.5l3.25-5.6h6.5l3.25 5.6-3.25 5.6h-6.5zM1782.6 973.5l3.25-5.6h6.5l3.25 5.6-3.25 5.6h-6.5zM1786.2 986.7l3.25-5.6h6.5l3.25 5.6-3.25 5.6h-6.5zM1789.7 1006.5l3.25-5.6h6.5l3.25 5.6-3.25 5.6h-6.5zM1793.3 1022.4l3.25-5.6h6.5l3.25 5.6-3.25 5.6h-6.5zM1796.9 1031.8l3.25-5.6h6.5l3.25 5.6-3.25 5.6h-6.5zM1800.5 1041.8l3.25-5.6h6.5l3.25 5.6-3.25 5.6h-6.5zM1804.1 1051.4l3.25-5.6h6.5l3.25 5.6-3.25 5.6h-6.5zM1807.7 1063.3l3.25-5.6h6.5l3.25 5.6-3.25 5.6h-6.5zM1811.3 1066.5l3.25-5.6h6.5l3.25 5.6-3.25 5.6h-6.5zM1814.9 1071.5l3.25-5.6h6.5l3.25 5.6-3.25 5.6h-6.5zM1818.5 1081.1l3.25-5.6h6.5l3.25 5.6-3.25 5.6h-6.5zM1822.1 1081.1l3.25-5.6h6.5l3.25 5.6-3.25 5.6h-6.5zM1825.6 1083l3.25-5.6h6.5l3.25 5.6-3.25 5.6h-6.5zM1829.2 1093.2l3.25-5.6h6.5l3.25 5.6-3.25 5.6h-6.5zM1832.8 1097.5l3.25-5.6h6.5l3.25 5.6-3.25 5.6h-6.5zM1836.4 1103.7l3.25-5.6h6.5l3.25 5.6-3.25 5.6h-6.5zM1840 1105.7l3.25-5.6h6.5l3.25 5.6-3.25 5.6h-6.5zM1843.6 1113.1l3.25-5.6h6.5l3.25 5.6-3.25 5.6h-6.5zM1847.2 1113l3.25-5.6h6.5l3.25 5.6-3.25 5.6h-6.5zM1850.8 1113.4l3.25-5.6h6.5l3.25 5.6-3.25 5.6h-6.5zM1854.4 1118l3.25-5.6h6.5l3.25 5.6-3.25 5.6h-6.5zM1858 1121.4l3.25-5.6h6.5l3.25 5.6-3.25 5.6h-6.5zM1861.5 1120l3.25-5.6h6.5l3.25 5.6-3.25 5.6h-6.5zM1865.1 1124.4l3.25-5.6h6.5l3.25 5.6-3.25 5.6h-6.5zM1868.7 1127.3l3.25-5.6h6.5l3.25 5.6-3.25 5.6h-6.5zM1872.3 1127.3l3.25-5.6h6.5l3.25 5.6-3.25 5.6h-6.5zM1875.9 1130.3l3.25-5.6h6.5l3.25 5.6-3.25 5.6h-6.5zM1879.5 1131.7l3.25-5.6h6.5l3.25 5.6-3.25 5.6h-6.5zM1883.1 1131.3l3.25-5.6h6.5l3.25 5.6-3.25 5.6h-6.5zM1886.7 1136.1l3.25-5.6h6.5l3.25 5.6-3.25 5.6h-6.5zM1890.3 1138.4l3.25-5.6h6.5l3.25 5.6-3.25 5.6h-6.5zM1893.9 1133.3l3.25-5.6h6.5l3.25 5.6-3.25 5.6h-6.5zM1897.4 1138l3.25-5.6h6.5l3.25 5.6-3.25 5.6h-6.5zM1901 1142.6l3.25-5.6h6.5l3.25 5.6-3.25 5.6h-6.5zM1904.6 1142.1l3.25-5.6h6.5l3.25 5.6-3.25 5.6h-6.5zM1908.2 1136.4l3.25-5.6h6.5l3.25 5.6-3.25 5.6h-6.5zM1911.8 1142.3l3.25-5.6h6.5l3.25 5.6-3.25 5.6h-6.5zM1915.4 1145.6l3.25-5.6h6.5l3.25 5.6-3.25 5.6h-6.5zM1919 1144.5l3.25-5.6h6.5l3.25 5.6-3.25 5.6h-6.5zM1922.6 1144.6l3.25-5.6h6.5l3.25 5.6-3.25 5.6h-6.5zM1926.2 1142.7l3.25-5.6h6.5l3.25 5.6-3.25 5.6h-6.5zM1929.8 1143.6l3.25-5.6h6.5l3.25 5.6-3.25 5.6h-6.5zM1933.3 1140.8l3.25-5.6h6.5l3.25 5.6-3.25 5.6h-6.5zM1936.9 1144.3l3.25-5.6h6.5l3.25 5.6-3.25 5.6h-6.5zM1940.5 1150.6l3.25-5.6h6.5l3.25 5.6-3.25 5.6h-6.5zM1944.1 1145l3.25-5.6h6.5l3.25 5.6-3.25 5.6h-6.5zM1947.7 1142.9l3.25-5.6h6.5l3.25 5.6-3.25 5.6h-6.5zM1951.3 1146.9l3.25-5.6h6.5l3.25 5.6-3.25 5.6h-6.5zM1954.9 1140.4l3.25-5.6h6.5l3.25 5.6-3.25 5.6h-6.5zM1958.5 1151.8l3.25-5.6h6.5l3.25 5.6-3.25 5.6h-6.5zM1962.1 1147.7l3.25-5.6h6.5l3.25 5.6-3.25 5.6h-6.5zM1965.7 1145.6l3.25-5.6h6.5l3.25 5.6-3.25 5.6h-6.5zM1969.2 1145.4l3.25-5.6h6.5l3.25 5.6-3.25 5.6h-6.5zM1972.8 1144.1l3.25-5.6h6.5l3.25 5.6-3.25 5.6h-6.5zM1976.4 1146.9l3.25-5.6h6.5l3.25 5.6-3.25 5.6h-6.5zM1980 1146.7l3.25-5.6h6.5l3.25 5.6-3.25 5.6h-6.5zM1983.6 1142.6l3.25-5.6h6.5l3.25 5.6-3.25 5.6h-6.5zM1987.2 1149.2l3.25-5.6h6.5l3.25 5.6-3.25 5.6h-6.5zM1990.8 1145.7l3.25-5.6h6.5l3.25 5.6-3.25 5.6h-6.5zM1994.4 1143.8l3.25-5.6h6.5l3.25 5.6-3.25 5.6h-6.5zM1998 1149.1l3.25-5.6h6.5l3.25 5.6-3.25 5.6h-6.5zM2001.6 1148.6l3.25-5.6h6.5l3.25 5.6-3.25 5.6h-6.5zM2005.1 1145.2l3.25-5.6h6.5l3.25 5.6-3.25 5.6h-6.5zM2008.7 1145l3.25-5.6h6.5l3.25 5.6-3.25 5.6h-6.5zM2012.3 1149.5l3.25-5.6h6.5l3.25 5.6-3.25 5.6h-6.5zM2015.9 1145.6l3.25-5.6h6.5l3.25 5.6-3.25 5.6h-6.5zM2019.5 1147.2l3.25-5.6h6.5l3.25 5.6-3.25 5.6h-6.5zM2023.1 1150.2l3.25-5.6h6.5l3.25 5.6-3.25 5.6h-6.5zM2026.7 1143.6l3.25-5.6h6.5l3.25 5.6-3.25 5.6h-6.5zM2030.3 1143.3l3.25-5.6h6.5l3.25 5.6-3.25 5.6h-6.5zM2033.9 1145.6l3.25-5.6h6.5l3.25 5.6-3.25 5.6h-6.5zM2037.5 1147l3.25-5.6h6.5l3.25 5.6-3.25 5.6h-6.5zM2041 1149.3l3.25-5.6h6.5l3.25 5.6-3.25 5.6h-6.5zM2044.6 1152.4l3.25-5.6h6.5l3.25 5.6-3.25 5.6h-6.5zM2048.2 1149.3l3.25-5.6h6.5l3.25 5.6-3.25 5.6h-6.5zM2051.8 1155.2l3.25-5.6h6.5l3.25 5.6-3.25 5.6h-6.5zM2055.4 1151.5l3.25-5.6h6.5l3.25 5.6-3.25 5.6h-6.5zM2059 1145.8l3.25-5.6h6.5l3.25 5.6-3.25 5.6h-6.5zM2062.6 1150.8l3.25-5.6h6.5l3.25 5.6-3.25 5.6h-6.5zM2066.2 1152.8l3.25-5.6h6.5l3.25 5.6-3.25 5.6h-6.5zM2069.8 1153.8l3.25-5.6h6.5l3.25 5.6-3.25 5.6h-6.5zM2073.4 1149.1l3.25-5.6h6.5l3.25 5.6-3.25 5.6h-6.5zM2076.9 1150.7l3.25-5.6h6.5l3.25 5.6-3.25 5.6h-6.5z"/>
<path fill="#966432" d="M443.5 1116.9h13v13h-13zM447.1 1113.9h13v13h-13zM450.7 1115.2h13v13h-13zM454.3 1106h13v13h-13zM457.9 1107.6h13v13h-13zM461.4 1106.8h13v13h-13zM465 1109.2h13v13h-13zM468.6 1112.2h13v13h-13zM472.2 1110.2h13v13h-13zM475.8 1112.5h13v13h-13zM479.4 1108.7h13v13h-13zM483 1113.9h13v13h-13zM486.6 1113.5h13v13h-13zM490.2 1105.8h13v13h-13zM493.8 1107.7h13v13h-13zM497.3 1109.1h13v13h-13zM500.9 1113.4h13v13h-13zM504.5 1113.3h13v13h-13zM508.1 1116.3h13v13h-13zM511.7 1106.4h13v13h-13zM515.3 1111.5h13v13h-13zM518.9 1110.7h13v13h-13zM522.5 1109.6h13v13h-13zM526.1 1109.6h13v13h-13zM529.7 1103.4h13v13h-13zM533.2 1110h13v13h-13zM536.8 1107.3h13v13h-13zM540.4 1104.3h13v13h-13zM544 1111.9h13v13h-13zM547.6 1105.1h13v13h-13zM551.2 1107.6h13v13h-13zM554.8 1104.6h13v13h-13zM558.4 1101.9h13v13h-13zM562 1105h13v13h-13zM565.6 1107.3h13v13h-13zM569.1 1103.1h13v13h-13zM572.7 1107.6h13v13h-13zM576.3 1111.1h13v13h-13zM579.9 1109.5h13v13h-13zM583.5 1104.9h13v13h-13zM587.1 1103.4h13v13h-13zM590.7 1108.6h13v13h-13zM594.3 1101.5h13v13h-13zM597.9 1102.6h13v13h-13zM601.5 1111h13v13h-13zM605 1107h13v13h-13zM608.6 1107.3h13v13h-13zM612.2 1105h13v13h-13zM615.8 1112.4h13v13h-13zM619.4 1112.4h13v13h-13zM623 1105.5h13v13h-13zM626.6 1108.5h13v13h-13zM630.2 1105.1h13v13h-13zM633.8 1107.4h13v13h-13zM637.4 1110.1h13v13h-13zM640.9 1109.9h13v13h-13zM644.5 1105.1h13v13h-13zM648.1 1107h13v13h-13zM651.7 1111.9h13v13h-13zM655.3 1108.4h13v13h-13zM658.9 1109.6h13v13h-13zM662.5 1106.7h13v13h-13zM666.1 1104.4h13v13h-13zM669.7 1101.1h13v13h-13zM673.3 1101.2h13v13h-13zM676.8 1098.8h13v13h-13zM680.4 1100.2h13v13h-13zM684 1100.5h13v13h-13zM687.6 1104.9h13v13h-13zM691.2 1097h13v13h-13zM694.8 1102.8h13v13h-13zM698.4 1094.9h13v13h-13zM702 1106.6h13v13h-13zM705.6 1097.9h13v13h-13zM709.2 1099.5h13v13h-13zM712.7 1103.8h13v13h-13zM716.3 1097.2h13v13h-13zM719.9 1097.2h13v13h-13zM723.5 1096.5h13v13h-13zM727.1 1096.9h13v13h-13zM730.7 1093h13v13h-13zM734.3 1099.6h13v13h-13zM737.9 1097.6h13v13h-13zM741.5 1094.4h13v13h-13zM745.1 1097.7h13v13h-13zM748.6 1093.5h13v13h-13zM752.2 1092.1h13v13h-13zM755.8 1093.4h13v13h-13zM759.4 1095.1h13v13h-13zM763 1088.8h13v13h-13zM766.6 1092.5h13v13h-13zM770.2 1094.8h13v13h-13zM773.8 1089.9h13v13h-13zM777.4 1094.2h13v13h-13zM781 1089.6h13v13h-13zM784.5 1093.5h13v13h-13zM788.1 1092.5h13v13h-13zM791.7 1093.6h13v13h-13zM795.3 1090.1h13v13h-13zM798.9 1086.1h13v13h-13zM802.5 1085.1h13v13h-13zM806.1 1098.1h13v13h-13zM809.7 1087h13v13h-13zM813.3 1088.6h13v13h-13zM816.9 1085.8h13v13h-13zM820.4 1094.7h13v13h-13zM824 1092.1h13v13h-13zM827.6 1091.9h13v13h-13zM831.2 1085.2h13v13h-13zM834.8 1091.1h13v13h-13zM838.4 1085h13v13h-13zM842 1090.5h13v13h-13zM845.6 1085.9h13v13h-13zM849.2 1078.8h13v13h-13zM852.8 1084.9h13v13h-13zM856.3 1082.2h13v13h-13zM859.9 1091.1h13v13h-13zM863.5 1080.4h13v13h-13zM867.1 1083.4h13v13h-13zM870.7 1083.3h13v13h-13zM874.3 1081.5h13v13h-13zM877.9 1081.7h13v13h-13zM881.5 1083.6h13v13h-13zM885.1 1084.7h13v13h-13zM888.7 1082.1h13v13h-13zM892.2 1082.3h13v13h-13zM895.8 1082.9h13v13h-13zM899.4 1079.5h13v13h-13zM903 1081.2h13v13h-13zM906.6 1081.3h13v13h-13zM910.2 1083.7h13v13h-13zM913.8 1081.8h13v13h-13zM917.4 1080.4h13v13h-13zM921 1080.8h13v13h-13zM924.6 1074.7h13v13h-13zM928.1 1079.8h13v13h-13zM931.7 1074.4h13v13h-13zM935.3 1074.3h13v13h-13zM938.9 1072.9h13v13h-13zM942.5 1075.5h13v13h-13zM946.1 1070.9h13v13h-13zM949.7 1074.1h13v13h-13zM953.3 1070.6h13v13h-13zM956.9 1069.5h13v13h-13zM960.5 1071.7h13v13h-13zM964 1067.2h13v13h-13zM967.6 1072.8h13v13h-13zM971.2 1066.2h13v13h-13zM974.8 1066.2h13v13h-13zM978.4 1070.6h13v13h-13zM982 1061.6h13v13h-13zM985.6 1068.1h13v13h-13zM989.2 1064.7h13v13h-13zM992.8 1064h13v13h-13zM996.4 1063.4h13v13h-13zM999.9 1059h13v13h-13zM1003.5 1065.9h13v13h-13zM1007.1 1061.5h13v13h-13zM1010.7 1060.7h13v13h-13zM1014.3 1060h13v13h-13zM1017.9 1059.2h13v13h-13zM1021.5 1055.6h13v13h-13zM1025.1 1050.1h13v13h-13zM1028.7 1047.2h13v13h-13zM1032.3 1045.1h13v13h-13zM1035.8 1045.9h13v13h-13zM1039.4 1048.5h13v13h-13zM1043 1039.6h13v13h-13zM1046.6 1040.8h13v13h-13zM1050.2 1042h13v13h-13zM1053.8 1037.8h13v13h-13zM1057.4 1036.8h13v13h-13zM1061 1033.2h13v13h-13zM1064.6 1035.9h13v13h-13zM1068.2 1032.6h13v13h-13zM1071.7 1031.3h13v13h-13zM1075.3 1031.2h13v13h-13zM1078.9 1032.7h13v13h-13zM1082.5 1033.6h13v13h-13zM1086.1 1026.2h13v13h-13zM1089.7 1030.2h13v13h-13zM1093.3 1024.3h13v13h-13zM1096.9 1020.9h13v13h-13zM1100.5 1023.4h13v13h-13zM1104.1 1024.5h13v13h-13zM1107.6 1023.1h13v13h-13zM1111.2 1023.3h13v13h-13zM1114.8 1014.8h13v13h-13zM1118.4 1024.1h13v13h-13zM1122 1021.2h13v13h-13zM1125.6 1019.4h13v13h-13zM1129.2 1011.3h13v13h-13zM1132.8 1016.2h13v13h-13zM1136.4 1011.8h13v13h-13zM1140 1010.4h13v13h-13zM1143.5 1010.3h13v13h-13zM1147.1 1003.6h13v13h-13zM1150.7 1009.6h13v13h-13zM1154.3 1007h13v13h-13zM1157.9 1004h13v13h-13zM1161.5 1003.5h13v13h-13zM1165.1 991.9h13v13h-13zM1168.7 994.4h13v13h-13zM1172.3 992.7h13v13h-13zM1175.9 988.5h13v13h-13zM1179.4 993.5h13v13h-13zM1183 996.5h13v13h-13zM1186.6 985.4h13v13h-13zM1190.2 989.2h13v13h-13zM1193.8 986.5h13v13h-13zM1197.4 985.6h13v13h-13zM1201 984.4h13v13h-13zM1204.6 985.1h13v13h-13zM1208.2 980.1h13v13h-13zM1211.8 979.7h13v13h-13zM1215.3 984.9h13v13h-13zM1218.9 978.7h13v13h-13zM1222.5 977.5h13v13h-13zM1226.1 971h13v13h-13zM1229.7 976.5h13v13h-13zM1233.3 975.8h13v13h-13zM1236.9 973.7h13v13h-13zM1240.5 976.6h13v13h-13zM1244.1 964.9h13v13h-13zM1247.7 972.6h13v13h-13zM1251.2 963.9h13v13h-13zM1254.8 964.4h13v13h-13zM1258.4 960.3h13v13h-13zM1262 967.5h13v13h-13zM1265.6 963.3h13v13h-13zM1269.2 960.9h13v13h-13zM1272.8 960.7h13v13h-13zM1276.4 952.5h13v13h-13zM1280 955h13v13h-13zM1283.6 955.2h13v13h-13zM1287.1 950.5h13v13h-13zM1290.7 949.8h13v13h-13zM1294.3 943h13v13h-13zM1297.9 946h13v13h-13zM1301.5 942.1h13v13h-13zM1305.1 941.3h13v13h-13zM1308.7 943.2h13v13h-13zM1312.3 936.7h13v13h-13zM1315.9 933.1h13v13h-13zM1319.5 934.9h13v13h-13zM1323 929.3h13v13h-13zM1326.6 936.7h13v13h-13zM1330.2 930.7h13v13h-13zM1333.8 929.5h13v13h-13zM1337.4 929.1h13v13h-13zM1341 921.2h13v13h-13zM1344.6 922.1h13v13h-13zM1348.2 918.9h13v13h-13zM1351.8 924.3h13v13h-13zM1355.4 921.7h13v13h-13zM1358.9 923h13v13h-13zM1362.5 917.9h13v13h-13zM1366.1 918.6h13v13h-13zM1369.7 921.8h13v13h-13zM1373.3 917.1h13v13h-13zM1376.9 916.9h13v13h-13zM1380.5 925h13v13h-13zM1384.1 922.4h13v13h-13zM1387.7 923.2h13v13h-13zM1391.3 917.3h13v13h-13zM1394.8 921.9h13v13h-13zM1398.4 922.6h13v13h-13zM1402 922.6h13v13h-13zM1405.6 926.5h13v13h-13zM1409.2 923.4h13v13h-13zM1412.8 923.3h13v13h-13zM1416.4 933.3h13v13h-13zM1420 929.3h13v13h-13zM1423.6 925.1h13v13h-13zM1427.2 934.9h13v13h-13zM1430.7 930.6h13v13h-13zM1434.3 930.3h13v13h-13zM1437.9 923.4h13v13h-13zM1441.5 934.6h13v13h-13zM1445.1 931.2h13v13h-13zM1448.7 934.8h13v13h-13zM1452.3 936.6h13v13h-13zM1455.9 927.7h13v13h-13zM1459.5 937h13v13h-13zM1463.1 933.5h13v13h-13zM1466.6 930.8h13v13h-13zM1470.2 923.5h13v13h-13zM1473.8 935.5h13v13h-13zM1477.4 930.6h13v13h-13zM1481 931.9h13v13h-13zM1484.6 927.2h13v13h-13zM1488.2 933.5h13v13h-13zM1491.8 934.4h13v13h-13zM1495.4 938.2h13v13h-13zM1499 932h13v13h-13zM1502.5 929.5h13v13h-13zM1506.1 935.6h13v13h-13zM1509.7 936h13v13h-13zM1513.3 941.5h13v13h-13zM1516.9 941.9h13v13h-13zM1520.5 945.5h13v13h-13zM1524.1 951.5h13v13h-13zM1527.7 955.5h13v13h-13zM1531.3 952.7h13v13h-13zM1534.9 948.9h13v13h-13zM1538.4 953.7h13v13h-13zM1542 952.9h13v13h-13zM1545.6 952.9h13v13h-13zM1549.2 952.2h13v13h-13zM1552.8 952.1h13v13h-13zM1556.4 945.3h13v13h-13zM1560 952.8h13v13h-13zM1563.6 951.9h13v13h-13zM1567.2 950.5h13v13h-13zM1570.8 948.3h13v13h-13zM1574.3 950.6h13v13h-13zM1577.9 942.3h13v13h-13zM1581.5 946.7h13v13h-13zM1585.1 948.4h13v13h-13zM1588.7 945h13v13h-13zM1592.3 945.8h13v13h-13zM1595.9 948.7h13v13h-13zM1599.5 944.7h13v13h-13zM1603.1 942.1h13v13h-13zM1606.7 942.8h13v13h-13zM1610.2 944.8h13v13h-13zM1613.8 939.9h13v13h-13zM1617.4 942.3h13v13h-13zM1621 940.1h13v13h-13zM1624.6 940.3h13v13h-13zM1628.2 941.2h13v13h-13zM1631.8 939.7h13v13h-13zM1635.4 936.2h13v13h-13zM1639 935h13v13h-13zM1642.6 934.7h13v13h-13zM1646.1 927.8h13v13h-13zM1649.7 928.2h13v13h-13zM1653.3 921.6h13v13h-13zM1656.9 925.7h13v13h-13zM1660.5 918.6h13v13h-13zM1664.1 910.3h13v13h-13zM1667.7 908.3h13v13h-13zM1671.3 907.4h13v13h-13zM1674.9 901.2h13v13h-13zM1678.5 890.4h13v13h-13zM1682 895.2h13v13h-13zM1685.6 885.2h13v13h-13zM1689.2 880.5h13v13h-13zM1692.8 871.9h13v13h-13zM1696.4 857.2h13v13h-13zM1700 840.6h13v13h-13zM1703.6 837.2h13v13h-13zM1707.2 830h13v13h-13zM1710.8 822.6h13v13h-13zM1714.4 817h13v13h-13zM1717.9 806.3h13v13h-13zM1721.5 796.2h13v13h-13zM1725.1 795.1h13v13h-13zM1728.7 797.5h13v13h-13zM1732.3 788.4h13v13h-13zM1735.9 797.6h13v13h-13zM1739.5 788.5h13v13h-13zM1743.1 796h13v13h-13zM1746.7 789.6h13v13h-13zM1750.3 782.8h13v13h-13zM1753.8 788.5h13v13h-13zM1757.4 787.5h13v13h-13zM1761 790.1h13v13h-13zM1764.6 798.9h13v13h-13zM1768.2 807.1h13v13h-13zM1771.8 807.7h13v13h-13zM1775.4 823.7h13v13h-13zM1779 828.9h13v13h-13zM1782.6 839.5h13v13h-13zM1786.2 854.4h13v13h-13zM1789.7 865.7h13v13h-13zM1793.3 873h13v13h-13zM1796.9 888.6h13v13h-13zM1800.5 893.8h13v13h-13zM1804.1 902.8h13v13h-13zM1807.7 906.3h13v13h-13zM1811.3 914.1h13v13h-13zM1814.9 918.4h13v13h-13zM1818.5 934.3h13v13h-13zM1822.1 935.1h13v13h-13zM1825.6 948h13v13h-13zM1829.2 945.6h13v13h-13zM1832.8 957.4h13v13h-13zM1836.4 960.4h13v13h-13zM1840 967.6h13v13h-13zM1843.6 968.1h13v13h-13zM1847.2 976.6h13v13h-13zM1850.8 978.7h13v13h-13zM1854.4 972.2h13v13h-13zM1858 977.5h13v13h-13zM1861.5 974.1h13v13h-13zM1865.1 975.3h13v13h-13zM1868.7 979.1h13v13h-13zM1872.3 983h13v13h-13zM1875.9 983.2h13v13h-13zM1879.5 981.6h13v13h-13zM1883.1 986.2h13v13h-13zM1886.7 980h13v13h-13zM1890.3 981.4h13v13h-13zM1893.9 984.5h13v13h-13zM1897.4 979.8h13v13h-13zM1901 989.8h13v13h-13zM1904.6 985.8h13v13h-13zM1908.2 985.7h13v13h-13zM1911.8 988.5h13v13h-13zM1915.4 983.7h13v13h-13zM1919 987.9h13v13h-13zM1922.6 983.7h13v13h-13zM1926.2 988.9h13v13h-13zM1929.8 990.4h13v13h-13zM1933.3 995.5h13v13h-13zM1936.9 991.5h13v13h-13zM1940.5 996.2h13v13h-13zM1944.1 992.8h13v13h-13zM1947.7 988.6h13v13h-13zM1951.3 996.2h13v13h-13zM1954.9 994.5h13v13h-13zM1958.5 992.9h13v13h-13zM1962.1 997.5h13v13h-13zM1965.7 991.5h13v13h-13zM1969.2 993.5h13v13h-13zM1972.8 996.8h13v13h-13zM1976.4 997.2h13v13h-13zM1980 992.7h13v13h-13zM1983.6 995.6h13v13h-13zM1987.2 994.9h13v13h-13zM1990.8 996.5h13v13h-13zM1994.4 994h13v13h-13zM1998 988.4h13v13h-13zM2001.6 993.6h13v13h-13zM2005.1 999.2h13v13h-13zM2008.7 992.1h13v13h-13zM2012.3 993.8h13v13h-13zM2015.9 996.7h13v13h-13zM2019.5 993.3h13v13h-13zM2023.1 990.5h13v13h-13zM2026.7 993.4h13v13h-13zM2030.3 992.6h13v13h-13zM2033.9 990.4h13v13h-13zM2037.5 992.4h13v13h-13zM2041 988.6h13v13h-13zM2044.6 988h13v13h-13zM2048.2 989.4h13v13h-13zM2051.8 992.4h13v13h-13zM2055.4 993.3h13v13h-13zM2059 991.9h13v13h-13zM2062.6 997.5h13v13h-13zM2066.2 996.6h13v13h-13zM2069.8 995.6h13v13h-13zM2073.4 999.6h13v13h-13zM2076.9 1001.3h13v13h-13z"/>
<path fill="#0000ff" d="M540 79.4a6.5 6.5 0 1 0 13 0a6.5 6.5 0 1 0-13 0"/>
<path fill="#966432" d="M540 206h13v13h-13z"/>
<path fill="#20ffff" d="M546.5 337.9l6.5 13h-13z"/>
<path fill="#20ff00" d="M546.5 483l6.5-13h-13z"/>
<path fill="#ff00ff" d="M546.5 599l6.5 6.5-6.5 6.5-6.5-6.5z"/>
<path fill="#ff7f0a" d="M540 737.4l3.25-5.6h6.5l3.25 5.6-3.25 5.6h-6.5z"/>
</g>
<g stroke="#f80000" stroke-width="7" shape-rendering="crispEdges">
<path d="M1348.5 23V1216"/>
<path d="M1742.5 27V1220"/>
</g>
<g font-family="'Liberation Sans', Arial, sans-serif" style="font-kerning:none" fill="#000">
<text transform="translate(171.27 188.1) scale(0.97 1)" font-size="86">8000</text>
<text transform="translate(168.59 452.1) scale(0.99 1)" font-size="86">6000</text>
<text transform="translate(170.07 721.8) scale(0.98 1)" font-size="86">4000</text>
<text transform="translate(168.63 988.9) scale(0.99 1)" font-size="86">2000</text>
<text transform="translate(305.54 1254.1) scale(0.97 1)" font-size="86">0</text>
<text transform="translate(380.84 1320) scale(0.98 1)" font-size="86">800</text>
<text transform="translate(683.67 1320) scale(0.98 1)" font-size="86">1000</text>
<text transform="translate(1010.87 1320) scale(0.98 1)" font-size="86">1200</text>
<text transform="translate(1336.87 1320) scale(0.98 1)" font-size="86">1400</text>
<text transform="translate(1664.27 1320) scale(0.98 1)" font-size="86">1600</text>
<text transform="translate(1991.27 1320) scale(0.98 1)" font-size="86">1800</text>
<text transform="translate(917.41 1459.1) scale(0.95 1)" font-size="86">Raman</text>
<text transform="translate(1228.13 1459.1) scale(0.95 1)" font-size="86">shift,</text>
<text transform="translate(1445.11 1459.1) scale(0.98 1)" font-size="86">cm</text>
<text transform="translate(1548.05 1423.9) scale(0.92 1)" font-size="65.4">−</text>
<text transform="translate(1582.77 1423.9) scale(0.95 1)" font-size="65.4">1</text>
<text transform="translate(1356.81 423.9) scale(0.95 1)" font-size="104.5">D</text>
<text transform="translate(1755.73 135) scale(0.98 1)" font-size="104.7">G</text>
<text transform="translate(85 935.63) rotate(-90) scale(1 1)" font-size="86">Raman intensity</text>
<text transform="translate(0 104.6) scale(0.955 1)" x="714.52 755.74 799.12 840.87 882.99 904.27 939.38 974.36 1008.12 1028.76" font-size="69.4">BCBC-400-2</text>
<text transform="translate(0 234.7) scale(0.955 1)" x="714.52 755.74 799.12 840.87 882.99 904.27 939.38 974.36 1008.12 1028.76" font-size="69.4">BCBC-400-4</text>
<text transform="translate(0 368.6) scale(0.955 1)" x="714.52 755.74 799.12 840.87 882.99 904.27 939.38 974.36 1008.12 1028.76" font-size="69.4">BCBC-500-2</text>
<text transform="translate(0 501.6) scale(0.955 1)" x="714.52 755.74 799.12 840.87 882.99 904.27 939.38 974.36 1008.12 1028.76" font-size="69.4">BCBC-500-4</text>
<text transform="translate(0 629.4) scale(0.955 1)" x="714.52 755.74 799.12 840.87 882.99 904.27 939.38 974.36 1008.12 1028.76" font-size="69.4">BCBC-600-2</text>
<text transform="translate(0 760.6) scale(0.955 1)" x="714.52 755.74 799.12 840.87 882.99 904.27 939.38 974.36 1008.12 1028.76" font-size="69.4">BCBC-600-4</text>
</g>
</svg>
</body></html>
